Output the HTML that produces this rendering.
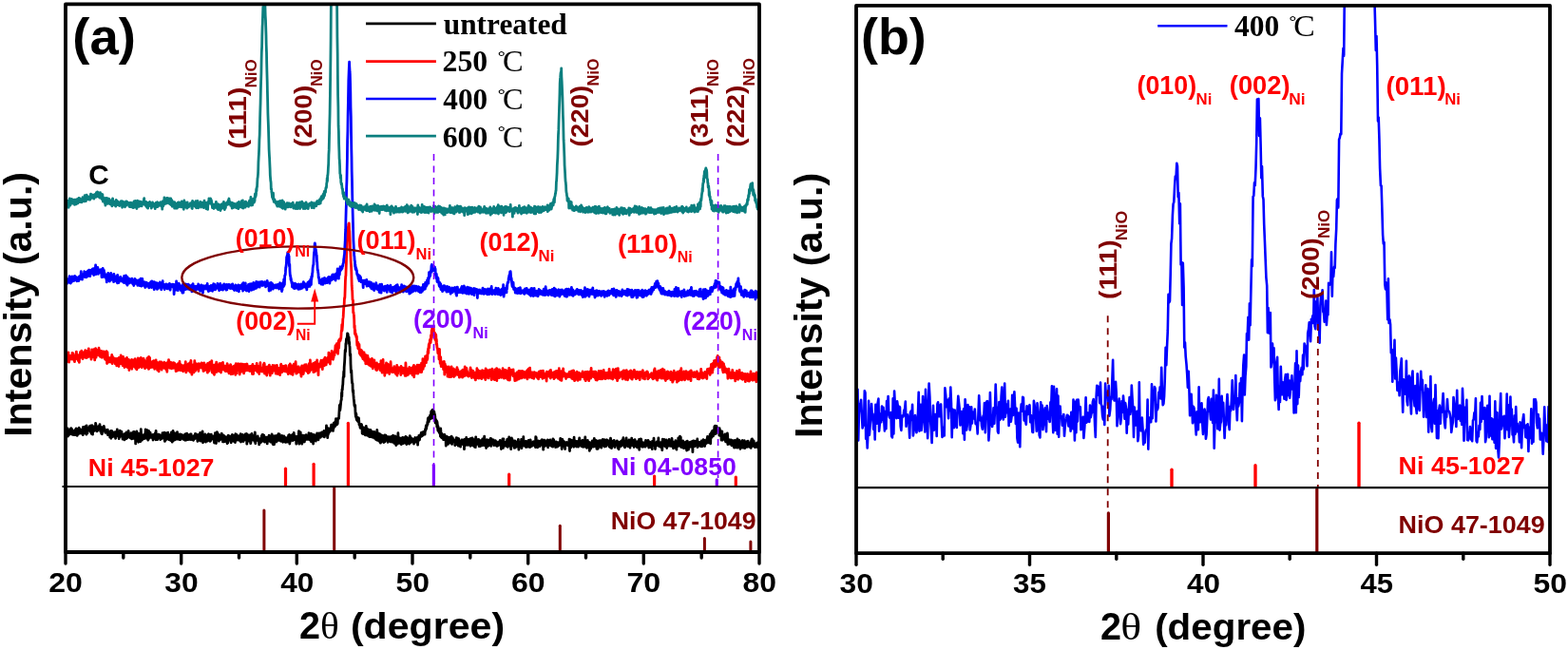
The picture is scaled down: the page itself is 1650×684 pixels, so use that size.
<!DOCTYPE html>
<html><head><meta charset="utf-8"><title>XRD patterns</title>
<style>html,body{margin:0;padding:0;background:#fff;overflow:hidden;}svg{display:block;}</style>
</head><body>
<svg width="1650" height="684" viewBox="0 0 1650 684">
<rect width="1650" height="684" fill="#fff"/>
<defs><clipPath id="clipa"><rect x="69.0" y="4.4" width="730.0" height="576.6"/></clipPath><clipPath id="clipb"><rect x="901.0" y="5.9" width="730.0" height="576.3"/></clipPath></defs>
<polyline fill="none" stroke="#000000" stroke-width="2.80" stroke-linejoin="round" stroke-linecap="round" clip-path="url(#clipa)" points="69.0,455.5 69.2,458.7 69.5,458.4 69.7,454.2 70.0,454.7 70.2,454.1 70.5,456.7 70.7,455.2 70.9,457.1 71.2,450.9 71.4,459.1 71.7,455.1 71.9,456.9 72.2,455.0 72.4,454.4 72.6,456.4 72.9,457.3 73.1,454.8 73.4,454.9 73.6,456.9 73.9,453.1 74.1,451.6 74.4,456.2 74.6,453.6 74.8,450.6 75.1,453.2 75.3,454.0 75.6,452.3 75.8,451.6 76.1,455.2 76.3,457.3 76.5,454.6 76.8,453.3 77.0,456.0 77.3,456.8 77.5,454.4 77.8,456.4 78.0,457.6 78.2,454.6 78.5,453.1 78.7,455.9 79.0,455.6 79.2,457.6 79.5,451.9 79.7,453.4 79.9,453.0 80.2,450.8 80.4,455.3 80.7,456.2 80.9,453.2 81.2,458.3 81.4,456.8 81.7,456.3 81.9,455.7 82.1,457.0 82.4,451.4 82.6,456.0 82.9,455.9 83.1,450.2 83.4,455.2 83.6,453.7 83.8,456.1 84.1,453.1 84.3,454.0 84.6,454.8 84.8,451.8 85.1,455.3 85.3,453.5 85.5,454.9 85.8,452.4 86.0,456.2 86.3,455.0 86.5,453.0 86.8,454.9 87.0,456.3 87.2,457.6 87.5,449.4 87.7,455.2 88.0,454.2 88.2,452.8 88.5,450.5 88.7,455.9 89.0,449.8 89.2,454.1 89.4,455.8 89.7,448.8 89.9,451.8 90.2,449.3 90.4,453.0 90.7,456.0 90.9,457.1 91.1,447.9 91.4,450.7 91.6,453.7 91.9,455.8 92.1,452.9 92.4,450.1 92.6,452.5 92.8,451.8 93.1,451.3 93.3,449.9 93.6,452.6 93.8,452.4 94.1,451.4 94.3,451.0 94.5,448.4 94.8,450.3 95.0,454.3 95.3,450.9 95.5,447.9 95.8,454.5 96.0,452.5 96.3,456.3 96.5,451.3 96.7,450.0 97.0,447.6 97.2,454.2 97.5,457.1 97.7,449.0 98.0,449.3 98.2,452.3 98.4,448.8 98.7,450.1 98.9,449.9 99.2,451.1 99.4,453.3 99.7,450.6 99.9,452.8 100.1,449.5 100.4,451.2 100.6,445.3 100.9,447.0 101.1,452.4 101.4,449.1 101.6,452.0 101.8,451.9 102.1,453.8 102.3,452.7 102.6,453.2 102.8,450.5 103.1,449.2 103.3,449.1 103.6,449.8 103.8,448.3 104.0,449.7 104.3,450.8 104.5,451.7 104.8,450.3 105.0,446.6 105.3,451.1 105.5,451.8 105.7,453.9 106.0,452.7 106.2,449.9 106.5,449.7 106.7,456.3 107.0,453.3 107.2,456.0 107.4,456.7 107.7,449.7 107.9,452.6 108.2,452.8 108.4,453.1 108.7,453.1 108.9,452.4 109.1,452.3 109.4,448.5 109.6,451.9 109.9,450.7 110.1,453.0 110.4,451.8 110.6,454.6 110.9,455.3 111.1,454.3 111.3,454.5 111.6,454.1 111.8,453.0 112.1,453.9 112.3,453.3 112.6,455.6 112.8,454.9 113.0,456.5 113.3,452.1 113.5,457.6 113.8,453.9 114.0,454.1 114.3,455.6 114.5,455.0 114.7,457.2 115.0,455.3 115.2,454.3 115.5,454.9 115.7,460.1 116.0,457.1 116.2,454.2 116.4,457.0 116.7,453.3 116.9,461.3 117.2,453.4 117.4,458.2 117.7,458.4 117.9,453.6 118.2,457.8 118.4,459.5 118.6,458.3 118.9,457.8 119.1,459.4 119.4,457.6 119.6,458.0 119.9,456.9 120.1,458.8 120.3,455.0 120.6,459.2 120.8,456.1 121.1,454.7 121.3,458.2 121.6,461.4 121.8,459.7 122.0,456.1 122.3,459.1 122.5,456.3 122.8,457.1 123.0,457.7 123.3,451.9 123.5,457.9 123.7,455.0 124.0,455.8 124.2,454.0 124.5,453.9 124.7,455.3 125.0,459.5 125.2,461.6 125.5,457.5 125.7,460.2 125.9,457.0 126.2,453.1 126.4,458.0 126.7,458.8 126.9,456.7 127.2,458.4 127.4,459.1 127.6,455.7 127.9,454.2 128.1,457.3 128.4,457.3 128.6,457.0 128.9,460.2 129.1,462.0 129.3,456.9 129.6,459.6 129.8,460.2 130.1,459.6 130.3,460.4 130.6,457.0 130.8,459.7 131.0,462.8 131.3,459.9 131.5,456.5 131.8,459.4 132.0,461.0 132.3,458.8 132.5,456.6 132.8,461.7 133.0,455.0 133.2,459.2 133.5,458.0 133.7,455.1 134.0,460.9 134.2,458.8 134.5,455.2 134.7,459.5 134.9,457.0 135.2,453.5 135.4,456.4 135.7,458.7 135.9,459.6 136.2,458.5 136.4,458.2 136.6,459.2 136.9,457.6 137.1,460.9 137.4,458.5 137.6,458.8 137.9,459.4 138.1,455.6 138.3,456.4 138.6,461.8 138.8,458.9 139.1,457.5 139.3,459.0 139.6,457.0 139.8,458.8 140.1,456.6 140.3,458.8 140.5,454.4 140.8,461.4 141.0,457.0 141.3,454.4 141.5,457.7 141.8,457.3 142.0,458.6 142.2,455.5 142.5,459.2 142.7,466.9 143.0,455.2 143.2,459.1 143.5,457.5 143.7,458.7 143.9,453.9 144.2,455.5 144.4,459.4 144.7,458.2 144.9,462.2 145.2,456.6 145.4,458.7 145.6,465.3 145.9,456.5 146.1,456.2 146.4,458.2 146.6,458.2 146.9,460.4 147.1,458.7 147.4,456.5 147.6,458.9 147.8,464.7 148.1,461.4 148.3,451.7 148.6,458.1 148.8,456.3 149.1,459.9 149.3,458.0 149.5,463.1 149.8,460.7 150.0,460.6 150.3,458.9 150.5,458.4 150.8,459.3 151.0,461.6 151.2,459.8 151.5,457.7 151.7,461.6 152.0,459.0 152.2,458.3 152.5,456.6 152.7,457.2 152.9,457.0 153.2,451.9 153.4,461.0 153.7,459.9 153.9,458.1 154.2,461.1 154.4,459.6 154.7,459.5 154.9,452.7 155.1,458.1 155.4,459.9 155.6,462.5 155.9,463.1 156.1,462.1 156.4,455.9 156.6,453.4 156.8,460.0 157.1,458.8 157.3,461.0 157.6,458.4 157.8,459.2 158.1,455.1 158.3,459.8 158.5,457.7 158.8,459.6 159.0,459.9 159.3,458.5 159.5,459.5 159.8,458.7 160.0,460.6 160.2,460.0 160.5,457.5 160.7,457.4 161.0,463.0 161.2,458.6 161.5,461.2 161.7,459.8 162.0,457.5 162.2,457.1 162.4,459.2 162.7,459.5 162.9,460.4 163.2,455.9 163.4,457.5 163.7,458.7 163.9,462.8 164.1,453.3 164.4,460.0 164.6,457.6 164.9,460.0 165.1,457.8 165.4,459.8 165.6,462.7 165.8,459.8 166.1,460.0 166.3,459.9 166.6,457.2 166.8,460.3 167.1,458.5 167.3,457.1 167.5,458.9 167.8,458.5 168.0,460.9 168.3,459.0 168.5,457.8 168.8,462.6 169.0,461.5 169.3,462.1 169.5,460.6 169.7,458.9 170.0,458.1 170.2,458.5 170.5,461.4 170.7,459.4 171.0,455.6 171.2,459.1 171.4,455.8 171.7,459.6 171.9,456.3 172.2,456.2 172.4,459.5 172.7,459.0 172.9,455.2 173.1,461.0 173.4,464.4 173.6,455.7 173.9,463.6 174.1,457.6 174.4,458.1 174.6,458.8 174.8,455.8 175.1,462.4 175.3,460.5 175.6,457.5 175.8,458.7 176.1,455.7 176.3,458.5 176.6,461.6 176.8,455.2 177.0,458.3 177.3,459.7 177.5,461.9 177.8,462.6 178.0,458.3 178.3,457.6 178.5,460.5 178.7,458.5 179.0,458.7 179.2,462.0 179.5,463.5 179.7,460.1 180.0,459.0 180.2,460.8 180.4,454.9 180.7,459.4 180.9,456.9 181.2,465.2 181.4,461.2 181.7,459.9 181.9,459.1 182.1,453.5 182.4,461.3 182.6,463.5 182.9,457.8 183.1,461.2 183.4,461.3 183.6,455.9 183.9,461.8 184.1,462.8 184.3,460.2 184.6,459.5 184.8,461.5 185.1,455.9 185.3,459.9 185.6,462.2 185.8,456.7 186.0,462.0 186.3,458.7 186.5,454.7 186.8,459.4 187.0,457.4 187.3,460.5 187.5,456.9 187.7,462.2 188.0,458.0 188.2,460.6 188.5,458.3 188.7,459.0 189.0,462.6 189.2,460.3 189.4,458.8 189.7,456.8 189.9,462.6 190.2,461.6 190.4,459.0 190.7,460.4 190.9,457.3 191.2,457.4 191.4,457.8 191.6,460.7 191.9,460.6 192.1,458.1 192.4,461.6 192.6,461.7 192.9,460.3 193.1,462.4 193.3,459.2 193.6,459.6 193.8,461.0 194.1,459.8 194.3,461.8 194.6,456.9 194.8,463.3 195.0,458.0 195.3,459.5 195.5,456.6 195.8,461.4 196.0,463.0 196.3,462.5 196.5,461.9 196.7,456.2 197.0,458.1 197.2,458.9 197.5,457.7 197.7,462.7 198.0,460.4 198.2,459.9 198.5,461.2 198.7,457.7 198.9,457.8 199.2,457.9 199.4,461.2 199.7,460.8 199.9,461.4 200.2,462.6 200.4,456.8 200.6,458.7 200.9,460.4 201.1,456.8 201.4,458.8 201.6,462.5 201.9,462.7 202.1,462.7 202.3,460.2 202.6,459.6 202.8,462.7 203.1,459.2 203.3,460.9 203.6,463.3 203.8,459.2 204.0,458.6 204.3,460.1 204.5,461.6 204.8,461.3 205.0,460.5 205.3,461.5 205.5,456.3 205.8,458.1 206.0,460.5 206.2,457.9 206.5,456.9 206.7,457.3 207.0,458.0 207.2,459.8 207.5,457.7 207.7,460.8 207.9,464.3 208.2,459.9 208.4,463.3 208.7,460.9 208.9,457.5 209.2,459.6 209.4,457.9 209.6,462.1 209.9,457.5 210.1,463.4 210.4,461.6 210.6,455.4 210.9,462.1 211.1,464.0 211.3,458.4 211.6,462.6 211.8,456.0 212.1,460.9 212.3,456.3 212.6,461.5 212.8,456.0 213.1,454.0 213.3,461.3 213.5,465.8 213.8,458.9 214.0,462.3 214.3,460.6 214.5,459.6 214.8,461.8 215.0,464.3 215.2,457.4 215.5,461.7 215.7,461.2 216.0,457.0 216.2,464.3 216.5,465.1 216.7,458.1 216.9,464.6 217.2,460.5 217.4,460.0 217.7,464.0 217.9,461.0 218.2,461.2 218.4,464.1 218.6,463.5 218.9,462.6 219.1,457.1 219.4,456.7 219.6,463.2 219.9,458.2 220.1,460.8 220.4,457.9 220.6,460.0 220.8,457.4 221.1,464.4 221.3,458.0 221.6,460.2 221.8,460.0 222.1,463.4 222.3,457.1 222.5,460.4 222.8,460.0 223.0,461.8 223.3,461.7 223.5,459.4 223.8,461.1 224.0,459.6 224.2,461.7 224.5,460.3 224.7,459.0 225.0,460.5 225.2,461.4 225.5,466.0 225.7,459.4 225.9,461.3 226.2,464.1 226.4,455.6 226.7,456.4 226.9,457.8 227.2,460.3 227.4,466.5 227.7,461.6 227.9,463.5 228.1,460.1 228.4,454.7 228.6,455.1 228.9,463.1 229.1,461.1 229.4,457.5 229.6,463.3 229.8,457.0 230.1,463.4 230.3,464.2 230.6,458.8 230.8,458.0 231.1,462.7 231.3,458.1 231.5,462.8 231.8,457.8 232.0,462.6 232.3,460.9 232.5,459.7 232.8,458.6 233.0,461.3 233.2,456.2 233.5,460.1 233.7,459.8 234.0,462.4 234.2,457.7 234.5,464.9 234.7,460.0 235.0,458.0 235.2,464.1 235.4,464.8 235.7,460.3 235.9,458.6 236.2,460.8 236.4,459.1 236.7,460.1 236.9,464.5 237.1,461.8 237.4,461.2 237.6,461.7 237.9,460.7 238.1,462.8 238.4,462.9 238.6,460.0 238.8,461.1 239.1,466.6 239.3,461.9 239.6,460.4 239.8,465.8 240.1,460.9 240.3,458.2 240.5,462.5 240.8,458.7 241.0,459.7 241.3,461.7 241.5,460.6 241.8,459.1 242.0,459.6 242.3,459.5 242.5,463.7 242.7,459.2 243.0,459.5 243.2,465.8 243.5,459.6 243.7,464.5 244.0,464.1 244.2,460.6 244.4,457.5 244.7,462.0 244.9,462.6 245.2,463.3 245.4,461.1 245.7,463.9 245.9,464.3 246.1,458.5 246.4,464.4 246.6,461.4 246.9,459.6 247.1,460.2 247.4,465.5 247.6,463.4 247.8,456.7 248.1,461.2 248.3,460.7 248.6,460.6 248.8,459.8 249.1,457.5 249.3,463.1 249.6,458.8 249.8,460.2 250.0,459.6 250.3,459.3 250.5,462.8 250.8,462.0 251.0,459.5 251.3,458.8 251.5,460.0 251.7,463.4 252.0,461.4 252.2,461.7 252.5,460.3 252.7,460.5 253.0,461.6 253.2,456.7 253.4,465.0 253.7,459.2 253.9,459.8 254.2,464.4 254.4,461.7 254.7,461.3 254.9,459.8 255.1,457.4 255.4,461.6 255.6,464.1 255.9,459.0 256.1,464.5 256.4,458.5 256.6,459.4 256.9,462.4 257.1,461.2 257.3,462.9 257.6,459.5 257.8,458.8 258.1,456.8 258.3,458.4 258.6,458.7 258.8,457.8 259.0,462.0 259.3,459.7 259.5,456.5 259.8,467.2 260.0,459.3 260.3,458.3 260.5,464.3 260.7,464.1 261.0,458.5 261.2,457.8 261.5,458.9 261.7,464.0 262.0,460.6 262.2,459.4 262.4,461.3 262.7,464.2 262.9,458.0 263.2,460.4 263.4,458.0 263.7,466.6 263.9,465.7 264.2,463.7 264.4,461.1 264.6,463.0 264.9,456.4 265.1,462.1 265.4,458.2 265.6,458.2 265.9,459.7 266.1,460.6 266.3,462.8 266.6,463.1 266.8,462.1 267.1,459.2 267.3,463.1 267.6,461.2 267.8,464.3 268.0,459.3 268.3,454.8 268.5,460.3 268.8,466.7 269.0,462.6 269.3,461.0 269.5,463.6 269.7,462.7 270.0,462.6 270.2,460.3 270.5,461.7 270.7,462.0 271.0,460.0 271.2,458.9 271.5,461.9 271.7,463.9 271.9,463.1 272.2,462.7 272.4,462.8 272.7,467.8 272.9,462.2 273.2,464.1 273.4,466.3 273.6,461.7 273.9,462.2 274.1,464.1 274.4,465.7 274.6,462.4 274.9,462.5 275.1,461.8 275.3,458.7 275.6,464.3 275.8,461.0 276.1,457.5 276.3,461.3 276.6,457.5 276.8,459.2 277.0,461.7 277.3,459.5 277.5,464.2 277.8,458.2 278.0,462.3 278.3,463.0 278.5,465.2 278.8,463.9 279.0,462.3 279.2,461.9 279.5,461.6 279.7,464.5 280.0,460.1 280.2,463.0 280.5,461.5 280.7,462.3 280.9,461.1 281.2,466.9 281.4,460.2 281.7,462.4 281.9,462.4 282.2,463.2 282.4,462.9 282.6,462.8 282.9,464.1 283.1,458.2 283.4,461.8 283.6,458.8 283.9,462.4 284.1,459.0 284.3,459.5 284.6,461.7 284.8,465.2 285.1,463.2 285.3,462.5 285.6,465.2 285.8,459.6 286.1,456.8 286.3,460.8 286.5,461.2 286.8,464.8 287.0,467.0 287.3,458.6 287.5,467.8 287.8,465.6 288.0,463.9 288.2,462.7 288.5,467.7 288.7,462.1 289.0,460.7 289.2,462.2 289.5,458.6 289.7,463.0 289.9,461.6 290.2,462.7 290.4,462.7 290.7,459.3 290.9,465.0 291.2,459.4 291.4,464.0 291.6,458.1 291.9,462.8 292.1,459.9 292.4,462.0 292.6,460.3 292.9,456.7 293.1,459.2 293.4,462.1 293.6,463.4 293.8,458.4 294.1,456.8 294.3,459.8 294.6,461.4 294.8,460.4 295.1,460.0 295.3,464.0 295.5,464.2 295.8,463.7 296.0,459.7 296.3,462.1 296.5,461.5 296.8,458.5 297.0,464.0 297.2,462.1 297.5,460.8 297.7,465.3 298.0,463.8 298.2,464.0 298.5,464.8 298.7,463.6 298.9,458.9 299.2,461.0 299.4,464.3 299.7,460.1 299.9,462.0 300.2,462.9 300.4,465.4 300.7,465.0 300.9,464.1 301.1,461.5 301.4,464.1 301.6,463.2 301.9,461.5 302.1,465.2 302.4,463.1 302.6,460.1 302.8,464.9 303.1,461.3 303.3,463.3 303.6,458.2 303.8,461.8 304.1,459.6 304.3,459.6 304.5,457.3 304.8,467.0 305.0,461.5 305.3,462.4 305.5,464.5 305.8,461.6 306.0,463.1 306.2,458.6 306.5,462.3 306.7,460.9 307.0,463.0 307.2,462.3 307.5,458.5 307.7,457.4 308.0,459.4 308.2,463.6 308.4,462.8 308.7,462.8 308.9,457.0 309.2,455.4 309.4,460.3 309.7,461.0 309.9,460.3 310.1,462.6 310.4,461.4 310.6,458.9 310.9,459.6 311.1,462.1 311.4,461.9 311.6,461.6 311.8,467.2 312.1,461.1 312.3,462.0 312.6,459.3 312.8,460.8 313.1,462.9 313.3,463.0 313.5,461.3 313.8,462.6 314.0,461.8 314.3,457.1 314.5,453.7 314.8,467.1 315.0,463.6 315.3,461.4 315.5,457.4 315.7,458.5 316.0,464.8 316.2,454.8 316.5,460.7 316.7,463.5 317.0,461.8 317.2,463.2 317.4,461.1 317.7,467.1 317.9,458.9 318.2,458.1 318.4,462.0 318.7,464.7 318.9,461.2 319.1,463.8 319.4,460.0 319.6,458.4 319.9,464.6 320.1,465.0 320.4,464.9 320.6,460.1 320.8,458.4 321.1,458.3 321.3,460.5 321.6,462.5 321.8,462.3 322.1,457.6 322.3,461.5 322.6,461.0 322.8,461.2 323.0,460.9 323.3,460.4 323.5,462.3 323.8,461.1 324.0,461.3 324.3,459.1 324.5,461.7 324.7,460.4 325.0,455.6 325.2,461.8 325.5,460.0 325.7,462.8 326.0,460.2 326.2,460.3 326.4,461.0 326.7,460.4 326.9,459.3 327.2,456.1 327.4,464.8 327.7,456.5 327.9,459.4 328.1,461.8 328.4,461.1 328.6,461.5 328.9,462.0 329.1,463.1 329.4,460.7 329.6,467.0 329.9,457.5 330.1,460.4 330.3,459.0 330.6,458.5 330.8,460.4 331.1,463.2 331.3,457.9 331.6,457.9 331.8,461.3 332.0,460.8 332.3,464.1 332.5,461.8 332.8,459.9 333.0,458.5 333.3,459.7 333.5,458.7 333.7,455.8 334.0,459.0 334.2,458.5 334.5,458.3 334.7,457.8 335.0,462.8 335.2,460.4 335.4,460.9 335.7,457.1 335.9,456.0 336.2,457.7 336.4,458.9 336.7,457.4 336.9,457.7 337.2,460.4 337.4,458.7 337.6,455.6 337.9,456.8 338.1,456.2 338.4,458.1 338.6,454.8 338.9,457.1 339.1,459.1 339.3,457.4 339.6,455.0 339.8,455.6 340.1,457.3 340.3,458.1 340.6,458.8 340.8,456.3 341.0,453.4 341.3,459.9 341.5,457.1 341.8,457.2 342.0,456.8 342.3,453.5 342.5,455.1 342.7,456.4 343.0,458.1 343.2,455.6 343.5,447.8 343.7,454.6 344.0,455.9 344.2,458.0 344.5,456.5 344.7,460.6 344.9,457.9 345.2,457.5 345.4,456.4 345.7,450.7 345.9,455.8 346.2,455.1 346.4,452.2 346.6,454.7 346.9,454.1 347.1,451.8 347.4,452.4 347.6,451.9 347.9,452.9 348.1,451.1 348.3,453.2 348.6,447.1 348.8,450.8 349.1,447.2 349.3,449.8 349.6,452.0 349.8,450.5 350.0,449.9 350.3,450.1 350.5,453.4 350.8,446.7 351.0,451.2 351.3,445.1 351.5,447.3 351.8,448.5 352.0,445.7 352.2,447.9 352.5,448.8 352.7,443.8 353.0,446.0 353.2,444.9 353.5,440.7 353.7,444.4 353.9,442.4 354.2,447.0 354.4,441.1 354.7,446.7 354.9,440.7 355.2,446.0 355.4,441.9 355.6,440.9 355.9,440.9 356.1,440.3 356.4,440.5 356.6,440.3 356.9,434.3 357.1,431.0 357.3,426.3 357.6,430.5 357.8,431.9 358.1,429.5 358.3,427.3 358.6,424.5 358.8,422.0 359.1,421.0 359.3,420.6 359.5,413.4 359.8,417.1 360.0,409.6 360.3,410.2 360.5,406.5 360.8,404.5 361.0,400.1 361.2,396.9 361.5,396.2 361.7,391.0 362.0,396.4 362.2,386.3 362.5,382.4 362.7,379.4 362.9,374.9 363.2,368.3 363.4,370.4 363.7,368.7 363.9,361.5 364.2,362.3 364.4,356.9 364.6,357.6 364.9,356.6 365.1,355.4 365.4,354.2 365.6,350.8 365.9,354.4 366.1,351.5 366.4,354.1 366.6,356.1 366.8,355.2 367.1,354.8 367.3,361.6 367.6,359.9 367.8,363.2 368.1,365.7 368.3,373.5 368.5,374.3 368.8,372.6 369.0,383.0 369.3,389.5 369.5,392.2 369.8,389.8 370.0,394.5 370.2,398.6 370.5,402.6 370.7,403.4 371.0,403.5 371.2,410.7 371.5,412.9 371.7,410.7 371.9,415.4 372.2,419.2 372.4,420.6 372.7,423.9 372.9,426.5 373.2,427.7 373.4,427.8 373.7,426.4 373.9,432.6 374.1,435.9 374.4,438.6 374.6,435.0 374.9,436.2 375.1,440.8 375.4,441.8 375.6,440.1 375.8,441.9 376.1,439.2 376.3,443.2 376.6,440.6 376.8,442.9 377.1,443.6 377.3,443.4 377.5,440.0 377.8,443.6 378.0,446.9 378.3,446.5 378.5,446.1 378.8,448.5 379.0,449.6 379.2,450.4 379.5,446.8 379.7,449.1 380.0,448.6 380.2,447.7 380.5,446.5 380.7,450.2 381.0,448.6 381.2,456.2 381.4,451.0 381.7,451.0 381.9,450.8 382.2,456.6 382.4,450.0 382.7,452.2 382.9,450.9 383.1,452.7 383.4,453.1 383.6,456.1 383.9,450.2 384.1,453.8 384.4,457.9 384.6,453.0 384.8,454.0 385.1,452.5 385.3,448.5 385.6,454.7 385.8,457.9 386.1,454.2 386.3,451.0 386.5,456.3 386.8,456.0 387.0,458.3 387.3,458.3 387.5,455.6 387.8,457.3 388.0,452.2 388.3,459.3 388.5,457.2 388.7,459.5 389.0,459.6 389.2,456.5 389.5,456.9 389.7,455.3 390.0,452.5 390.2,457.3 390.4,458.1 390.7,455.2 390.9,459.7 391.2,458.3 391.4,459.2 391.7,456.4 391.9,454.1 392.1,460.3 392.4,460.0 392.6,458.4 392.9,457.7 393.1,458.2 393.4,458.6 393.6,457.8 393.8,454.3 394.1,461.1 394.3,455.7 394.6,458.5 394.8,458.7 395.1,460.1 395.3,455.7 395.6,462.5 395.8,461.3 396.0,461.6 396.3,462.9 396.5,458.0 396.8,452.5 397.0,460.9 397.3,463.3 397.5,463.0 397.7,459.0 398.0,460.1 398.2,461.1 398.5,456.1 398.7,458.9 399.0,459.0 399.2,464.4 399.4,459.1 399.7,464.5 399.9,460.8 400.2,456.8 400.4,466.2 400.7,458.6 400.9,462.5 401.1,465.2 401.4,459.8 401.6,458.2 401.9,463.7 402.1,461.4 402.4,458.3 402.6,458.7 402.9,460.4 403.1,463.7 403.3,460.8 403.6,463.1 403.8,465.5 404.1,464.6 404.3,465.1 404.6,464.6 404.8,457.8 405.0,464.7 405.3,462.6 405.5,461.5 405.8,459.2 406.0,458.1 406.3,459.2 406.5,461.9 406.7,459.2 407.0,460.0 407.2,460.6 407.5,463.7 407.7,461.4 408.0,461.8 408.2,465.3 408.4,461.4 408.7,463.7 408.9,459.7 409.2,463.1 409.4,462.6 409.7,462.7 409.9,461.2 410.2,459.9 410.4,461.7 410.6,461.3 410.9,464.9 411.1,464.6 411.4,459.6 411.6,464.0 411.9,461.4 412.1,463.7 412.3,461.4 412.6,459.1 412.8,465.1 413.1,463.7 413.3,459.7 413.6,458.1 413.8,461.4 414.0,459.9 414.3,461.9 414.5,464.2 414.8,466.3 415.0,461.9 415.3,466.1 415.5,465.6 415.7,461.8 416.0,458.8 416.2,464.9 416.5,464.3 416.7,468.5 417.0,466.3 417.2,464.8 417.5,467.0 417.7,460.4 417.9,463.4 418.2,462.3 418.4,467.2 418.7,464.4 418.9,455.7 419.2,466.3 419.4,460.9 419.6,464.9 419.9,461.9 420.1,463.7 420.4,464.6 420.6,463.6 420.9,460.8 421.1,466.5 421.3,464.1 421.6,463.1 421.8,464.9 422.1,461.9 422.3,467.7 422.6,463.7 422.8,464.1 423.0,464.0 423.3,461.0 423.5,460.4 423.8,463.7 424.0,464.1 424.3,466.5 424.5,464.3 424.8,460.6 425.0,464.5 425.2,465.2 425.5,465.6 425.7,464.0 426.0,460.3 426.2,466.0 426.5,461.5 426.7,464.6 426.9,459.5 427.2,465.1 427.4,461.3 427.7,465.8 427.9,467.5 428.2,466.0 428.4,460.4 428.6,460.9 428.9,461.1 429.1,464.8 429.4,464.0 429.6,463.6 429.9,463.9 430.1,464.6 430.3,464.7 430.6,467.2 430.8,463.0 431.1,463.6 431.3,458.7 431.6,459.9 431.8,461.4 432.1,460.2 432.3,463.6 432.5,465.5 432.8,462.0 433.0,461.8 433.3,461.8 433.5,463.3 433.8,461.6 434.0,463.9 434.2,463.6 434.5,463.7 434.7,464.7 435.0,462.9 435.2,463.1 435.5,467.0 435.7,462.6 435.9,464.6 436.2,462.8 436.4,461.5 436.7,461.5 436.9,460.5 437.2,462.5 437.4,461.0 437.6,461.3 437.9,465.2 438.1,461.9 438.4,464.9 438.6,462.7 438.9,464.1 439.1,460.5 439.4,462.2 439.6,468.1 439.8,463.7 440.1,464.0 440.3,462.0 440.6,463.4 440.8,458.5 441.1,459.1 441.3,462.0 441.5,462.8 441.8,459.7 442.0,460.0 442.3,459.4 442.5,459.7 442.8,457.0 443.0,456.3 443.2,459.3 443.5,455.1 443.7,456.6 444.0,457.1 444.2,455.9 444.5,458.6 444.7,456.7 444.9,457.2 445.2,454.6 445.4,454.9 445.7,457.5 445.9,456.7 446.2,454.2 446.4,455.8 446.7,454.9 446.9,454.3 447.1,457.2 447.4,451.9 447.6,453.3 447.9,452.7 448.1,450.5 448.4,447.6 448.6,451.4 448.8,449.7 449.1,448.5 449.3,447.8 449.6,447.1 449.8,444.1 450.1,446.3 450.3,440.5 450.5,444.0 450.8,439.7 451.0,441.7 451.3,443.6 451.5,440.5 451.8,439.3 452.0,441.0 452.2,438.4 452.5,437.5 452.7,436.9 453.0,440.9 453.2,438.4 453.5,437.5 453.7,433.1 454.0,437.1 454.2,432.3 454.4,436.4 454.7,432.4 454.9,439.8 455.2,431.1 455.4,438.2 455.7,437.3 455.9,431.4 456.1,435.4 456.4,439.9 456.6,439.6 456.9,433.4 457.1,436.7 457.4,435.7 457.6,436.7 457.8,438.3 458.1,445.0 458.3,441.6 458.6,441.5 458.8,442.0 459.1,445.1 459.3,445.9 459.5,442.8 459.8,449.3 460.0,443.9 460.3,446.6 460.5,449.1 460.8,452.8 461.0,448.6 461.3,450.8 461.5,453.9 461.7,452.9 462.0,454.7 462.2,455.1 462.5,453.8 462.7,455.3 463.0,456.5 463.2,454.7 463.4,459.1 463.7,451.0 463.9,454.0 464.2,460.2 464.4,458.1 464.7,456.0 464.9,458.8 465.1,460.9 465.4,457.2 465.6,460.8 465.9,458.9 466.1,459.2 466.4,459.6 466.6,462.7 466.8,457.6 467.1,459.6 467.3,462.3 467.6,458.0 467.8,457.4 468.1,462.7 468.3,461.5 468.6,461.3 468.8,462.2 469.0,459.6 469.3,469.1 469.5,459.9 469.8,461.3 470.0,459.1 470.3,461.6 470.5,466.4 470.7,462.8 471.0,464.3 471.2,461.8 471.5,467.4 471.7,463.5 472.0,460.2 472.2,465.1 472.4,462.5 472.7,464.9 472.9,463.8 473.2,464.2 473.4,463.9 473.7,461.5 473.9,460.1 474.1,466.1 474.4,463.5 474.6,464.5 474.9,462.8 475.1,459.1 475.4,460.9 475.6,467.4 475.9,462.2 476.1,463.2 476.3,460.6 476.6,462.9 476.8,463.3 477.1,463.7 477.3,464.1 477.6,462.8 477.8,463.0 478.0,464.3 478.3,465.2 478.5,464.1 478.8,468.6 479.0,465.0 479.3,464.9 479.5,463.0 479.7,467.0 480.0,462.1 480.2,460.7 480.5,462.3 480.7,466.2 481.0,461.9 481.2,467.8 481.4,464.7 481.7,461.1 481.9,464.2 482.2,469.1 482.4,462.8 482.7,461.7 482.9,466.1 483.2,468.0 483.4,467.3 483.6,464.1 483.9,465.4 484.1,465.7 484.4,467.8 484.6,470.2 484.9,464.8 485.1,468.1 485.3,464.2 485.6,466.5 485.8,462.8 486.1,463.3 486.3,466.1 486.6,463.0 486.8,467.3 487.0,463.8 487.3,465.4 487.5,465.0 487.8,464.4 488.0,465.5 488.3,467.8 488.5,472.7 488.7,462.4 489.0,466.0 489.2,464.9 489.5,463.1 489.7,466.0 490.0,463.2 490.2,465.2 490.5,468.3 490.7,460.5 490.9,466.0 491.2,466.5 491.4,463.1 491.7,466.7 491.9,466.3 492.2,464.6 492.4,468.4 492.6,462.3 492.9,467.0 493.1,464.9 493.4,463.0 493.6,465.1 493.9,464.7 494.1,467.5 494.3,462.0 494.6,465.1 494.8,464.5 495.1,469.3 495.3,462.9 495.6,468.1 495.8,461.4 496.0,466.4 496.3,465.3 496.5,466.5 496.8,463.9 497.0,460.9 497.3,461.9 497.5,468.8 497.8,466.1 498.0,463.6 498.2,467.8 498.5,463.8 498.7,463.9 499.0,462.7 499.2,468.5 499.5,470.4 499.7,463.3 499.9,466.4 500.2,468.0 500.4,470.7 500.7,459.9 500.9,466.0 501.2,467.2 501.4,462.1 501.6,466.7 501.9,466.2 502.1,467.4 502.4,464.3 502.6,466.7 502.9,464.2 503.1,467.2 503.3,466.1 503.6,464.8 503.8,462.3 504.1,469.7 504.3,468.4 504.6,467.8 504.8,464.1 505.1,464.9 505.3,469.7 505.5,467.5 505.8,463.7 506.0,465.9 506.3,466.1 506.5,465.3 506.8,463.5 507.0,468.8 507.2,467.2 507.5,465.3 507.7,462.0 508.0,464.4 508.2,465.8 508.5,467.9 508.7,464.9 508.9,468.5 509.2,466.2 509.4,464.0 509.7,459.1 509.9,463.0 510.2,462.3 510.4,465.5 510.6,466.7 510.9,469.2 511.1,465.8 511.4,463.1 511.6,471.5 511.9,466.6 512.1,465.3 512.4,465.3 512.6,462.7 512.8,467.4 513.1,466.8 513.3,469.7 513.6,468.6 513.8,468.0 514.1,469.0 514.3,465.3 514.5,464.9 514.8,465.8 515.0,463.0 515.3,465.6 515.5,465.2 515.8,467.6 516.0,465.9 516.2,461.4 516.5,466.1 516.7,469.4 517.0,461.6 517.2,464.2 517.5,466.0 517.7,462.8 517.9,464.7 518.2,466.2 518.4,462.9 518.7,466.7 518.9,467.0 519.2,463.0 519.4,466.1 519.7,468.6 519.9,465.6 520.1,467.1 520.4,467.6 520.6,465.5 520.9,468.4 521.1,467.0 521.4,463.7 521.6,467.3 521.8,468.2 522.1,468.0 522.3,464.6 522.6,467.2 522.8,469.4 523.1,466.7 523.3,469.0 523.5,469.2 523.8,466.0 524.0,467.7 524.3,465.4 524.5,468.7 524.8,465.9 525.0,464.8 525.2,466.1 525.5,466.0 525.7,467.1 526.0,467.3 526.2,463.4 526.5,464.6 526.7,467.0 527.0,467.3 527.2,466.4 527.4,472.5 527.7,468.9 527.9,466.0 528.2,468.0 528.4,469.4 528.7,467.1 528.9,462.0 529.1,466.5 529.4,466.4 529.6,471.4 529.9,461.8 530.1,470.0 530.4,465.9 530.6,468.5 530.8,465.6 531.1,466.7 531.3,469.0 531.6,466.5 531.8,468.8 532.1,466.1 532.3,465.3 532.5,465.8 532.8,465.1 533.0,466.0 533.3,469.6 533.5,463.5 533.8,462.3 534.0,466.3 534.3,470.4 534.5,468.8 534.7,469.5 535.0,469.3 535.2,464.6 535.5,466.6 535.7,460.0 536.0,464.9 536.2,467.8 536.4,462.6 536.7,461.4 536.9,463.3 537.2,466.9 537.4,469.2 537.7,472.6 537.9,469.8 538.1,462.8 538.4,460.8 538.6,466.8 538.9,469.0 539.1,462.5 539.4,465.2 539.6,465.4 539.8,466.5 540.1,466.0 540.3,467.7 540.6,469.0 540.8,466.6 541.1,468.3 541.3,471.3 541.6,464.0 541.8,464.0 542.0,467.7 542.3,471.0 542.5,466.9 542.8,469.1 543.0,465.8 543.3,468.7 543.5,465.0 543.7,468.2 544.0,467.5 544.2,467.5 544.5,469.9 544.7,469.1 545.0,465.1 545.2,468.7 545.4,462.5 545.7,469.0 545.9,473.2 546.2,467.9 546.4,467.8 546.7,466.8 546.9,468.6 547.1,465.6 547.4,468.3 547.6,466.0 547.9,465.6 548.1,467.0 548.4,466.5 548.6,462.5 548.9,471.7 549.1,467.0 549.3,462.6 549.6,469.3 549.8,466.6 550.1,467.2 550.3,468.4 550.6,464.6 550.8,459.6 551.0,466.5 551.3,467.3 551.5,469.1 551.8,464.9 552.0,466.1 552.3,467.7 552.5,466.0 552.7,466.1 553.0,467.3 553.2,464.3 553.5,470.5 553.7,464.5 554.0,466.8 554.2,465.9 554.4,465.0 554.7,468.0 554.9,469.2 555.2,470.2 555.4,468.1 555.7,465.7 555.9,468.8 556.2,463.3 556.4,466.9 556.6,468.0 556.9,468.1 557.1,464.0 557.4,463.1 557.6,470.7 557.9,465.5 558.1,462.8 558.3,463.7 558.6,466.7 558.8,469.5 559.1,466.7 559.3,469.6 559.6,467.2 559.8,467.8 560.0,469.1 560.3,465.8 560.5,467.4 560.8,465.8 561.0,465.2 561.3,468.3 561.5,464.7 561.7,466.9 562.0,464.8 562.2,466.5 562.5,465.4 562.7,469.3 563.0,466.9 563.2,466.9 563.5,470.6 563.7,459.7 563.9,464.0 564.2,460.1 564.4,466.6 564.7,467.7 564.9,468.2 565.2,467.3 565.4,464.5 565.6,470.8 565.9,467.3 566.1,466.0 566.4,463.9 566.6,467.6 566.9,465.4 567.1,465.5 567.3,467.1 567.6,467.1 567.8,464.6 568.1,469.6 568.3,464.2 568.6,463.9 568.8,467.3 569.0,466.9 569.3,466.7 569.5,465.6 569.8,466.7 570.0,465.2 570.3,462.6 570.5,468.3 570.8,464.1 571.0,466.0 571.2,468.3 571.5,466.6 571.7,473.1 572.0,463.2 572.2,464.8 572.5,466.8 572.7,469.8 572.9,466.0 573.2,463.1 573.4,469.3 573.7,464.4 573.9,466.1 574.2,468.7 574.4,465.0 574.6,465.5 574.9,467.7 575.1,466.1 575.4,467.3 575.6,464.3 575.9,466.3 576.1,463.9 576.3,462.8 576.6,470.8 576.8,467.7 577.1,468.8 577.3,464.2 577.6,466.5 577.8,466.1 578.1,463.2 578.3,467.9 578.5,464.8 578.8,466.1 579.0,462.9 579.3,468.9 579.5,468.4 579.8,467.5 580.0,464.4 580.2,465.3 580.5,469.5 580.7,465.9 581.0,467.2 581.2,466.9 581.5,463.9 581.7,470.2 581.9,461.8 582.2,467.1 582.4,466.4 582.7,462.7 582.9,467.4 583.2,467.8 583.4,466.7 583.6,464.6 583.9,467.7 584.1,469.3 584.4,467.1 584.6,470.7 584.9,468.6 585.1,468.4 585.4,469.9 585.6,465.0 585.8,465.3 586.1,467.8 586.3,467.8 586.6,470.2 586.8,469.3 587.1,467.0 587.3,467.1 587.5,465.9 587.8,465.7 588.0,465.5 588.3,468.8 588.5,465.5 588.8,465.8 589.0,467.0 589.2,465.4 589.5,466.1 589.7,461.4 590.0,467.5 590.2,465.9 590.5,467.1 590.7,467.6 590.9,462.2 591.2,472.5 591.4,467.1 591.7,467.2 591.9,462.5 592.2,468.3 592.4,467.8 592.7,466.0 592.9,467.4 593.1,469.9 593.4,466.1 593.6,464.7 593.9,470.1 594.1,467.6 594.4,466.5 594.6,472.5 594.8,467.3 595.1,466.6 595.3,467.6 595.6,466.0 595.8,467.5 596.1,467.3 596.3,465.4 596.5,466.3 596.8,467.7 597.0,467.9 597.3,468.4 597.5,468.8 597.8,467.6 598.0,468.2 598.2,466.0 598.5,466.3 598.7,469.4 599.0,462.2 599.2,467.8 599.5,474.5 599.7,462.5 600.0,470.5 600.2,462.7 600.4,467.8 600.7,470.8 600.9,470.4 601.2,464.7 601.4,463.7 601.7,463.4 601.9,468.5 602.1,465.9 602.4,466.8 602.6,467.4 602.9,467.8 603.1,468.1 603.4,467.1 603.6,462.9 603.8,470.3 604.1,460.2 604.3,469.7 604.6,465.3 604.8,466.3 605.1,465.5 605.3,465.9 605.5,466.7 605.8,466.1 606.0,464.1 606.3,468.8 606.5,465.4 606.8,470.0 607.0,466.4 607.3,465.1 607.5,467.8 607.7,468.9 608.0,464.5 608.2,466.1 608.5,470.2 608.7,464.4 609.0,464.7 609.2,467.2 609.4,463.8 609.7,460.8 609.9,462.8 610.2,467.7 610.4,468.3 610.7,468.2 610.9,467.7 611.1,463.8 611.4,468.4 611.6,469.5 611.9,465.1 612.1,469.0 612.4,465.9 612.6,467.2 612.8,467.7 613.1,463.2 613.3,470.3 613.6,464.7 613.8,466.5 614.1,465.6 614.3,467.9 614.6,467.8 614.8,466.8 615.0,470.2 615.3,467.5 615.5,465.8 615.8,459.9 616.0,466.1 616.3,466.1 616.5,464.7 616.7,464.7 617.0,468.2 617.2,469.3 617.5,471.3 617.7,469.5 618.0,465.1 618.2,467.4 618.4,463.5 618.7,468.6 618.9,467.7 619.2,465.3 619.4,466.6 619.7,466.2 619.9,465.3 620.1,470.0 620.4,474.3 620.6,468.8 620.9,469.4 621.1,467.2 621.4,466.0 621.6,472.1 621.9,465.9 622.1,467.8 622.3,466.5 622.6,468.2 622.8,466.7 623.1,468.2 623.3,463.8 623.6,466.6 623.8,470.1 624.0,464.3 624.3,465.2 624.5,470.1 624.8,467.8 625.0,469.4 625.3,461.5 625.5,467.2 625.7,463.8 626.0,463.5 626.2,467.8 626.5,469.7 626.7,463.2 627.0,464.2 627.2,465.4 627.4,466.5 627.7,463.6 627.9,472.3 628.2,468.2 628.4,466.0 628.7,465.6 628.9,472.4 629.2,472.2 629.4,465.6 629.6,467.7 629.9,469.9 630.1,464.0 630.4,465.4 630.6,470.1 630.9,465.1 631.1,465.8 631.3,463.6 631.6,465.0 631.8,468.5 632.1,464.8 632.3,463.7 632.6,465.3 632.8,471.1 633.0,467.2 633.3,465.4 633.5,467.2 633.8,467.9 634.0,467.1 634.3,462.4 634.5,467.5 634.7,466.3 635.0,468.8 635.2,463.5 635.5,469.3 635.7,465.6 636.0,462.7 636.2,470.0 636.5,465.5 636.7,467.7 636.9,466.4 637.2,469.4 637.4,469.4 637.7,469.5 637.9,468.5 638.2,462.9 638.4,462.7 638.6,467.3 638.9,464.5 639.1,467.9 639.4,467.2 639.6,463.4 639.9,464.3 640.1,464.0 640.3,464.6 640.6,466.3 640.8,468.4 641.1,470.0 641.3,464.4 641.6,465.4 641.8,470.5 642.0,468.9 642.3,467.3 642.5,461.1 642.8,464.3 643.0,467.2 643.3,465.3 643.5,471.6 643.8,467.0 644.0,467.5 644.2,464.1 644.5,464.2 644.7,465.2 645.0,465.3 645.2,466.2 645.5,467.7 645.7,467.4 645.9,469.2 646.2,463.5 646.4,467.3 646.7,467.4 646.9,470.6 647.2,466.3 647.4,467.6 647.6,464.8 647.9,467.8 648.1,467.7 648.4,465.3 648.6,465.7 648.9,466.7 649.1,468.2 649.3,464.0 649.6,468.9 649.8,466.0 650.1,471.4 650.3,470.3 650.6,465.8 650.8,465.3 651.1,472.8 651.3,468.3 651.5,468.2 651.8,465.8 652.0,466.5 652.3,468.8 652.5,468.3 652.8,464.8 653.0,469.8 653.2,467.5 653.5,464.5 653.7,469.2 654.0,466.4 654.2,468.7 654.5,465.5 654.7,467.7 654.9,462.9 655.2,467.7 655.4,463.1 655.7,467.2 655.9,460.7 656.2,466.7 656.4,468.6 656.6,468.0 656.9,469.7 657.1,464.2 657.4,470.6 657.6,470.7 657.9,463.9 658.1,464.9 658.4,465.4 658.6,466.8 658.8,467.3 659.1,460.8 659.3,468.3 659.6,466.2 659.8,464.3 660.1,469.1 660.3,466.0 660.5,469.6 660.8,468.1 661.0,466.0 661.3,469.7 661.5,468.8 661.8,465.6 662.0,462.9 662.2,465.5 662.5,468.3 662.7,466.2 663.0,471.1 663.2,467.4 663.5,467.3 663.7,467.8 663.9,464.7 664.2,466.5 664.4,465.2 664.7,461.1 664.9,462.5 665.2,468.6 665.4,465.7 665.7,466.5 665.9,463.2 666.1,465.4 666.4,468.7 666.6,467.1 666.9,465.6 667.1,470.5 667.4,466.7 667.6,466.0 667.8,469.6 668.1,462.6 668.3,468.2 668.6,464.1 668.8,464.9 669.1,465.2 669.3,467.1 669.5,467.1 669.8,467.6 670.0,467.3 670.3,470.2 670.5,470.9 670.8,468.5 671.0,468.7 671.2,465.9 671.5,464.2 671.7,468.3 672.0,466.9 672.2,468.9 672.5,462.4 672.7,473.3 673.0,463.8 673.2,466.9 673.4,469.2 673.7,463.5 673.9,465.5 674.2,462.0 674.4,463.4 674.7,462.2 674.9,467.1 675.1,467.6 675.4,466.1 675.6,469.9 675.9,470.2 676.1,466.8 676.4,466.3 676.6,466.2 676.8,465.8 677.1,470.0 677.3,467.4 677.6,466.0 677.8,466.3 678.1,468.2 678.3,465.9 678.5,467.6 678.8,466.8 679.0,470.1 679.3,469.7 679.5,463.4 679.8,466.5 680.0,468.6 680.3,465.8 680.5,468.8 680.7,467.7 681.0,468.3 681.2,466.7 681.5,467.6 681.7,468.2 682.0,463.3 682.2,464.7 682.4,464.4 682.7,471.0 682.9,467.6 683.2,467.8 683.4,467.3 683.7,465.6 683.9,465.1 684.1,469.0 684.4,466.0 684.6,470.7 684.9,467.4 685.1,467.1 685.4,466.4 685.6,466.7 685.8,467.0 686.1,470.6 686.3,472.6 686.6,464.1 686.8,467.5 687.1,468.6 687.3,464.7 687.6,465.4 687.8,465.8 688.0,461.1 688.3,468.5 688.5,466.8 688.8,466.7 689.0,467.1 689.3,467.5 689.5,472.5 689.7,467.4 690.0,469.0 690.2,465.7 690.5,467.8 690.7,466.2 691.0,466.6 691.2,464.8 691.4,465.0 691.7,468.1 691.9,468.8 692.2,468.1 692.4,465.4 692.7,467.7 692.9,460.9 693.1,469.2 693.4,466.9 693.6,467.6 693.9,469.8 694.1,466.0 694.4,469.3 694.6,465.9 694.9,468.3 695.1,466.0 695.3,467.7 695.6,470.5 695.8,465.4 696.1,465.5 696.3,466.2 696.6,467.7 696.8,473.6 697.0,465.6 697.3,462.1 697.5,465.4 697.8,463.2 698.0,465.7 698.3,467.1 698.5,464.7 698.7,465.4 699.0,462.5 699.2,467.5 699.5,465.2 699.7,469.7 700.0,469.6 700.2,465.0 700.4,466.2 700.7,467.2 700.9,468.9 701.2,463.0 701.4,466.9 701.7,471.5 701.9,466.8 702.2,467.6 702.4,467.1 702.6,464.2 702.9,469.4 703.1,467.7 703.4,467.5 703.6,468.8 703.9,469.0 704.1,462.5 704.3,468.2 704.6,465.7 704.8,467.5 705.1,465.4 705.3,465.0 705.6,469.4 705.8,467.1 706.0,466.4 706.3,466.4 706.5,467.3 706.8,467.1 707.0,461.4 707.3,465.0 707.5,466.5 707.7,468.9 708.0,470.4 708.2,464.9 708.5,471.8 708.7,467.4 709.0,468.3 709.2,465.9 709.5,465.7 709.7,470.6 709.9,466.6 710.2,466.9 710.4,469.9 710.7,471.3 710.9,463.6 711.2,466.7 711.4,467.1 711.6,471.5 711.9,473.1 712.1,467.1 712.4,468.1 712.6,469.3 712.9,470.0 713.1,466.4 713.3,469.3 713.6,465.5 713.8,460.8 714.1,463.9 714.3,467.7 714.6,469.1 714.8,461.8 715.0,462.9 715.3,467.1 715.5,459.1 715.8,468.6 716.0,469.7 716.3,460.1 716.5,469.1 716.8,466.8 717.0,470.6 717.2,467.9 717.5,466.7 717.7,467.5 718.0,469.5 718.2,467.7 718.5,467.3 718.7,463.8 718.9,468.4 719.2,467.3 719.4,471.7 719.7,467.2 719.9,467.0 720.2,465.7 720.4,469.0 720.6,466.8 720.9,465.6 721.1,471.1 721.4,471.5 721.6,466.2 721.9,464.8 722.1,470.0 722.3,465.2 722.6,474.0 722.8,466.9 723.1,469.5 723.3,464.1 723.6,467.1 723.8,469.9 724.1,468.3 724.3,465.9 724.5,473.1 724.8,469.0 725.0,466.6 725.3,465.7 725.5,466.5 725.8,470.4 726.0,465.3 726.2,467.3 726.5,465.2 726.7,470.2 727.0,466.8 727.2,469.2 727.5,468.5 727.7,465.7 727.9,468.8 728.2,469.4 728.4,464.3 728.7,468.8 728.9,475.7 729.2,466.4 729.4,468.6 729.6,463.8 729.9,468.2 730.1,465.6 730.4,468.9 730.6,466.9 730.9,464.2 731.1,469.6 731.4,466.5 731.6,464.5 731.8,467.1 732.1,464.6 732.3,467.9 732.6,466.8 732.8,466.0 733.1,468.5 733.3,463.8 733.5,469.2 733.8,462.0 734.0,470.7 734.3,467.2 734.5,466.1 734.8,464.9 735.0,468.0 735.2,466.3 735.5,466.2 735.7,469.1 736.0,465.5 736.2,466.0 736.5,467.6 736.7,469.1 736.9,466.1 737.2,466.8 737.4,466.5 737.7,468.1 737.9,469.9 738.2,464.0 738.4,465.9 738.7,466.0 738.9,467.5 739.1,469.7 739.4,465.9 739.6,466.4 739.9,468.6 740.1,462.7 740.4,463.8 740.6,464.5 740.8,465.5 741.1,466.0 741.3,464.0 741.6,469.5 741.8,463.4 742.1,464.5 742.3,467.5 742.5,466.6 742.8,464.6 743.0,465.4 743.3,466.3 743.5,464.1 743.8,465.6 744.0,461.6 744.2,463.8 744.5,459.5 744.7,461.1 745.0,460.3 745.2,465.9 745.5,461.5 745.7,463.2 746.0,459.9 746.2,461.5 746.4,461.0 746.7,459.4 746.9,463.3 747.2,456.9 747.4,462.2 747.7,466.8 747.9,458.1 748.1,459.8 748.4,455.7 748.6,459.1 748.9,454.6 749.1,460.0 749.4,457.0 749.6,453.3 749.8,454.3 750.1,453.3 750.3,456.1 750.6,458.6 750.8,455.2 751.1,453.0 751.3,453.5 751.5,455.5 751.8,449.0 752.0,456.1 752.3,455.3 752.5,448.1 752.8,456.7 753.0,449.6 753.3,452.9 753.5,456.1 753.7,449.1 754.0,448.4 754.2,450.1 754.5,450.1 754.7,452.4 755.0,451.4 755.2,451.5 755.4,451.6 755.7,452.4 755.9,450.8 756.2,453.9 756.4,453.2 756.7,450.9 756.9,458.1 757.1,450.7 757.4,455.9 757.6,452.5 757.9,455.5 758.1,456.2 758.4,457.3 758.6,459.0 758.8,453.7 759.1,463.1 759.3,457.5 759.6,454.8 759.8,453.8 760.1,463.2 760.3,461.8 760.6,458.1 760.8,460.3 761.0,462.0 761.3,459.4 761.5,458.4 761.8,459.7 762.0,462.1 762.3,460.4 762.5,457.6 762.7,462.8 763.0,456.9 763.2,459.6 763.5,464.7 763.7,462.5 764.0,462.8 764.2,462.7 764.4,465.2 764.7,462.7 764.9,458.3 765.2,463.9 765.4,456.0 765.7,458.6 765.9,467.7 766.1,466.6 766.4,463.0 766.6,464.1 766.9,464.7 767.1,467.1 767.4,462.9 767.6,462.7 767.9,463.5 768.1,465.5 768.3,465.9 768.6,464.4 768.8,467.3 769.1,463.0 769.3,465.4 769.6,464.0 769.8,463.3 770.0,468.9 770.3,465.2 770.5,463.6 770.8,466.2 771.0,463.7 771.3,467.7 771.5,468.4 771.7,468.8 772.0,463.8 772.2,466.1 772.5,471.0 772.7,466.0 773.0,469.7 773.2,470.3 773.4,463.3 773.7,469.7 773.9,468.6 774.2,468.9 774.4,470.9 774.7,467.9 774.9,467.0 775.2,468.4 775.4,466.1 775.6,468.1 775.9,462.0 776.1,471.2 776.4,465.7 776.6,468.4 776.9,467.8 777.1,467.3 777.3,467.4 777.6,467.3 777.8,463.1 778.1,465.8 778.3,470.1 778.6,464.7 778.8,464.6 779.0,472.4 779.3,470.2 779.5,471.1 779.8,467.2 780.0,467.9 780.3,469.2 780.5,468.7 780.7,467.1 781.0,463.7 781.2,465.5 781.5,463.7 781.7,471.2 782.0,466.4 782.2,466.9 782.5,468.1 782.7,467.4 782.9,468.7 783.2,465.9 783.4,463.7 783.7,471.7 783.9,465.7 784.2,466.3 784.4,465.5 784.6,466.1 784.9,467.5 785.1,469.3 785.4,464.9 785.6,468.2 785.9,465.8 786.1,470.4 786.3,464.5 786.6,467.7 786.8,469.2 787.1,464.2 787.3,467.8 787.6,467.9 787.8,465.6 788.0,467.0 788.3,470.0 788.5,468.1 788.8,466.5 789.0,467.0 789.3,468.6 789.5,470.7 789.8,469.5 790.0,469.4 790.2,471.4 790.5,463.8 790.7,464.1 791.0,462.1 791.2,469.6 791.5,462.0 791.7,467.5 791.9,469.4 792.2,464.2 792.4,466.0 792.7,467.0 792.9,469.4 793.2,464.0 793.4,468.4 793.6,469.3 793.9,468.0 794.1,468.0 794.4,470.7 794.6,468.2 794.9,467.6 795.1,466.9 795.3,469.2 795.6,467.0 795.8,469.3 796.1,467.9 796.3,470.4 796.6,465.8 796.8,467.9 797.1,468.5 797.3,468.7 797.5,470.4 797.8,468.7 798.0,469.9 798.3,472.5 798.5,469.8 798.8,465.2 799.0,464.3"/>
<polyline fill="none" stroke="#ff0000" stroke-width="2.80" stroke-linejoin="round" stroke-linecap="round" clip-path="url(#clipa)" points="69.0,376.4 69.2,379.3 69.5,378.4 69.7,378.4 70.0,380.9 70.2,372.9 70.5,374.5 70.7,372.6 70.9,375.9 71.2,379.0 71.4,376.1 71.7,377.6 71.9,370.8 72.2,376.6 72.4,373.6 72.6,381.1 72.9,378.6 73.1,378.7 73.4,375.9 73.6,377.7 73.9,377.8 74.1,375.0 74.4,374.6 74.6,375.6 74.8,374.2 75.1,374.2 75.3,375.1 75.6,373.8 75.8,378.0 76.1,371.3 76.3,378.1 76.5,374.0 76.8,374.2 77.0,372.0 77.3,375.3 77.5,375.0 77.8,376.2 78.0,374.2 78.2,375.9 78.5,380.7 78.7,376.7 79.0,374.0 79.2,378.2 79.5,375.2 79.7,377.2 79.9,377.2 80.2,374.4 80.4,370.1 80.7,374.5 80.9,377.0 81.2,374.3 81.4,376.6 81.7,378.0 81.9,373.7 82.1,378.6 82.4,379.7 82.6,378.1 82.9,378.3 83.1,378.1 83.4,381.3 83.6,375.4 83.8,374.8 84.1,376.5 84.3,372.2 84.6,370.3 84.8,372.2 85.1,375.6 85.3,375.9 85.5,370.2 85.8,369.2 86.0,373.5 86.3,373.8 86.5,374.2 86.8,376.1 87.0,377.6 87.2,374.8 87.5,375.8 87.7,371.0 88.0,370.7 88.2,374.6 88.5,375.8 88.7,375.9 89.0,375.4 89.2,375.9 89.4,376.0 89.7,368.7 89.9,371.5 90.2,374.8 90.4,375.2 90.7,369.2 90.9,376.7 91.1,372.1 91.4,372.6 91.6,374.0 91.9,375.3 92.1,369.1 92.4,375.9 92.6,373.3 92.8,370.8 93.1,372.2 93.3,366.8 93.6,371.0 93.8,373.3 94.1,370.7 94.3,371.8 94.5,372.2 94.8,372.7 95.0,375.4 95.3,372.4 95.5,371.7 95.8,373.9 96.0,378.1 96.3,371.3 96.5,373.7 96.7,367.8 97.0,375.9 97.2,373.9 97.5,375.8 97.7,371.8 98.0,369.0 98.2,374.4 98.4,373.9 98.7,369.4 98.9,367.6 99.2,372.9 99.4,371.2 99.7,378.9 99.9,369.8 100.1,370.0 100.4,371.1 100.6,366.7 100.9,368.9 101.1,376.1 101.4,371.2 101.6,369.9 101.8,368.1 102.1,373.3 102.3,373.6 102.6,372.5 102.8,370.7 103.1,372.7 103.3,373.0 103.6,370.1 103.8,373.8 104.0,366.2 104.3,368.5 104.5,371.3 104.8,371.9 105.0,369.0 105.3,373.2 105.5,375.3 105.7,373.7 106.0,373.1 106.2,374.8 106.5,373.7 106.7,369.4 107.0,372.1 107.2,376.3 107.4,369.6 107.7,373.0 107.9,371.8 108.2,370.6 108.4,370.4 108.7,373.8 108.9,374.6 109.1,374.7 109.4,370.0 109.6,373.5 109.9,375.4 110.1,377.3 110.4,376.8 110.6,377.4 110.9,378.3 111.1,377.8 111.3,373.4 111.6,376.0 111.8,374.1 112.1,369.6 112.3,371.8 112.6,382.5 112.8,373.7 113.0,370.7 113.3,375.4 113.5,381.3 113.8,377.0 114.0,378.3 114.3,376.5 114.5,377.1 114.7,380.9 115.0,379.7 115.2,377.3 115.5,380.1 115.7,380.7 116.0,377.1 116.2,378.6 116.4,378.6 116.7,376.1 116.9,381.2 117.2,377.6 117.4,376.4 117.7,373.5 117.9,374.7 118.2,382.6 118.4,375.2 118.6,379.7 118.9,377.5 119.1,380.0 119.4,380.3 119.6,376.6 119.9,378.0 120.1,379.1 120.3,379.2 120.6,378.9 120.8,378.2 121.1,380.9 121.3,382.9 121.6,380.8 121.8,377.3 122.0,380.5 122.3,379.6 122.5,380.8 122.8,384.8 123.0,379.1 123.3,379.7 123.5,377.3 123.7,379.0 124.0,378.3 124.2,384.4 124.5,380.8 124.7,378.4 125.0,385.5 125.2,376.4 125.5,382.5 125.7,383.0 125.9,381.8 126.2,379.5 126.4,379.9 126.7,379.4 126.9,382.6 127.2,373.9 127.4,379.0 127.6,380.9 127.9,378.9 128.1,375.5 128.4,379.9 128.6,378.5 128.9,382.9 129.1,384.6 129.3,381.0 129.6,375.4 129.8,380.3 130.1,378.3 130.3,382.8 130.6,385.7 130.8,381.9 131.0,386.7 131.3,385.3 131.5,383.1 131.8,378.8 132.0,381.8 132.3,377.5 132.5,384.5 132.8,382.0 133.0,385.6 133.2,382.6 133.5,376.4 133.7,383.7 134.0,384.5 134.2,386.6 134.5,379.3 134.7,379.5 134.9,382.3 135.2,379.2 135.4,378.3 135.7,379.1 135.9,389.5 136.2,380.5 136.4,379.4 136.6,381.0 136.9,382.3 137.1,386.0 137.4,385.0 137.6,384.6 137.9,382.6 138.1,382.9 138.3,380.7 138.6,378.3 138.8,388.3 139.1,381.4 139.3,385.5 139.6,381.8 139.8,382.5 140.1,382.4 140.3,379.0 140.5,382.6 140.8,384.0 141.0,385.3 141.3,384.4 141.5,385.9 141.8,383.9 142.0,383.1 142.2,377.6 142.5,381.6 142.7,387.5 143.0,383.5 143.2,385.4 143.5,382.6 143.7,381.3 143.9,388.9 144.2,384.2 144.4,387.4 144.7,384.7 144.9,382.4 145.2,377.0 145.4,383.5 145.6,378.9 145.9,377.1 146.1,386.8 146.4,385.3 146.6,385.1 146.9,383.5 147.1,383.3 147.4,384.6 147.6,383.8 147.8,383.6 148.1,385.5 148.3,376.5 148.6,385.9 148.8,381.7 149.1,385.9 149.3,386.8 149.5,381.1 149.8,385.7 150.0,385.7 150.3,381.5 150.5,382.0 150.8,383.8 151.0,377.2 151.2,382.2 151.5,384.0 151.7,382.2 152.0,379.0 152.2,382.4 152.5,387.7 152.7,387.2 152.9,383.2 153.2,381.3 153.4,383.5 153.7,383.6 153.9,381.7 154.2,382.6 154.4,385.3 154.7,386.2 154.9,376.8 155.1,386.4 155.4,384.0 155.6,386.9 155.9,383.6 156.1,384.9 156.4,388.3 156.6,375.4 156.8,388.2 157.1,384.3 157.3,378.7 157.6,376.3 157.8,384.7 158.1,380.9 158.3,386.6 158.5,384.4 158.8,383.5 159.0,386.6 159.3,384.4 159.5,386.0 159.8,386.2 160.0,384.8 160.2,386.1 160.5,386.2 160.7,380.1 161.0,383.2 161.2,383.7 161.5,382.9 161.7,379.6 162.0,382.4 162.2,385.0 162.4,384.6 162.7,388.3 162.9,382.4 163.2,382.9 163.4,382.5 163.7,383.2 163.9,382.5 164.1,378.9 164.4,385.1 164.6,387.0 164.9,387.3 165.1,381.2 165.4,383.7 165.6,389.4 165.8,384.0 166.1,385.3 166.3,383.9 166.6,387.1 166.8,387.0 167.1,390.9 167.3,385.7 167.5,385.6 167.8,381.0 168.0,383.2 168.3,382.4 168.5,383.5 168.8,380.8 169.0,387.9 169.3,381.5 169.5,385.2 169.7,381.0 170.0,385.5 170.2,389.2 170.5,382.2 170.7,385.6 171.0,384.4 171.2,385.4 171.4,385.8 171.7,382.8 171.9,384.1 172.2,383.0 172.4,382.3 172.7,381.2 172.9,387.4 173.1,382.6 173.4,386.6 173.6,386.3 173.9,381.9 174.1,387.7 174.4,382.4 174.6,386.5 174.8,388.9 175.1,382.8 175.3,382.2 175.6,382.2 175.8,391.3 176.1,383.8 176.3,381.3 176.6,387.2 176.8,384.4 177.0,384.8 177.3,382.1 177.5,378.7 177.8,382.9 178.0,382.0 178.3,380.4 178.5,381.9 178.7,382.3 179.0,387.3 179.2,387.0 179.5,386.5 179.7,383.6 180.0,381.5 180.2,385.9 180.4,386.4 180.7,387.9 180.9,385.0 181.2,384.8 181.4,386.0 181.7,382.6 181.9,382.9 182.1,387.0 182.4,381.7 182.6,385.0 182.9,387.4 183.1,385.9 183.4,386.5 183.6,382.2 183.9,385.0 184.1,384.6 184.3,387.0 184.6,386.5 184.8,385.5 185.1,390.7 185.3,387.0 185.6,384.6 185.8,383.8 186.0,385.4 186.3,383.9 186.5,390.1 186.8,387.1 187.0,384.7 187.3,383.7 187.5,382.6 187.7,384.8 188.0,389.3 188.2,388.0 188.5,385.5 188.7,386.1 189.0,380.5 189.2,387.8 189.4,385.1 189.7,389.6 189.9,385.3 190.2,384.4 190.4,386.4 190.7,384.0 190.9,389.6 191.2,386.6 191.4,386.9 191.6,386.8 191.9,384.9 192.1,387.2 192.4,386.4 192.6,390.8 192.9,386.1 193.1,387.0 193.3,384.7 193.6,384.9 193.8,385.1 194.1,389.6 194.3,386.3 194.6,388.8 194.8,385.3 195.0,385.1 195.3,380.7 195.5,388.4 195.8,391.9 196.0,385.5 196.3,390.2 196.5,388.5 196.7,384.3 197.0,388.3 197.2,383.7 197.5,385.4 197.7,389.6 198.0,386.7 198.2,383.0 198.5,390.2 198.7,383.2 198.9,385.8 199.2,385.3 199.4,385.8 199.7,383.9 199.9,381.7 200.2,391.5 200.4,383.6 200.6,383.8 200.9,379.5 201.1,386.6 201.4,389.9 201.6,390.2 201.9,394.1 202.1,390.5 202.3,387.5 202.6,386.4 202.8,390.4 203.1,386.3 203.3,387.0 203.6,383.7 203.8,386.7 204.0,391.9 204.3,386.2 204.5,387.5 204.8,379.7 205.0,390.2 205.3,387.5 205.5,390.4 205.8,387.1 206.0,384.1 206.2,382.6 206.5,387.8 206.7,386.4 207.0,383.7 207.2,386.2 207.5,384.6 207.7,388.4 207.9,385.2 208.2,382.9 208.4,386.1 208.7,384.8 208.9,390.5 209.2,385.0 209.4,382.6 209.6,386.1 209.9,385.6 210.1,387.0 210.4,386.9 210.6,383.4 210.9,386.1 211.1,386.0 211.3,382.9 211.6,384.6 211.8,386.8 212.1,381.8 212.3,383.2 212.6,384.9 212.8,385.9 213.1,387.6 213.3,382.4 213.5,387.0 213.8,387.9 214.0,390.5 214.3,385.0 214.5,383.6 214.8,381.9 215.0,387.7 215.2,389.8 215.5,384.3 215.7,387.5 216.0,388.7 216.2,389.0 216.5,385.2 216.7,388.2 216.9,386.3 217.2,383.8 217.4,387.2 217.7,387.5 217.9,383.8 218.2,387.8 218.4,392.1 218.6,382.4 218.9,388.6 219.1,389.2 219.4,386.8 219.6,387.5 219.9,385.9 220.1,390.4 220.4,384.0 220.6,386.2 220.8,381.2 221.1,387.5 221.3,387.6 221.6,381.9 221.8,384.1 222.1,387.9 222.3,385.2 222.5,383.2 222.8,379.6 223.0,387.5 223.3,392.0 223.5,385.3 223.8,387.8 224.0,387.7 224.2,386.3 224.5,386.8 224.7,386.9 225.0,384.1 225.2,393.6 225.5,394.2 225.7,387.5 225.9,391.6 226.2,384.3 226.4,386.0 226.7,389.8 226.9,383.4 227.2,383.0 227.4,387.6 227.7,381.1 227.9,391.5 228.1,388.8 228.4,387.4 228.6,388.6 228.9,384.2 229.1,384.1 229.4,389.1 229.6,389.4 229.8,387.2 230.1,386.7 230.3,385.3 230.6,390.7 230.8,382.7 231.1,384.5 231.3,385.4 231.5,382.6 231.8,383.2 232.0,384.0 232.3,389.7 232.5,392.0 232.8,387.9 233.0,382.4 233.2,385.2 233.5,386.6 233.7,386.2 234.0,385.9 234.2,388.4 234.5,381.5 234.7,385.4 235.0,387.6 235.2,389.0 235.4,387.8 235.7,387.1 235.9,386.6 236.2,385.2 236.4,387.3 236.7,386.5 236.9,385.1 237.1,390.5 237.4,390.4 237.6,386.1 237.9,388.9 238.1,390.5 238.4,387.9 238.6,387.5 238.8,388.6 239.1,382.6 239.3,383.2 239.6,388.7 239.8,388.0 240.1,391.1 240.3,385.9 240.5,390.3 240.8,390.2 241.0,392.8 241.3,385.0 241.5,386.3 241.8,388.1 242.0,388.0 242.3,384.5 242.5,385.7 242.7,383.7 243.0,393.8 243.2,387.1 243.5,387.3 243.7,385.6 244.0,387.4 244.2,389.6 244.4,386.4 244.7,387.3 244.9,393.5 245.2,390.0 245.4,388.0 245.7,386.2 245.9,387.3 246.1,385.3 246.4,388.2 246.6,385.5 246.9,385.4 247.1,386.3 247.4,384.4 247.6,387.9 247.8,394.4 248.1,385.6 248.3,382.7 248.6,390.0 248.8,387.1 249.1,392.9 249.3,388.4 249.6,389.9 249.8,385.2 250.0,382.9 250.3,386.8 250.5,389.2 250.8,384.9 251.0,382.8 251.3,385.6 251.5,386.0 251.7,386.4 252.0,387.2 252.2,394.0 252.5,387.4 252.7,385.9 253.0,384.3 253.2,389.5 253.4,382.9 253.7,391.3 253.9,387.3 254.2,383.1 254.4,387.8 254.7,387.0 254.9,390.8 255.1,383.1 255.4,387.9 255.6,387.3 255.9,389.9 256.1,384.2 256.4,385.2 256.6,392.9 256.9,388.9 257.1,383.3 257.3,388.3 257.6,385.2 257.8,385.5 258.1,384.0 258.3,390.2 258.6,385.9 258.8,388.0 259.0,387.7 259.3,383.2 259.5,385.4 259.8,389.6 260.0,383.1 260.3,388.2 260.5,387.2 260.7,389.3 261.0,389.4 261.2,389.8 261.5,387.7 261.7,388.3 262.0,385.6 262.2,386.1 262.4,390.1 262.7,385.9 262.9,390.5 263.2,390.4 263.4,385.4 263.7,389.2 263.9,385.4 264.2,388.6 264.4,385.5 264.6,388.6 264.9,388.2 265.1,384.8 265.4,393.5 265.6,390.4 265.9,383.3 266.1,388.7 266.3,386.6 266.6,393.5 266.8,387.6 267.1,388.9 267.3,387.3 267.6,389.6 267.8,386.4 268.0,385.3 268.3,386.5 268.5,386.7 268.8,389.6 269.0,388.1 269.3,386.7 269.5,386.8 269.7,385.4 270.0,388.3 270.2,382.3 270.5,387.3 270.7,391.3 271.0,387.0 271.2,386.2 271.5,388.1 271.7,385.4 271.9,385.9 272.2,389.9 272.4,386.3 272.7,393.5 272.9,389.5 273.2,387.8 273.4,386.3 273.6,387.3 273.9,381.7 274.1,388.8 274.4,390.6 274.6,389.7 274.9,386.9 275.1,389.8 275.3,389.9 275.6,387.8 275.8,389.1 276.1,391.0 276.3,389.4 276.6,387.1 276.8,388.2 277.0,388.6 277.3,383.7 277.5,388.6 277.8,387.8 278.0,382.1 278.3,383.4 278.5,393.2 278.8,388.5 279.0,392.0 279.2,387.2 279.5,392.5 279.7,389.8 280.0,386.4 280.2,389.1 280.5,392.7 280.7,395.0 280.9,389.7 281.2,387.1 281.4,385.9 281.7,390.3 281.9,391.4 282.2,388.8 282.4,388.1 282.6,390.7 282.9,389.8 283.1,389.5 283.4,384.1 283.6,387.5 283.9,393.7 284.1,388.4 284.3,395.2 284.6,389.5 284.8,387.7 285.1,389.3 285.3,390.2 285.6,386.5 285.8,389.2 286.1,387.3 286.3,392.6 286.5,387.2 286.8,388.8 287.0,384.3 287.3,384.7 287.5,388.3 287.8,386.0 288.0,387.7 288.2,389.2 288.5,390.1 288.7,384.6 289.0,388.0 289.2,390.4 289.5,386.7 289.7,384.9 289.9,386.6 290.2,393.1 290.4,388.6 290.7,392.9 290.9,387.7 291.2,391.9 291.4,384.5 291.6,387.9 291.9,388.8 292.1,393.5 292.4,389.9 292.6,391.7 292.9,387.4 293.1,387.4 293.4,392.2 293.6,392.6 293.8,392.1 294.1,392.0 294.3,387.2 294.6,394.7 294.8,389.1 295.1,392.2 295.3,390.7 295.5,383.7 295.8,383.2 296.0,384.2 296.3,388.5 296.5,391.8 296.8,388.0 297.0,391.0 297.2,385.2 297.5,386.9 297.7,386.1 298.0,388.7 298.2,385.4 298.5,388.4 298.7,390.3 298.9,387.4 299.2,386.2 299.4,387.4 299.7,385.2 299.9,385.8 300.2,390.9 300.4,389.6 300.7,384.6 300.9,387.9 301.1,389.9 301.4,390.9 301.6,390.5 301.9,391.4 302.1,388.5 302.4,388.6 302.6,388.0 302.8,391.7 303.1,391.1 303.3,393.7 303.6,391.8 303.8,386.4 304.1,384.5 304.3,384.7 304.5,386.1 304.8,390.4 305.0,384.7 305.3,382.9 305.5,388.1 305.8,390.9 306.0,390.8 306.2,393.3 306.5,388.5 306.7,387.0 307.0,387.7 307.2,384.8 307.5,386.7 307.7,392.1 308.0,394.4 308.2,392.1 308.4,389.3 308.7,387.8 308.9,389.2 309.2,383.2 309.4,390.1 309.7,390.7 309.9,388.1 310.1,388.5 310.4,383.7 310.6,390.6 310.9,390.6 311.1,380.6 311.4,386.8 311.6,389.3 311.8,393.1 312.1,385.9 312.3,388.2 312.6,392.5 312.8,389.6 313.1,387.7 313.3,387.0 313.5,388.4 313.8,386.0 314.0,391.1 314.3,385.8 314.5,389.8 314.8,390.8 315.0,391.6 315.3,388.6 315.5,388.3 315.7,389.2 316.0,388.5 316.2,391.4 316.5,388.0 316.7,393.7 317.0,396.1 317.2,386.4 317.4,389.3 317.7,384.9 317.9,390.3 318.2,389.3 318.4,387.5 318.7,385.1 318.9,388.1 319.1,393.6 319.4,392.5 319.6,389.0 319.9,386.2 320.1,387.8 320.4,385.6 320.6,384.0 320.8,385.1 321.1,389.4 321.3,388.5 321.6,388.1 321.8,384.5 322.1,383.6 322.3,390.3 322.6,386.4 322.8,390.8 323.0,385.3 323.3,390.1 323.5,388.0 323.8,386.0 324.0,386.0 324.3,392.6 324.5,389.7 324.7,386.4 325.0,387.5 325.2,382.6 325.5,391.8 325.7,390.8 326.0,385.7 326.2,388.1 326.4,379.0 326.7,389.5 326.9,388.0 327.2,387.3 327.4,388.9 327.7,387.3 327.9,383.7 328.1,384.4 328.4,385.8 328.6,388.8 328.9,386.2 329.1,384.2 329.4,387.0 329.6,382.5 329.9,391.7 330.1,386.7 330.3,383.0 330.6,386.2 330.8,388.7 331.1,387.1 331.3,391.2 331.6,381.4 331.8,389.8 332.0,385.2 332.3,387.7 332.5,389.9 332.8,381.7 333.0,381.0 333.3,383.8 333.5,380.1 333.7,379.0 334.0,384.9 334.2,387.8 334.5,383.1 334.7,385.8 335.0,394.6 335.2,385.1 335.4,383.2 335.7,383.5 335.9,385.1 336.2,383.0 336.4,385.6 336.7,384.2 336.9,386.1 337.2,383.8 337.4,383.1 337.6,380.5 337.9,379.2 338.1,382.1 338.4,381.7 338.6,383.5 338.9,382.4 339.1,381.4 339.3,388.7 339.6,383.1 339.8,385.5 340.1,379.0 340.3,384.6 340.6,385.0 340.8,382.8 341.0,378.9 341.3,384.8 341.5,379.0 341.8,376.5 342.0,376.2 342.3,380.8 342.5,379.1 342.7,382.6 343.0,382.0 343.2,383.8 343.5,380.7 343.7,379.9 344.0,379.5 344.2,377.0 344.5,376.7 344.7,376.8 344.9,379.3 345.2,376.1 345.4,378.0 345.7,381.1 345.9,371.1 346.2,375.2 346.4,374.6 346.6,377.2 346.9,372.8 347.1,374.9 347.4,383.0 347.6,372.4 347.9,375.8 348.1,376.4 348.3,374.7 348.6,371.9 348.8,377.8 349.1,369.3 349.3,371.7 349.6,373.5 349.8,372.1 350.0,376.9 350.3,372.4 350.5,378.3 350.8,372.6 351.0,376.7 351.3,373.2 351.5,371.0 351.8,370.5 352.0,373.8 352.2,369.1 352.5,370.1 352.7,367.6 353.0,363.7 353.2,370.6 353.5,370.5 353.7,364.9 353.9,369.2 354.2,366.7 354.4,361.6 354.7,363.8 354.9,367.9 355.2,368.4 355.4,366.1 355.6,372.3 355.9,364.9 356.1,361.2 356.4,358.5 356.6,366.2 356.9,359.9 357.1,359.5 357.3,357.4 357.6,356.6 357.8,356.9 358.1,358.3 358.3,357.5 358.6,355.8 358.8,356.2 359.1,350.8 359.3,347.9 359.5,349.0 359.8,341.6 360.0,347.9 360.3,344.9 360.5,342.7 360.8,335.7 361.0,334.8 361.2,333.4 361.5,327.4 361.7,323.8 362.0,322.7 362.2,319.9 362.5,313.5 362.7,314.0 362.9,312.7 363.2,303.3 363.4,296.1 363.7,290.5 363.9,290.5 364.2,281.4 364.4,276.6 364.6,270.0 364.9,262.3 365.1,262.9 365.4,253.0 365.6,249.6 365.9,239.3 366.1,248.2 366.4,241.9 366.6,238.0 366.8,235.6 367.1,236.6 367.3,235.0 367.6,243.6 367.8,243.1 368.1,250.7 368.3,255.3 368.5,264.4 368.8,265.0 369.0,270.7 369.3,276.9 369.5,279.4 369.8,286.0 370.0,293.1 370.2,300.7 370.5,304.7 370.7,306.7 371.0,315.5 371.2,315.4 371.5,316.3 371.7,328.9 371.9,328.2 372.2,330.2 372.4,331.3 372.7,336.3 372.9,345.0 373.2,342.6 373.4,351.3 373.7,347.2 373.9,352.3 374.1,351.0 374.4,351.2 374.6,352.8 374.9,354.7 375.1,353.3 375.4,354.4 375.6,360.0 375.8,363.5 376.1,361.4 376.3,362.0 376.6,360.1 376.8,366.6 377.1,367.1 377.3,361.6 377.5,365.7 377.8,365.2 378.0,362.5 378.3,371.8 378.5,371.1 378.8,369.2 379.0,372.8 379.2,367.9 379.5,370.5 379.7,374.0 380.0,369.8 380.2,371.9 380.5,368.7 380.7,373.7 381.0,375.5 381.2,369.8 381.4,370.7 381.7,373.1 381.9,377.6 382.2,372.5 382.4,371.9 382.7,374.3 382.9,378.1 383.1,370.9 383.4,375.0 383.6,379.4 383.9,375.9 384.1,375.5 384.4,379.0 384.6,373.4 384.8,382.8 385.1,378.7 385.3,376.5 385.6,378.0 385.8,377.8 386.1,377.4 386.3,375.0 386.5,378.0 386.8,374.1 387.0,383.0 387.3,376.1 387.5,377.4 387.8,377.5 388.0,381.9 388.3,379.5 388.5,384.3 388.7,379.2 389.0,381.1 389.2,380.6 389.5,380.0 389.7,384.3 390.0,384.8 390.2,385.2 390.4,377.8 390.7,382.8 390.9,378.8 391.2,378.9 391.4,377.3 391.7,379.8 391.9,384.3 392.1,386.7 392.4,387.8 392.6,380.5 392.9,381.4 393.1,384.0 393.4,383.9 393.6,384.2 393.8,378.8 394.1,383.3 394.3,385.6 394.6,384.8 394.8,383.9 395.1,382.3 395.3,384.2 395.6,389.0 395.8,386.1 396.0,387.7 396.3,389.5 396.5,382.0 396.8,387.0 397.0,386.5 397.3,389.0 397.5,384.7 397.7,384.9 398.0,383.7 398.2,386.2 398.5,385.0 398.7,385.4 399.0,386.9 399.2,384.9 399.4,383.5 399.7,385.0 399.9,384.7 400.2,387.5 400.4,389.9 400.7,385.5 400.9,379.7 401.1,388.3 401.4,386.5 401.6,384.1 401.9,386.2 402.1,392.1 402.4,382.8 402.6,383.8 402.9,387.0 403.1,378.5 403.3,386.0 403.6,390.0 403.8,388.9 404.1,388.5 404.3,386.6 404.6,387.1 404.8,395.3 405.0,388.3 405.3,391.5 405.5,384.3 405.8,388.5 406.0,388.9 406.3,388.4 406.5,381.9 406.7,386.9 407.0,392.2 407.2,389.7 407.5,386.0 407.7,390.7 408.0,383.1 408.2,390.0 408.4,389.4 408.7,386.7 408.9,385.6 409.2,383.9 409.4,388.0 409.7,393.5 409.9,391.1 410.2,389.9 410.4,391.3 410.6,387.1 410.9,390.3 411.1,380.7 411.4,387.5 411.6,387.6 411.9,388.8 412.1,388.5 412.3,390.7 412.6,387.3 412.8,391.7 413.1,388.4 413.3,391.6 413.6,389.5 413.8,391.6 414.0,390.5 414.3,387.6 414.5,389.8 414.8,385.6 415.0,389.5 415.3,390.4 415.5,388.6 415.7,388.9 416.0,392.2 416.2,392.8 416.5,393.4 416.7,387.9 417.0,388.3 417.2,391.8 417.5,392.1 417.7,384.5 417.9,395.2 418.2,392.9 418.4,386.2 418.7,392.9 418.9,388.6 419.2,389.4 419.4,387.0 419.6,387.5 419.9,388.8 420.1,390.1 420.4,386.8 420.6,389.7 420.9,387.9 421.1,388.5 421.3,387.5 421.6,388.2 421.8,394.5 422.1,385.5 422.3,386.3 422.6,389.8 422.8,388.6 423.0,387.1 423.3,391.2 423.5,386.8 423.8,390.1 424.0,392.7 424.3,391.7 424.5,389.3 424.8,390.1 425.0,390.6 425.2,391.8 425.5,387.5 425.7,393.7 426.0,392.3 426.2,395.4 426.5,392.5 426.7,393.0 426.9,381.9 427.2,388.9 427.4,395.4 427.7,391.3 427.9,388.9 428.2,392.1 428.4,390.4 428.6,391.3 428.9,388.2 429.1,391.7 429.4,394.4 429.6,390.9 429.9,391.4 430.1,388.2 430.3,391.5 430.6,389.0 430.8,386.4 431.1,389.0 431.3,389.5 431.6,391.7 431.8,392.8 432.1,389.6 432.3,389.1 432.5,391.9 432.8,387.5 433.0,389.1 433.3,389.4 433.5,389.6 433.8,388.3 434.0,394.6 434.2,392.7 434.5,389.5 434.7,385.9 435.0,388.5 435.2,391.5 435.5,384.4 435.7,396.8 435.9,389.6 436.2,389.6 436.4,391.5 436.7,385.7 436.9,389.8 437.2,389.6 437.4,391.6 437.6,386.7 437.9,391.2 438.1,392.8 438.4,390.2 438.6,387.8 438.9,386.9 439.1,384.2 439.4,387.5 439.6,390.4 439.8,393.2 440.1,391.8 440.3,392.2 440.6,387.4 440.8,387.4 441.1,384.2 441.3,386.5 441.5,385.1 441.8,387.4 442.0,389.8 442.3,387.5 442.5,386.7 442.8,389.4 443.0,391.5 443.2,390.1 443.5,382.1 443.7,391.5 444.0,385.1 444.2,382.0 444.5,384.8 444.7,388.3 444.9,377.7 445.2,388.4 445.4,385.0 445.7,385.5 445.9,379.7 446.2,381.5 446.4,379.4 446.7,385.3 446.9,379.3 447.1,381.9 447.4,378.4 447.6,374.9 447.9,381.3 448.1,381.4 448.4,381.6 448.6,374.9 448.8,375.8 449.1,376.7 449.3,374.8 449.6,373.5 449.8,378.4 450.1,369.6 450.3,372.2 450.5,367.2 450.8,371.5 451.0,365.7 451.3,362.5 451.5,366.1 451.8,363.0 452.0,360.6 452.2,359.8 452.5,357.5 452.7,359.5 453.0,357.8 453.2,360.5 453.5,352.8 453.7,357.7 454.0,354.3 454.2,347.9 454.4,355.3 454.7,345.4 454.9,351.3 455.2,344.2 455.4,349.8 455.7,347.8 455.9,348.1 456.1,343.5 456.4,347.0 456.6,352.8 456.9,351.7 457.1,350.4 457.4,350.9 457.6,350.3 457.8,357.1 458.1,353.9 458.3,358.1 458.6,352.0 458.8,352.9 459.1,362.3 459.3,357.2 459.5,360.4 459.8,363.5 460.0,366.0 460.3,366.4 460.5,367.4 460.8,371.6 461.0,368.9 461.3,371.9 461.5,370.6 461.7,372.0 462.0,377.9 462.2,372.9 462.5,367.4 462.7,375.7 463.0,377.0 463.2,382.5 463.4,377.1 463.7,375.7 463.9,380.0 464.2,385.6 464.4,380.1 464.7,385.3 464.9,383.8 465.1,384.7 465.4,381.1 465.6,384.2 465.9,382.1 466.1,384.9 466.4,383.3 466.6,388.8 466.8,384.6 467.1,385.7 467.3,380.4 467.6,384.2 467.8,394.2 468.1,386.4 468.3,383.2 468.6,388.0 468.8,387.6 469.0,387.0 469.3,387.8 469.5,387.5 469.8,391.6 470.0,385.8 470.3,389.9 470.5,391.8 470.7,387.1 471.0,396.1 471.2,390.0 471.5,389.7 471.7,388.5 472.0,392.4 472.2,385.8 472.4,392.0 472.7,396.7 472.9,391.5 473.2,393.0 473.4,388.2 473.7,393.1 473.9,388.8 474.1,389.8 474.4,391.1 474.6,396.6 474.9,389.6 475.1,385.8 475.4,391.8 475.6,393.7 475.9,393.4 476.1,392.2 476.3,395.5 476.6,394.2 476.8,394.2 477.1,390.6 477.3,387.8 477.6,396.5 477.8,389.5 478.0,395.7 478.3,395.4 478.5,388.8 478.8,390.4 479.0,393.4 479.3,395.0 479.5,389.6 479.7,391.5 480.0,389.5 480.2,389.0 480.5,392.7 480.7,391.1 481.0,386.7 481.2,393.6 481.4,391.4 481.7,391.4 481.9,388.8 482.2,394.6 482.4,393.5 482.7,393.5 482.9,392.5 483.2,393.7 483.4,397.2 483.6,393.3 483.9,393.4 484.1,391.5 484.4,394.7 484.6,392.2 484.9,390.8 485.1,396.1 485.3,392.4 485.6,390.5 485.8,390.9 486.1,391.5 486.3,389.9 486.6,397.1 486.8,394.7 487.0,389.2 487.3,396.4 487.5,392.0 487.8,393.8 488.0,392.0 488.3,394.3 488.5,394.2 488.7,395.3 489.0,395.5 489.2,385.9 489.5,391.7 489.7,393.1 490.0,392.5 490.2,389.0 490.5,392.1 490.7,392.6 490.9,387.3 491.2,390.6 491.4,395.1 491.7,391.0 491.9,392.6 492.2,393.1 492.4,394.5 492.6,395.2 492.9,396.1 493.1,393.5 493.4,393.8 493.6,392.8 493.9,393.8 494.1,393.0 494.3,395.4 494.6,395.3 494.8,389.5 495.1,387.0 495.3,394.6 495.6,391.9 495.8,389.0 496.0,396.1 496.3,397.6 496.5,390.2 496.8,390.7 497.0,391.5 497.3,391.1 497.5,393.1 497.8,390.2 498.0,393.3 498.2,392.3 498.5,396.3 498.7,393.1 499.0,395.9 499.2,397.6 499.5,394.9 499.7,395.3 499.9,392.1 500.2,393.5 500.4,399.9 500.7,397.3 500.9,393.6 501.2,392.3 501.4,393.0 501.6,396.5 501.9,387.7 502.1,394.2 502.4,389.8 502.6,397.5 502.9,389.5 503.1,396.1 503.3,392.7 503.6,393.6 503.8,398.2 504.1,393.5 504.3,395.5 504.6,394.6 504.8,390.3 505.1,393.4 505.3,396.3 505.5,394.6 505.8,394.1 506.0,391.6 506.3,398.0 506.5,392.0 506.8,398.7 507.0,394.2 507.2,395.6 507.5,389.6 507.7,394.0 508.0,391.0 508.2,393.9 508.5,397.1 508.7,394.7 508.9,394.4 509.2,396.5 509.4,390.3 509.7,394.0 509.9,392.0 510.2,396.9 510.4,391.8 510.6,398.4 510.9,399.6 511.1,387.8 511.4,393.4 511.6,389.3 511.9,397.3 512.1,391.4 512.4,395.6 512.6,394.8 512.8,391.2 513.1,389.6 513.3,397.0 513.6,392.2 513.8,394.7 514.1,397.9 514.3,393.8 514.5,393.1 514.8,391.0 515.0,395.2 515.3,391.6 515.5,389.1 515.8,392.3 516.0,392.1 516.2,389.3 516.5,393.2 516.7,396.2 517.0,395.5 517.2,399.7 517.5,397.1 517.7,394.7 517.9,388.2 518.2,394.6 518.4,397.4 518.7,393.2 518.9,398.0 519.2,391.4 519.4,394.7 519.7,396.4 519.9,398.8 520.1,393.9 520.4,399.6 520.6,393.0 520.9,388.9 521.1,393.7 521.4,398.0 521.6,393.1 521.8,398.7 522.1,393.4 522.3,399.5 522.6,387.7 522.8,400.6 523.1,388.2 523.3,393.8 523.5,390.6 523.8,394.9 524.0,393.4 524.3,393.2 524.5,395.9 524.8,396.8 525.0,393.1 525.2,397.6 525.5,389.0 525.7,391.0 526.0,390.1 526.2,395.4 526.5,396.7 526.7,392.8 527.0,392.2 527.2,390.6 527.4,396.0 527.7,397.3 527.9,392.4 528.2,393.5 528.4,392.9 528.7,394.0 528.9,395.4 529.1,387.6 529.4,392.5 529.6,396.4 529.9,391.4 530.1,397.7 530.4,398.1 530.6,391.3 530.8,391.8 531.1,397.9 531.3,389.3 531.6,391.0 531.8,389.4 532.1,394.2 532.3,395.1 532.5,395.5 532.8,394.9 533.0,390.0 533.3,397.5 533.5,393.9 533.8,392.9 534.0,399.1 534.3,394.4 534.5,395.1 534.7,396.5 535.0,399.9 535.2,394.0 535.5,396.1 535.7,387.3 536.0,391.2 536.2,400.1 536.4,399.9 536.7,393.6 536.9,391.5 537.2,390.1 537.4,390.6 537.7,392.4 537.9,389.1 538.1,393.8 538.4,393.6 538.6,390.5 538.9,390.3 539.1,390.7 539.4,392.7 539.6,393.4 539.8,395.7 540.1,389.0 540.3,393.1 540.6,394.2 540.8,395.0 541.1,396.6 541.3,392.9 541.6,397.7 541.8,400.7 542.0,395.4 542.3,398.6 542.5,397.0 542.8,395.4 543.0,393.5 543.3,394.9 543.5,400.1 543.7,394.4 544.0,392.0 544.2,392.8 544.5,396.5 544.7,392.4 545.0,396.9 545.2,396.3 545.4,394.9 545.7,399.0 545.9,390.5 546.2,392.7 546.4,393.7 546.7,395.4 546.9,390.3 547.1,392.6 547.4,398.0 547.6,393.1 547.9,396.9 548.1,393.5 548.4,392.0 548.6,395.7 548.9,397.9 549.1,394.0 549.3,390.4 549.6,391.9 549.8,392.8 550.1,393.4 550.3,391.4 550.6,396.1 550.8,391.1 551.0,396.9 551.3,391.1 551.5,391.3 551.8,397.4 552.0,396.2 552.3,393.1 552.5,392.4 552.7,393.5 553.0,394.2 553.2,394.8 553.5,397.1 553.7,391.7 554.0,394.1 554.2,394.3 554.4,390.2 554.7,397.5 554.9,398.9 555.2,394.1 555.4,389.1 555.7,391.8 555.9,396.8 556.2,388.2 556.4,388.3 556.6,392.6 556.9,395.4 557.1,396.4 557.4,397.0 557.6,387.2 557.9,392.4 558.1,391.2 558.3,391.2 558.6,396.3 558.8,395.2 559.1,391.9 559.3,394.7 559.6,394.7 559.8,397.7 560.0,392.5 560.3,395.9 560.5,392.0 560.8,395.3 561.0,394.0 561.3,394.9 561.5,394.1 561.7,398.4 562.0,392.2 562.2,391.6 562.5,392.6 562.7,395.5 563.0,396.3 563.2,394.1 563.5,392.4 563.7,393.2 563.9,392.4 564.2,395.7 564.4,394.3 564.7,395.0 564.9,394.5 565.2,394.6 565.4,397.5 565.6,393.0 565.9,395.5 566.1,395.6 566.4,392.3 566.6,398.9 566.9,395.0 567.1,391.2 567.3,397.0 567.6,395.9 567.8,396.2 568.1,393.7 568.3,393.3 568.6,394.7 568.8,390.5 569.0,394.7 569.3,394.5 569.5,396.7 569.8,393.7 570.0,395.9 570.3,390.4 570.5,392.2 570.8,396.4 571.0,398.3 571.2,396.7 571.5,390.1 571.7,391.4 572.0,392.6 572.2,397.6 572.5,392.6 572.7,394.9 572.9,395.5 573.2,395.5 573.4,393.8 573.7,395.1 573.9,396.6 574.2,394.7 574.4,394.1 574.6,396.4 574.9,398.4 575.1,401.0 575.4,391.2 575.6,395.0 575.9,394.6 576.1,391.3 576.3,393.5 576.6,392.4 576.8,391.6 577.1,392.6 577.3,396.0 577.6,391.4 577.8,392.8 578.1,393.9 578.3,391.5 578.5,390.9 578.8,389.9 579.0,392.2 579.3,398.0 579.5,389.5 579.8,396.5 580.0,391.7 580.2,391.6 580.5,396.3 580.7,395.7 581.0,395.9 581.2,394.2 581.5,396.5 581.7,392.4 581.9,395.1 582.2,396.8 582.4,394.0 582.7,391.8 582.9,398.7 583.2,393.6 583.4,391.5 583.6,395.9 583.9,397.7 584.1,395.8 584.4,390.9 584.6,394.4 584.9,395.1 585.1,395.9 585.4,390.3 585.6,390.7 585.8,394.7 586.1,394.3 586.3,395.5 586.6,397.4 586.8,390.5 587.1,391.1 587.3,392.6 587.5,398.4 587.8,393.6 588.0,396.9 588.3,387.7 588.5,394.8 588.8,396.7 589.0,398.1 589.2,392.3 589.5,399.8 589.7,392.0 590.0,398.3 590.2,399.0 590.5,394.1 590.7,390.6 590.9,400.4 591.2,395.4 591.4,391.0 591.7,395.7 591.9,391.4 592.2,394.8 592.4,391.3 592.7,388.0 592.9,396.2 593.1,392.4 593.4,393.9 593.6,394.6 593.9,393.8 594.1,392.3 594.4,395.3 594.6,395.9 594.8,394.9 595.1,393.3 595.3,394.4 595.6,398.5 595.8,397.7 596.1,393.7 596.3,396.1 596.5,396.0 596.8,396.1 597.0,394.6 597.3,395.9 597.5,393.6 597.8,396.5 598.0,396.0 598.2,396.4 598.5,396.4 598.7,396.1 599.0,392.4 599.2,391.3 599.5,394.9 599.7,393.5 600.0,396.6 600.2,392.8 600.4,393.3 600.7,390.8 600.9,394.2 601.2,393.4 601.4,397.7 601.7,394.7 601.9,398.4 602.1,392.4 602.4,390.1 602.6,397.5 602.9,395.9 603.1,398.9 603.4,392.7 603.6,389.8 603.8,398.9 604.1,395.4 604.3,393.0 604.6,400.6 604.8,394.9 605.1,392.5 605.3,395.8 605.5,393.3 605.8,392.5 606.0,395.9 606.3,394.9 606.5,394.3 606.8,394.5 607.0,391.1 607.3,396.7 607.5,400.0 607.7,395.6 608.0,398.3 608.2,400.3 608.5,394.2 608.7,392.9 609.0,392.1 609.2,393.5 609.4,396.9 609.7,394.4 609.9,398.0 610.2,393.0 610.4,399.3 610.7,393.9 610.9,394.5 611.1,395.0 611.4,394.1 611.6,394.4 611.9,396.4 612.1,394.4 612.4,396.0 612.6,392.6 612.8,392.6 613.1,390.9 613.3,396.7 613.6,392.4 613.8,395.9 614.1,395.0 614.3,395.0 614.6,394.1 614.8,396.3 615.0,396.0 615.3,399.2 615.5,394.1 615.8,393.7 616.0,391.4 616.3,400.7 616.5,392.8 616.7,397.0 617.0,396.8 617.2,391.4 617.5,393.0 617.7,396.7 618.0,394.7 618.2,391.2 618.4,395.0 618.7,398.8 618.9,395.6 619.2,396.2 619.4,398.2 619.7,400.6 619.9,394.8 620.1,393.0 620.4,394.5 620.6,393.3 620.9,390.9 621.1,394.2 621.4,392.0 621.6,398.1 621.9,394.3 622.1,387.4 622.3,391.7 622.6,395.6 622.8,392.9 623.1,392.2 623.3,392.9 623.6,392.1 623.8,396.1 624.0,393.1 624.3,391.8 624.5,396.7 624.8,391.1 625.0,394.9 625.3,391.6 625.5,393.1 625.7,392.9 626.0,391.2 626.2,392.7 626.5,398.4 626.7,391.2 627.0,399.8 627.2,396.6 627.4,398.6 627.7,392.9 627.9,397.3 628.2,394.9 628.4,400.0 628.7,393.1 628.9,397.8 629.2,392.7 629.4,398.2 629.6,393.3 629.9,391.2 630.1,390.5 630.4,392.7 630.6,398.6 630.9,390.6 631.1,392.2 631.3,394.0 631.6,394.4 631.8,395.0 632.1,398.8 632.3,393.7 632.6,390.3 632.8,396.4 633.0,393.2 633.3,393.7 633.5,394.7 633.8,398.8 634.0,397.8 634.3,394.5 634.5,393.4 634.7,395.7 635.0,392.3 635.2,389.5 635.5,392.5 635.7,397.1 636.0,392.5 636.2,393.0 636.5,398.5 636.7,398.5 636.9,398.6 637.2,392.3 637.4,395.9 637.7,398.3 637.9,397.4 638.2,393.4 638.4,393.9 638.6,392.4 638.9,393.0 639.1,395.5 639.4,395.5 639.6,392.1 639.9,396.3 640.1,395.1 640.3,398.1 640.6,393.0 640.8,395.1 641.1,388.3 641.3,396.7 641.6,396.2 641.8,396.9 642.0,394.7 642.3,394.6 642.5,394.4 642.8,398.1 643.0,391.9 643.3,394.3 643.5,396.3 643.8,393.6 644.0,392.1 644.2,393.8 644.5,395.5 644.7,399.0 645.0,393.2 645.2,388.6 645.5,397.5 645.7,394.6 645.9,396.3 646.2,394.3 646.4,394.5 646.7,389.3 646.9,396.2 647.2,391.5 647.4,396.4 647.6,389.3 647.9,397.8 648.1,394.1 648.4,388.1 648.6,394.8 648.9,394.8 649.1,394.8 649.3,391.4 649.6,400.7 649.8,393.1 650.1,397.3 650.3,387.6 650.6,396.2 650.8,395.9 651.1,394.4 651.3,397.9 651.5,392.8 651.8,395.8 652.0,394.3 652.3,395.3 652.5,391.8 652.8,396.3 653.0,396.0 653.2,395.4 653.5,395.4 653.7,393.5 654.0,392.9 654.2,393.9 654.5,395.6 654.7,391.2 654.9,394.3 655.2,398.9 655.4,396.6 655.7,392.0 655.9,398.0 656.2,390.0 656.4,394.1 656.6,397.7 656.9,396.5 657.1,395.6 657.4,391.8 657.6,390.1 657.9,396.1 658.1,395.4 658.4,399.3 658.6,393.0 658.8,391.6 659.1,393.1 659.3,389.6 659.6,393.6 659.8,394.4 660.1,394.1 660.3,399.5 660.5,399.7 660.8,393.6 661.0,393.0 661.3,398.1 661.5,397.5 661.8,391.2 662.0,392.6 662.2,392.4 662.5,391.0 662.7,393.0 663.0,391.1 663.2,396.7 663.5,395.9 663.7,389.9 663.9,392.8 664.2,393.0 664.4,398.5 664.7,392.9 664.9,397.1 665.2,399.1 665.4,392.2 665.7,396.2 665.9,395.0 666.1,397.2 666.4,390.9 666.6,393.7 666.9,390.1 667.1,396.7 667.4,389.3 667.6,394.9 667.8,390.4 668.1,392.7 668.3,392.4 668.6,394.9 668.8,396.3 669.1,398.0 669.3,398.6 669.5,394.9 669.8,391.7 670.0,398.2 670.3,391.3 670.5,394.8 670.8,392.9 671.0,393.1 671.2,395.4 671.5,391.6 671.7,394.6 672.0,394.6 672.2,397.8 672.5,398.0 672.7,397.0 673.0,395.0 673.2,399.7 673.4,397.6 673.7,391.3 673.9,395.7 674.2,396.2 674.4,392.6 674.7,395.6 674.9,394.0 675.1,392.4 675.4,395.1 675.6,393.2 675.9,391.5 676.1,395.0 676.4,389.7 676.6,398.1 676.8,393.9 677.1,395.2 677.3,397.6 677.6,397.5 677.8,394.1 678.1,395.8 678.3,397.6 678.5,398.9 678.8,392.7 679.0,395.8 679.3,391.9 679.5,392.4 679.8,394.7 680.0,394.3 680.3,391.8 680.5,392.3 680.7,394.6 681.0,390.8 681.2,395.3 681.5,391.5 681.7,398.8 682.0,395.3 682.2,396.9 682.4,393.8 682.7,397.9 682.9,396.2 683.2,396.9 683.4,395.1 683.7,396.6 683.9,394.5 684.1,396.5 684.4,394.0 684.6,393.9 684.9,395.3 685.1,395.1 685.4,394.7 685.6,392.7 685.8,394.1 686.1,397.5 686.3,395.2 686.6,395.8 686.8,393.4 687.1,398.8 687.3,394.3 687.6,396.4 687.8,394.8 688.0,398.2 688.3,390.4 688.5,389.1 688.8,393.9 689.0,387.8 689.3,392.6 689.5,392.8 689.7,394.0 690.0,396.6 690.2,391.0 690.5,396.3 690.7,398.3 691.0,399.3 691.2,391.7 691.4,393.8 691.7,400.2 691.9,392.1 692.2,398.1 692.4,395.9 692.7,396.5 692.9,390.2 693.1,390.9 693.4,392.4 693.6,396.7 693.9,397.2 694.1,392.7 694.4,395.8 694.6,395.3 694.9,392.2 695.1,391.8 695.3,389.4 695.6,391.6 695.8,392.5 696.1,398.2 696.3,397.1 696.6,394.2 696.8,395.6 697.0,392.3 697.3,388.1 697.5,395.4 697.8,396.3 698.0,392.5 698.3,398.1 698.5,397.6 698.7,397.0 699.0,389.3 699.2,394.8 699.5,396.5 699.7,392.2 700.0,393.2 700.2,397.1 700.4,400.5 700.7,397.0 700.9,395.4 701.2,393.3 701.4,391.7 701.7,392.4 701.9,395.8 702.2,393.4 702.4,398.6 702.6,391.0 702.9,391.6 703.1,394.7 703.4,395.5 703.6,395.2 703.9,391.8 704.1,392.8 704.3,397.6 704.6,393.9 704.8,393.6 705.1,396.8 705.3,396.1 705.6,395.0 705.8,399.7 706.0,391.2 706.3,396.1 706.5,393.3 706.8,397.8 707.0,392.3 707.3,396.9 707.5,393.9 707.7,402.1 708.0,395.7 708.2,401.2 708.5,393.1 708.7,393.3 709.0,396.0 709.2,390.2 709.5,392.4 709.7,399.2 709.9,398.1 710.2,394.4 710.4,398.2 710.7,396.3 710.9,396.4 711.2,392.3 711.4,397.7 711.6,393.4 711.9,399.2 712.1,392.1 712.4,402.1 712.6,393.2 712.9,391.2 713.1,391.9 713.3,396.1 713.6,395.8 713.8,393.1 714.1,397.2 714.3,400.5 714.6,395.4 714.8,397.2 715.0,397.5 715.3,397.4 715.5,390.2 715.8,399.3 716.0,395.0 716.3,395.5 716.5,398.5 716.8,387.7 717.0,397.4 717.2,396.0 717.5,399.8 717.7,396.2 718.0,399.0 718.2,398.2 718.5,391.8 718.7,395.0 718.9,393.1 719.2,395.0 719.4,392.7 719.7,390.9 719.9,394.8 720.2,394.2 720.4,396.4 720.6,399.8 720.9,394.1 721.1,394.5 721.4,398.5 721.6,397.8 721.9,390.6 722.1,395.0 722.3,390.8 722.6,392.5 722.8,393.5 723.1,394.5 723.3,394.0 723.6,395.4 723.8,395.7 724.1,399.2 724.3,397.1 724.5,391.8 724.8,398.6 725.0,395.7 725.3,391.5 725.5,392.0 725.8,394.9 726.0,395.0 726.2,395.7 726.5,390.5 726.7,393.8 727.0,400.6 727.2,389.9 727.5,390.9 727.7,394.8 727.9,395.5 728.2,393.1 728.4,395.1 728.7,394.3 728.9,392.3 729.2,394.5 729.4,393.7 729.6,395.6 729.9,396.5 730.1,392.1 730.4,394.3 730.6,391.6 730.9,393.5 731.1,394.9 731.4,396.5 731.6,392.3 731.8,396.3 732.1,394.2 732.3,393.7 732.6,393.8 732.8,392.8 733.1,395.4 733.3,390.9 733.5,395.7 733.8,392.9 734.0,398.5 734.3,393.0 734.5,395.2 734.8,396.3 735.0,396.5 735.2,398.6 735.5,398.9 735.7,393.9 736.0,393.0 736.2,398.3 736.5,395.5 736.7,394.0 736.9,394.4 737.2,396.7 737.4,396.5 737.7,388.4 737.9,392.1 738.2,392.7 738.4,391.3 738.7,397.3 738.9,397.5 739.1,393.7 739.4,398.0 739.6,393.2 739.9,397.9 740.1,396.2 740.4,394.6 740.6,395.5 740.8,392.6 741.1,397.1 741.3,392.9 741.6,395.4 741.8,391.5 742.1,391.6 742.3,394.0 742.5,394.0 742.8,397.0 743.0,392.8 743.3,394.2 743.5,394.2 743.8,398.5 744.0,393.3 744.2,389.5 744.5,388.4 744.7,391.2 745.0,392.2 745.2,388.5 745.5,388.3 745.7,388.6 746.0,390.9 746.2,392.4 746.4,388.5 746.7,387.9 746.9,393.4 747.2,394.5 747.4,390.9 747.7,387.5 747.9,387.2 748.1,390.4 748.4,383.4 748.6,383.4 748.9,390.1 749.1,383.2 749.4,384.7 749.6,392.2 749.8,384.8 750.1,389.5 750.3,384.6 750.6,382.1 750.8,386.0 751.1,384.1 751.3,386.4 751.5,379.6 751.8,384.8 752.0,383.7 752.3,385.0 752.5,383.3 752.8,379.5 753.0,385.7 753.3,384.3 753.5,384.1 753.7,383.0 754.0,382.2 754.2,379.4 754.5,376.0 754.7,376.5 755.0,380.3 755.2,374.5 755.4,379.0 755.7,383.1 755.9,378.3 756.2,386.2 756.4,376.5 756.7,383.2 756.9,376.1 757.1,382.7 757.4,386.6 757.6,381.4 757.9,379.1 758.1,379.7 758.4,385.0 758.6,385.9 758.8,385.0 759.1,382.8 759.3,381.6 759.6,382.6 759.8,382.4 760.1,381.2 760.3,389.0 760.6,389.9 760.8,390.4 761.0,391.8 761.3,385.6 761.5,382.6 761.8,388.6 762.0,387.6 762.3,385.5 762.5,390.2 762.7,388.0 763.0,391.4 763.2,390.9 763.5,387.7 763.7,390.3 764.0,389.1 764.2,391.7 764.4,390.8 764.7,388.5 764.9,392.6 765.2,391.0 765.4,391.3 765.7,392.3 765.9,398.3 766.1,393.4 766.4,391.9 766.6,390.8 766.9,388.2 767.1,392.9 767.4,393.1 767.6,391.6 767.9,395.3 768.1,394.5 768.3,395.4 768.6,392.9 768.8,397.9 769.1,395.5 769.3,392.2 769.6,394.1 769.8,396.9 770.0,392.5 770.3,397.8 770.5,393.2 770.8,389.4 771.0,396.5 771.3,393.1 771.5,394.7 771.7,394.2 772.0,397.6 772.2,394.7 772.5,397.1 772.7,392.4 773.0,395.0 773.2,393.2 773.4,394.9 773.7,400.9 773.9,392.8 774.2,396.0 774.4,394.0 774.7,396.2 774.9,392.7 775.2,393.5 775.4,390.3 775.6,398.5 775.9,395.3 776.1,395.9 776.4,391.6 776.6,399.3 776.9,398.3 777.1,394.2 777.3,396.0 777.6,394.5 777.8,397.9 778.1,389.3 778.3,395.9 778.6,396.1 778.8,397.7 779.0,392.6 779.3,393.4 779.5,392.5 779.8,398.1 780.0,396.7 780.3,398.5 780.5,397.9 780.7,397.5 781.0,392.5 781.2,395.2 781.5,399.4 781.7,396.8 782.0,393.2 782.2,393.6 782.5,394.7 782.7,395.3 782.9,396.3 783.2,396.0 783.4,397.3 783.7,398.9 783.9,397.8 784.2,393.3 784.4,401.7 784.6,395.5 784.9,394.3 785.1,399.2 785.4,400.0 785.6,397.6 785.9,399.8 786.1,395.8 786.3,395.9 786.6,393.3 786.8,399.2 787.1,396.9 787.3,400.9 787.6,395.6 787.8,399.6 788.0,396.8 788.3,401.2 788.5,396.6 788.8,400.5 789.0,393.9 789.3,395.5 789.5,395.2 789.8,399.5 790.0,391.0 790.2,393.5 790.5,397.3 790.7,396.6 791.0,396.6 791.2,397.9 791.5,396.1 791.7,398.5 791.9,400.2 792.2,394.2 792.4,400.1 792.7,394.6 792.9,393.1 793.2,396.4 793.4,396.3 793.6,397.4 793.9,393.5 794.1,396.3 794.4,395.0 794.6,399.5 794.9,396.7 795.1,394.9 795.3,393.7 795.6,396.5 795.8,401.8 796.1,391.9 796.3,394.7 796.6,399.9 796.8,399.3 797.1,396.0 797.3,396.2 797.5,395.4 797.8,394.2 798.0,395.8 798.3,398.1 798.5,397.7 798.8,392.6 799.0,396.1"/>
<polyline fill="none" stroke="#0000ff" stroke-width="2.80" stroke-linejoin="round" stroke-linecap="round" clip-path="url(#clipa)" points="69.0,298.6 69.2,288.8 69.5,296.8 69.7,295.0 70.0,297.4 70.2,295.5 70.5,298.4 70.7,294.8 70.9,293.6 71.2,295.8 71.4,295.4 71.7,293.8 71.9,294.0 72.2,295.9 72.4,295.8 72.6,293.4 72.9,293.6 73.1,290.7 73.4,297.6 73.6,293.8 73.9,296.8 74.1,295.0 74.4,298.0 74.6,297.1 74.8,294.6 75.1,296.9 75.3,292.0 75.6,296.4 75.8,290.9 76.1,294.5 76.3,295.9 76.5,294.2 76.8,293.0 77.0,292.0 77.3,292.9 77.5,295.7 77.8,295.3 78.0,293.0 78.2,291.0 78.5,294.8 78.7,290.5 79.0,292.3 79.2,291.8 79.5,294.7 79.7,293.7 79.9,294.1 80.2,293.7 80.4,291.7 80.7,294.1 80.9,295.8 81.2,292.9 81.4,294.1 81.7,292.5 81.9,294.7 82.1,293.9 82.4,294.2 82.6,293.0 82.9,295.5 83.1,291.4 83.4,291.3 83.6,290.7 83.8,293.0 84.1,290.4 84.3,290.2 84.6,292.9 84.8,293.6 85.1,292.3 85.3,285.7 85.5,289.1 85.8,288.7 86.0,288.3 86.3,289.8 86.5,294.2 86.8,289.8 87.0,288.8 87.2,291.6 87.5,290.2 87.7,290.2 88.0,288.5 88.2,289.7 88.5,290.5 88.7,285.7 89.0,286.2 89.2,291.5 89.4,290.9 89.7,288.1 89.9,286.9 90.2,288.5 90.4,286.4 90.7,288.0 90.9,291.8 91.1,288.7 91.4,290.6 91.6,287.7 91.9,288.8 92.1,290.7 92.4,285.2 92.6,287.0 92.8,287.3 93.1,288.0 93.3,290.4 93.6,288.6 93.8,284.1 94.1,286.4 94.3,285.0 94.5,284.8 94.8,290.6 95.0,284.3 95.3,286.8 95.5,284.7 95.8,287.8 96.0,286.6 96.3,286.0 96.5,285.5 96.7,287.8 97.0,283.5 97.2,283.8 97.5,282.9 97.7,287.7 98.0,284.3 98.2,282.7 98.4,283.8 98.7,289.5 98.9,284.1 99.2,285.9 99.4,285.0 99.7,284.0 99.9,282.5 100.1,283.1 100.4,282.9 100.6,279.0 100.9,288.7 101.1,285.5 101.4,283.9 101.6,283.4 101.8,282.3 102.1,285.8 102.3,283.6 102.6,285.1 102.8,281.4 103.1,285.0 103.3,288.3 103.6,283.8 103.8,286.1 104.0,284.7 104.3,286.9 104.5,286.9 104.8,284.9 105.0,283.8 105.3,285.6 105.5,285.1 105.7,283.9 106.0,286.1 106.2,286.2 106.5,283.6 106.7,285.2 107.0,291.6 107.2,287.7 107.4,286.6 107.7,291.7 107.9,286.0 108.2,282.3 108.4,283.7 108.7,284.8 108.9,288.7 109.1,290.4 109.4,284.4 109.6,291.3 109.9,286.9 110.1,290.2 110.4,290.9 110.6,291.1 110.9,290.6 111.1,291.2 111.3,288.9 111.6,292.0 111.8,293.5 112.1,293.4 112.3,296.8 112.6,293.8 112.8,293.2 113.0,295.1 113.3,292.3 113.5,289.3 113.8,287.4 114.0,294.5 114.3,293.1 114.5,293.8 114.7,291.4 115.0,292.8 115.2,296.0 115.5,292.9 115.7,290.1 116.0,291.5 116.2,295.2 116.4,290.3 116.7,287.3 116.9,288.0 117.2,289.9 117.4,294.3 117.7,292.9 117.9,291.2 118.2,290.2 118.4,292.6 118.6,292.6 118.9,291.8 119.1,292.5 119.4,291.5 119.6,296.7 119.9,288.4 120.1,293.5 120.3,291.2 120.6,294.7 120.8,292.9 121.1,294.1 121.3,294.5 121.6,293.9 121.8,295.5 122.0,290.8 122.3,295.6 122.5,293.3 122.8,294.5 123.0,296.9 123.3,296.1 123.5,297.9 123.7,289.5 124.0,292.1 124.2,296.0 124.5,291.8 124.7,293.8 125.0,297.6 125.2,296.0 125.5,292.3 125.7,295.2 125.9,295.7 126.2,294.5 126.4,294.2 126.7,294.8 126.9,291.5 127.2,294.8 127.4,292.7 127.6,295.5 127.9,295.6 128.1,293.0 128.4,296.0 128.6,295.6 128.9,294.8 129.1,296.4 129.3,294.4 129.6,294.5 129.8,295.2 130.1,295.0 130.3,297.5 130.6,290.5 130.8,294.6 131.0,291.3 131.3,294.3 131.5,295.9 131.8,295.4 132.0,297.4 132.3,296.1 132.5,290.0 132.8,293.3 133.0,298.7 133.2,298.7 133.5,295.9 133.7,292.6 134.0,300.1 134.2,291.6 134.5,296.4 134.7,295.8 134.9,296.4 135.2,293.6 135.4,295.2 135.7,298.2 135.9,295.1 136.2,293.3 136.4,296.1 136.6,296.3 136.9,295.9 137.1,294.7 137.4,297.4 137.6,296.1 137.9,294.0 138.1,296.9 138.3,296.4 138.6,296.8 138.8,293.2 139.1,295.1 139.3,297.6 139.6,298.6 139.8,297.5 140.1,297.1 140.3,298.3 140.5,298.9 140.8,300.5 141.0,298.0 141.3,296.0 141.5,298.1 141.8,293.3 142.0,297.4 142.2,296.4 142.5,297.3 142.7,298.4 143.0,297.6 143.2,294.6 143.5,296.8 143.7,296.0 143.9,297.6 144.2,298.4 144.4,295.8 144.7,299.3 144.9,300.4 145.2,297.3 145.4,299.4 145.6,295.0 145.9,296.9 146.1,300.0 146.4,294.6 146.6,297.2 146.9,296.4 147.1,300.6 147.4,300.6 147.6,297.1 147.8,298.6 148.1,293.2 148.3,300.2 148.6,299.2 148.8,301.2 149.1,293.7 149.3,299.2 149.5,297.9 149.8,293.4 150.0,297.2 150.3,298.5 150.5,300.3 150.8,299.1 151.0,297.7 151.2,299.6 151.5,298.5 151.7,297.5 152.0,296.8 152.2,299.1 152.5,299.2 152.7,302.5 152.9,298.0 153.2,302.1 153.4,299.6 153.7,301.3 153.9,297.2 154.2,297.3 154.4,298.4 154.7,300.8 154.9,299.4 155.1,300.6 155.4,299.8 155.6,301.2 155.9,299.6 156.1,298.1 156.4,300.2 156.6,299.4 156.8,302.8 157.1,299.0 157.3,299.5 157.6,298.7 157.8,301.7 158.1,301.1 158.3,300.7 158.5,296.9 158.8,296.4 159.0,300.0 159.3,300.9 159.5,302.5 159.8,295.9 160.0,299.2 160.2,296.2 160.5,297.7 160.7,299.2 161.0,301.6 161.2,298.6 161.5,298.3 161.7,299.1 162.0,302.3 162.2,304.6 162.4,296.7 162.7,299.3 162.9,299.0 163.2,302.2 163.4,300.7 163.7,303.0 163.9,297.9 164.1,300.0 164.4,299.1 164.6,297.8 164.9,299.7 165.1,297.7 165.4,304.4 165.6,300.9 165.8,298.1 166.1,298.9 166.3,303.6 166.6,299.2 166.8,301.6 167.1,301.4 167.3,302.4 167.5,301.5 167.8,299.9 168.0,299.1 168.3,296.8 168.5,300.3 168.8,300.7 169.0,299.7 169.3,300.1 169.5,298.0 169.7,304.8 170.0,299.5 170.2,298.4 170.5,299.3 170.7,300.2 171.0,302.1 171.2,295.7 171.4,301.7 171.7,299.4 171.9,300.3 172.2,302.7 172.4,302.2 172.7,299.4 172.9,300.6 173.1,304.5 173.4,303.5 173.6,302.6 173.9,300.9 174.1,302.8 174.4,301.7 174.6,299.8 174.8,298.9 175.1,302.0 175.3,301.8 175.6,303.4 175.8,300.1 176.1,303.9 176.3,300.4 176.6,303.6 176.8,302.2 177.0,300.0 177.3,299.3 177.5,301.0 177.8,300.7 178.0,303.1 178.3,299.9 178.5,298.3 178.7,301.3 179.0,305.2 179.2,304.6 179.5,300.1 179.7,300.9 180.0,302.1 180.2,300.1 180.4,301.0 180.7,300.9 180.9,299.4 181.2,300.3 181.4,300.6 181.7,302.1 181.9,299.2 182.1,301.8 182.4,299.7 182.6,300.1 182.9,299.4 183.1,309.7 183.4,304.3 183.6,304.5 183.9,303.4 184.1,301.3 184.3,302.0 184.6,302.4 184.8,302.8 185.1,303.1 185.3,305.0 185.6,296.0 185.8,300.9 186.0,303.3 186.3,301.3 186.5,301.7 186.8,305.0 187.0,302.5 187.3,305.7 187.5,302.0 187.7,302.6 188.0,300.0 188.2,298.2 188.5,301.4 188.7,302.4 189.0,301.6 189.2,299.6 189.4,303.6 189.7,302.5 189.9,302.4 190.2,300.8 190.4,305.7 190.7,305.4 190.9,303.0 191.2,302.2 191.4,302.9 191.6,305.8 191.9,308.0 192.1,302.4 192.4,301.6 192.6,298.8 192.9,308.0 193.1,300.2 193.3,304.2 193.6,303.4 193.8,305.1 194.1,300.7 194.3,299.2 194.6,302.7 194.8,303.2 195.0,304.7 195.3,299.0 195.5,301.5 195.8,301.9 196.0,299.7 196.3,302.1 196.5,304.0 196.7,302.3 197.0,299.5 197.2,303.1 197.5,304.1 197.7,303.5 198.0,304.0 198.2,299.1 198.5,303.3 198.7,303.6 198.9,301.7 199.2,302.3 199.4,300.9 199.7,304.9 199.9,301.8 200.2,300.5 200.4,302.8 200.6,302.6 200.9,303.7 201.1,300.7 201.4,301.1 201.6,303.2 201.9,306.9 202.1,303.3 202.3,299.7 202.6,302.7 202.8,300.8 203.1,298.7 203.3,301.0 203.6,301.3 203.8,303.2 204.0,305.0 204.3,304.7 204.5,304.0 204.8,301.5 205.0,302.7 205.3,302.3 205.5,305.2 205.8,301.1 206.0,301.3 206.2,305.4 206.5,303.6 206.7,301.5 207.0,302.7 207.2,302.7 207.5,302.8 207.7,304.0 207.9,303.1 208.2,302.0 208.4,301.4 208.7,298.9 208.9,301.5 209.2,304.7 209.4,302.9 209.6,301.1 209.9,301.9 210.1,300.7 210.4,303.0 210.6,306.4 210.9,306.0 211.1,304.8 211.3,304.0 211.6,301.9 211.8,299.9 212.1,302.4 212.3,301.5 212.6,304.1 212.8,302.7 213.1,301.3 213.3,303.3 213.5,308.3 213.8,300.6 214.0,304.7 214.3,303.6 214.5,302.2 214.8,300.9 215.0,302.5 215.2,302.9 215.5,304.0 215.7,303.8 216.0,303.1 216.2,301.0 216.5,303.0 216.7,301.5 216.9,300.3 217.2,304.2 217.4,301.1 217.7,300.0 217.9,302.6 218.2,298.5 218.4,302.3 218.6,303.3 218.9,301.6 219.1,302.9 219.4,306.7 219.6,305.2 219.9,304.3 220.1,303.6 220.4,301.4 220.6,302.1 220.8,301.8 221.1,302.4 221.3,302.6 221.6,300.8 221.8,305.6 222.1,300.3 222.3,303.1 222.5,304.4 222.8,302.3 223.0,301.0 223.3,302.4 223.5,306.3 223.8,303.6 224.0,301.8 224.2,303.5 224.5,302.0 224.7,298.6 225.0,302.9 225.2,304.5 225.5,304.7 225.7,302.2 225.9,299.5 226.2,304.8 226.4,302.1 226.7,303.8 226.9,304.6 227.2,303.0 227.4,302.2 227.7,301.1 227.9,301.5 228.1,302.4 228.4,301.4 228.6,303.1 228.9,298.4 229.1,300.3 229.4,302.3 229.6,300.9 229.8,301.3 230.1,300.1 230.3,303.7 230.6,305.6 230.8,300.3 231.1,304.6 231.3,299.4 231.5,302.6 231.8,298.3 232.0,303.3 232.3,302.4 232.5,302.6 232.8,304.7 233.0,303.5 233.2,302.3 233.5,300.7 233.7,302.4 234.0,300.9 234.2,301.4 234.5,305.2 234.7,304.0 235.0,302.9 235.2,303.5 235.4,299.4 235.7,302.5 235.9,298.9 236.2,300.9 236.4,303.0 236.7,303.0 236.9,303.7 237.1,302.6 237.4,302.4 237.6,302.2 237.9,305.1 238.1,304.8 238.4,299.3 238.6,302.5 238.8,304.8 239.1,301.7 239.3,302.7 239.6,301.0 239.8,299.8 240.1,302.5 240.3,301.4 240.5,301.9 240.8,299.3 241.0,299.8 241.3,301.9 241.5,301.3 241.8,303.2 242.0,300.0 242.3,303.5 242.5,303.2 242.7,302.3 243.0,303.4 243.2,301.9 243.5,301.7 243.7,302.0 244.0,299.5 244.2,302.0 244.4,303.7 244.7,298.8 244.9,303.4 245.2,300.8 245.4,301.3 245.7,302.2 245.9,302.5 246.1,304.8 246.4,301.8 246.6,305.5 246.9,302.1 247.1,303.0 247.4,303.4 247.6,300.7 247.8,299.8 248.1,302.3 248.3,303.5 248.6,303.8 248.8,301.4 249.1,305.6 249.3,301.9 249.6,300.8 249.8,304.5 250.0,304.7 250.3,300.3 250.5,303.9 250.8,299.8 251.0,302.4 251.3,306.9 251.5,304.9 251.7,303.8 252.0,303.7 252.2,300.8 252.5,303.1 252.7,303.3 253.0,300.4 253.2,302.9 253.4,303.6 253.7,302.9 253.9,303.3 254.2,302.0 254.4,300.3 254.7,302.6 254.9,298.7 255.1,301.1 255.4,304.7 255.6,306.1 255.9,303.3 256.1,297.7 256.4,305.2 256.6,303.6 256.9,302.2 257.1,304.0 257.3,303.6 257.6,300.2 257.8,300.0 258.1,304.6 258.3,298.0 258.6,303.8 258.8,303.2 259.0,304.5 259.3,306.0 259.5,305.2 259.8,305.7 260.0,304.2 260.3,303.6 260.5,304.7 260.7,302.6 261.0,300.8 261.2,302.4 261.5,299.4 261.7,301.5 262.0,306.7 262.2,303.6 262.4,302.2 262.7,301.3 262.9,299.0 263.2,301.4 263.4,300.9 263.7,302.5 263.9,302.6 264.2,302.3 264.4,298.6 264.6,305.3 264.9,303.2 265.1,302.3 265.4,301.6 265.6,303.1 265.9,304.7 266.1,303.4 266.3,299.8 266.6,299.6 266.8,297.3 267.1,302.2 267.3,303.3 267.6,304.2 267.8,302.0 268.0,303.3 268.3,299.7 268.5,302.5 268.8,301.2 269.0,300.0 269.3,297.9 269.5,303.4 269.7,296.5 270.0,302.2 270.2,299.2 270.5,301.9 270.7,299.5 271.0,302.0 271.2,299.9 271.5,298.2 271.7,299.1 271.9,296.8 272.2,300.5 272.4,301.9 272.7,300.5 272.9,299.8 273.2,302.1 273.4,297.0 273.6,300.4 273.9,299.2 274.1,298.1 274.4,300.1 274.6,296.6 274.9,298.6 275.1,299.4 275.3,296.4 275.6,298.2 275.8,299.7 276.1,300.5 276.3,296.6 276.6,300.3 276.8,297.9 277.0,298.7 277.3,297.4 277.5,300.1 277.8,297.1 278.0,299.1 278.3,299.3 278.5,300.1 278.8,296.6 279.0,300.3 279.2,298.9 279.5,301.8 279.7,298.3 280.0,297.9 280.2,299.0 280.5,298.6 280.7,299.0 280.9,296.9 281.2,295.4 281.4,296.7 281.7,298.6 281.9,300.7 282.2,299.4 282.4,298.2 282.6,299.9 282.9,300.4 283.1,306.0 283.4,303.1 283.6,301.0 283.9,297.8 284.1,300.5 284.3,300.3 284.6,302.1 284.8,305.4 285.1,301.1 285.3,297.4 285.6,301.1 285.8,298.1 286.1,303.2 286.3,303.8 286.5,302.3 286.8,298.7 287.0,301.4 287.3,304.2 287.5,299.8 287.8,300.7 288.0,302.4 288.2,302.9 288.5,302.1 288.7,302.7 289.0,302.4 289.2,300.9 289.5,301.9 289.7,302.6 289.9,299.9 290.2,302.5 290.4,302.3 290.7,303.0 290.9,302.8 291.2,300.0 291.4,299.6 291.6,302.6 291.9,301.8 292.1,302.2 292.4,300.9 292.6,299.5 292.9,302.5 293.1,301.7 293.4,303.2 293.6,304.1 293.8,304.1 294.1,303.8 294.3,299.9 294.6,297.6 294.8,300.5 295.1,299.3 295.3,299.0 295.5,302.9 295.8,298.3 296.0,303.2 296.3,303.5 296.5,306.5 296.8,303.2 297.0,305.1 297.2,299.5 297.5,299.1 297.7,302.1 298.0,297.2 298.2,301.6 298.5,298.1 298.7,294.0 298.9,300.7 299.2,293.6 299.4,299.5 299.7,290.0 299.9,289.5 300.2,289.5 300.4,286.9 300.7,281.2 300.9,282.0 301.1,279.4 301.4,277.3 301.6,270.6 301.9,270.2 302.1,269.1 302.4,269.3 302.6,267.0 302.8,265.6 303.1,265.8 303.3,270.6 303.6,267.6 303.8,271.9 304.1,269.4 304.3,279.7 304.5,279.9 304.8,278.2 305.0,285.5 305.3,289.5 305.5,290.6 305.8,291.2 306.0,294.5 306.2,292.9 306.5,295.2 306.7,296.1 307.0,297.9 307.2,296.4 307.5,301.8 307.7,299.3 308.0,297.8 308.2,299.8 308.4,301.2 308.7,300.8 308.9,303.0 309.2,300.2 309.4,299.5 309.7,302.1 309.9,303.7 310.1,299.3 310.4,298.1 310.6,300.0 310.9,301.2 311.1,299.3 311.4,301.7 311.6,299.7 311.8,303.2 312.1,299.1 312.3,299.7 312.6,301.6 312.8,302.8 313.1,303.3 313.3,300.1 313.5,301.5 313.8,302.6 314.0,304.3 314.3,299.7 314.5,299.0 314.8,302.4 315.0,300.9 315.3,304.1 315.5,301.5 315.7,302.0 316.0,299.8 316.2,301.9 316.5,303.8 316.7,300.8 317.0,298.9 317.2,303.0 317.4,300.6 317.7,301.3 317.9,299.8 318.2,303.1 318.4,299.7 318.7,300.2 318.9,301.1 319.1,300.7 319.4,296.6 319.6,301.9 319.9,298.6 320.1,301.5 320.4,300.1 320.6,300.6 320.8,299.4 321.1,298.7 321.3,301.0 321.6,301.1 321.8,302.7 322.1,301.7 322.3,299.1 322.6,302.8 322.8,304.8 323.0,301.8 323.3,299.9 323.5,298.3 323.8,300.3 324.0,297.2 324.3,301.6 324.5,299.1 324.7,298.6 325.0,300.2 325.2,297.0 325.5,295.9 325.7,298.3 326.0,301.4 326.2,297.0 326.4,300.1 326.7,294.2 326.9,297.3 327.2,297.7 327.4,299.5 327.7,291.4 327.9,293.6 328.1,290.5 328.4,291.2 328.6,287.6 328.9,286.6 329.1,282.4 329.4,280.1 329.6,279.1 329.9,278.2 330.1,272.5 330.3,269.2 330.6,265.2 330.8,266.6 331.1,257.5 331.3,255.8 331.6,257.4 331.8,259.8 332.0,261.5 332.3,262.2 332.5,264.6 332.8,266.0 333.0,267.5 333.3,269.3 333.5,275.3 333.7,275.5 334.0,281.1 334.2,284.4 334.5,284.0 334.7,286.5 335.0,288.2 335.2,292.2 335.4,292.5 335.7,291.9 335.9,294.7 336.2,297.8 336.4,295.9 336.7,296.0 336.9,295.3 337.2,294.5 337.4,296.6 337.6,296.8 337.9,296.2 338.1,299.2 338.4,296.4 338.6,296.6 338.9,297.3 339.1,298.0 339.3,293.4 339.6,297.4 339.8,299.4 340.1,294.6 340.3,297.6 340.6,295.7 340.8,294.7 341.0,297.2 341.3,296.4 341.5,292.4 341.8,295.3 342.0,298.0 342.3,295.1 342.5,294.8 342.7,295.4 343.0,295.2 343.2,297.5 343.5,294.2 343.7,293.5 344.0,296.5 344.2,297.6 344.5,296.9 344.7,297.0 344.9,294.0 345.2,292.2 345.4,293.7 345.7,294.9 345.9,291.4 346.2,294.1 346.4,295.7 346.6,293.1 346.9,298.2 347.1,295.7 347.4,291.6 347.6,291.7 347.9,292.4 348.1,295.0 348.3,294.4 348.6,292.2 348.8,293.5 349.1,294.6 349.3,293.9 349.6,289.5 349.8,290.4 350.0,290.5 350.3,288.8 350.5,293.7 350.8,290.6 351.0,290.4 351.3,289.8 351.5,291.9 351.8,292.2 352.0,292.3 352.2,293.2 352.5,288.7 352.7,293.6 353.0,295.1 353.2,288.9 353.5,289.0 353.7,290.7 353.9,291.8 354.2,288.6 354.4,287.3 354.7,292.8 354.9,287.4 355.2,282.8 355.4,289.0 355.6,289.7 355.9,290.9 356.1,290.7 356.4,293.1 356.6,285.6 356.9,284.4 357.1,283.2 357.3,289.2 357.6,284.6 357.8,281.8 358.1,280.8 358.3,284.8 358.6,283.3 358.8,284.4 359.1,281.6 359.3,281.4 359.5,283.4 359.8,281.5 360.0,282.5 360.3,280.4 360.5,279.3 360.8,279.8 361.0,277.4 361.2,277.2 361.5,276.3 361.7,272.7 362.0,271.4 362.2,269.3 362.5,267.5 362.7,263.0 362.9,258.8 363.2,254.2 363.4,246.7 363.7,241.2 363.9,231.2 364.2,220.2 364.4,214.7 364.6,199.0 364.9,190.7 365.1,181.2 365.4,166.1 365.6,148.7 365.9,138.1 366.1,123.1 366.4,107.6 366.6,96.7 366.8,85.1 367.1,76.8 367.3,72.1 367.6,65.2 367.8,70.1 368.1,75.7 368.3,77.7 368.5,84.9 368.8,97.0 369.0,112.7 369.3,122.9 369.5,139.0 369.8,156.9 370.0,165.1 370.2,180.4 370.5,192.1 370.7,204.6 371.0,216.7 371.2,225.1 371.5,236.5 371.7,244.0 371.9,252.9 372.2,258.0 372.4,262.6 372.7,269.2 372.9,269.6 373.2,274.3 373.4,274.4 373.7,280.8 373.9,278.3 374.1,283.2 374.4,281.2 374.6,284.2 374.9,282.6 375.1,284.1 375.4,284.5 375.6,287.9 375.8,288.7 376.1,289.7 376.3,289.5 376.6,288.8 376.8,291.0 377.1,293.2 377.3,289.8 377.5,289.4 377.8,292.4 378.0,295.7 378.3,291.8 378.5,291.7 378.8,290.6 379.0,291.5 379.2,291.4 379.5,291.6 379.7,295.9 380.0,296.6 380.2,294.5 380.5,294.8 380.7,296.4 381.0,295.1 381.2,295.5 381.4,296.7 381.7,295.6 381.9,298.5 382.2,302.6 382.4,296.3 382.7,297.1 382.9,295.1 383.1,296.0 383.4,297.2 383.6,298.1 383.9,297.0 384.1,295.2 384.4,298.5 384.6,296.8 384.8,298.9 385.1,297.8 385.3,298.1 385.6,298.3 385.8,294.4 386.1,301.2 386.3,297.1 386.5,299.7 386.8,300.2 387.0,298.1 387.3,296.7 387.5,300.6 387.8,297.7 388.0,299.6 388.3,300.7 388.5,299.0 388.7,296.6 389.0,298.8 389.2,301.2 389.5,298.7 389.7,302.1 390.0,297.4 390.2,298.7 390.4,297.2 390.7,298.8 390.9,303.8 391.2,302.0 391.4,300.4 391.7,299.8 391.9,303.4 392.1,300.9 392.4,299.3 392.6,304.4 392.9,298.7 393.1,301.8 393.4,302.8 393.6,303.5 393.8,305.5 394.1,303.3 394.3,300.3 394.6,304.1 394.8,302.4 395.1,299.5 395.3,299.8 395.6,300.4 395.8,297.7 396.0,303.0 396.3,303.3 396.5,303.2 396.8,300.6 397.0,302.2 397.3,304.7 397.5,303.1 397.7,302.1 398.0,301.0 398.2,302.4 398.5,305.1 398.7,302.6 399.0,307.2 399.2,307.5 399.4,304.1 399.7,299.5 399.9,302.2 400.2,305.3 400.4,301.7 400.7,301.5 400.9,302.9 401.1,308.2 401.4,302.0 401.6,299.1 401.9,303.6 402.1,303.8 402.4,304.5 402.6,303.2 402.9,303.8 403.1,302.2 403.3,305.1 403.6,303.1 403.8,304.2 404.1,301.7 404.3,306.0 404.6,303.8 404.8,302.4 405.0,303.4 405.3,301.1 405.5,302.1 405.8,305.0 406.0,304.6 406.3,305.1 406.5,304.9 406.7,302.9 407.0,303.7 407.2,307.3 407.5,303.3 407.7,300.5 408.0,303.5 408.2,302.7 408.4,303.4 408.7,303.6 408.9,301.5 409.2,304.4 409.4,303.3 409.7,304.8 409.9,302.2 410.2,301.7 410.4,302.8 410.6,307.0 410.9,300.1 411.1,305.9 411.4,303.6 411.6,306.0 411.9,302.9 412.1,304.5 412.3,304.5 412.6,308.0 412.8,303.5 413.1,304.2 413.3,302.3 413.6,304.4 413.8,302.3 414.0,303.6 414.3,304.6 414.5,305.0 414.8,302.0 415.0,302.1 415.3,306.2 415.5,302.8 415.7,304.3 416.0,303.4 416.2,300.8 416.5,303.7 416.7,303.7 417.0,307.5 417.2,300.2 417.5,302.9 417.7,305.2 417.9,302.9 418.2,299.7 418.4,305.3 418.7,304.4 418.9,302.4 419.2,302.1 419.4,302.7 419.6,304.5 419.9,303.7 420.1,302.8 420.4,304.8 420.6,306.2 420.9,302.9 421.1,307.2 421.3,304.2 421.6,305.3 421.8,305.0 422.1,305.1 422.3,304.6 422.6,299.7 422.8,302.3 423.0,305.9 423.3,302.1 423.5,304.4 423.8,301.1 424.0,303.0 424.3,307.2 424.5,304.7 424.8,302.5 425.0,302.9 425.2,300.8 425.5,305.1 425.7,303.7 426.0,305.7 426.2,305.8 426.5,303.6 426.7,302.3 426.9,301.8 427.2,303.4 427.4,304.2 427.7,306.9 427.9,302.3 428.2,305.1 428.4,302.1 428.6,303.1 428.9,305.7 429.1,305.2 429.4,303.1 429.6,302.9 429.9,306.4 430.1,303.9 430.3,303.6 430.6,302.1 430.8,309.2 431.1,307.9 431.3,305.3 431.6,308.7 431.8,305.3 432.1,303.6 432.3,305.4 432.5,307.1 432.8,302.1 433.0,306.8 433.3,306.7 433.5,307.4 433.8,305.3 434.0,306.6 434.2,301.0 434.5,304.3 434.7,306.5 435.0,305.5 435.2,304.9 435.5,301.9 435.7,304.1 435.9,301.0 436.2,303.9 436.4,305.0 436.7,303.3 436.9,305.3 437.2,304.4 437.4,306.1 437.6,303.6 437.9,301.1 438.1,301.8 438.4,302.8 438.6,304.3 438.9,304.5 439.1,302.8 439.4,304.5 439.6,302.9 439.8,305.5 440.1,301.6 440.3,306.5 440.6,304.7 440.8,303.4 441.1,302.0 441.3,305.2 441.5,302.9 441.8,305.4 442.0,307.7 442.3,304.4 442.5,304.5 442.8,305.0 443.0,302.9 443.2,307.7 443.5,303.4 443.7,305.2 444.0,304.4 444.2,302.5 444.5,306.3 444.7,304.2 444.9,302.1 445.2,302.0 445.4,299.3 445.7,300.9 445.9,304.6 446.2,304.4 446.4,300.7 446.7,303.6 446.9,304.0 447.1,303.4 447.4,304.0 447.6,297.5 447.9,301.3 448.1,298.6 448.4,301.5 448.6,298.2 448.8,299.5 449.1,300.5 449.3,295.1 449.6,296.4 449.8,295.7 450.1,296.3 450.3,292.6 450.5,296.6 450.8,298.1 451.0,293.0 451.3,293.8 451.5,286.6 451.8,288.7 452.0,291.6 452.2,290.0 452.5,289.9 452.7,290.4 453.0,287.1 453.2,285.6 453.5,284.4 453.7,284.8 454.0,279.7 454.2,286.2 454.4,278.4 454.7,279.2 454.9,282.1 455.2,283.6 455.4,282.7 455.7,284.6 455.9,280.9 456.1,280.7 456.4,283.4 456.6,280.5 456.9,283.7 457.1,284.9 457.4,285.1 457.6,281.2 457.8,285.6 458.1,282.8 458.3,289.4 458.6,287.6 458.8,291.3 459.1,292.8 459.3,288.4 459.5,293.7 459.8,293.5 460.0,296.5 460.3,291.7 460.5,292.4 460.8,294.1 461.0,292.7 461.3,297.2 461.5,296.1 461.7,298.5 462.0,299.4 462.2,300.9 462.5,297.0 462.7,301.6 463.0,302.0 463.2,298.9 463.4,300.0 463.7,298.6 463.9,304.3 464.2,304.8 464.4,300.7 464.7,302.4 464.9,303.6 465.1,304.4 465.4,303.0 465.6,306.6 465.9,301.6 466.1,305.3 466.4,303.9 466.6,304.4 466.8,302.4 467.1,300.6 467.3,303.1 467.6,305.1 467.8,302.6 468.1,300.9 468.3,304.0 468.6,304.4 468.8,302.5 469.0,304.3 469.3,305.4 469.5,305.1 469.8,306.5 470.0,307.1 470.3,304.7 470.5,303.2 470.7,301.4 471.0,306.9 471.2,305.6 471.5,306.9 471.7,303.3 472.0,305.2 472.2,303.4 472.4,303.3 472.7,302.2 472.9,304.6 473.2,306.1 473.4,306.7 473.7,305.6 473.9,304.6 474.1,309.2 474.4,308.3 474.6,307.3 474.9,305.6 475.1,307.8 475.4,303.8 475.6,302.8 475.9,306.6 476.1,305.7 476.3,307.5 476.6,303.8 476.8,306.0 477.1,303.4 477.3,304.8 477.6,306.4 477.8,305.3 478.0,303.6 478.3,302.6 478.5,304.8 478.8,303.7 479.0,302.7 479.3,305.7 479.5,303.8 479.7,308.1 480.0,309.7 480.2,307.8 480.5,311.2 480.7,303.2 481.0,302.2 481.2,305.4 481.4,302.2 481.7,306.0 481.9,307.5 482.2,307.3 482.4,307.7 482.7,305.3 482.9,305.6 483.2,306.2 483.4,305.7 483.6,307.6 483.9,305.0 484.1,305.7 484.4,304.4 484.6,307.7 484.9,306.1 485.1,306.1 485.3,304.9 485.6,302.3 485.8,305.0 486.1,301.5 486.3,305.7 486.6,303.4 486.8,308.4 487.0,304.6 487.3,305.8 487.5,304.9 487.8,303.6 488.0,302.8 488.3,300.9 488.5,304.6 488.7,301.9 489.0,308.2 489.2,303.4 489.5,304.7 489.7,305.9 490.0,305.7 490.2,308.3 490.5,305.8 490.7,305.0 490.9,305.8 491.2,309.1 491.4,307.6 491.7,302.1 491.9,305.6 492.2,304.2 492.4,306.1 492.6,307.3 492.9,306.1 493.1,307.3 493.4,309.4 493.6,302.6 493.9,306.0 494.1,306.2 494.3,307.0 494.6,306.3 494.8,308.0 495.1,306.1 495.3,307.0 495.6,303.1 495.8,306.5 496.0,303.8 496.3,307.3 496.5,309.7 496.8,306.1 497.0,307.1 497.3,307.7 497.5,309.0 497.8,307.8 498.0,308.7 498.2,305.2 498.5,306.1 498.7,303.4 499.0,310.7 499.2,303.9 499.5,308.1 499.7,306.6 499.9,306.5 500.2,304.0 500.4,306.2 500.7,306.5 500.9,307.1 501.2,305.7 501.4,306.8 501.6,304.4 501.9,308.7 502.1,305.1 502.4,313.5 502.6,305.7 502.9,305.1 503.1,306.8 503.3,306.1 503.6,308.6 503.8,308.8 504.1,305.2 504.3,305.1 504.6,305.0 504.8,307.4 505.1,308.4 505.3,307.8 505.5,306.2 505.8,306.6 506.0,307.8 506.3,309.0 506.5,306.4 506.8,308.9 507.0,305.9 507.2,306.9 507.5,308.8 507.7,304.8 508.0,303.1 508.2,304.3 508.5,306.3 508.7,304.5 508.9,306.3 509.2,309.3 509.4,305.8 509.7,309.2 509.9,308.3 510.2,304.4 510.4,308.5 510.6,308.3 510.9,308.5 511.1,307.0 511.4,307.1 511.6,305.5 511.9,304.8 512.1,306.5 512.4,308.0 512.6,305.4 512.8,309.9 513.1,305.7 513.3,307.3 513.6,304.0 513.8,309.7 514.1,308.1 514.3,309.3 514.5,304.3 514.8,309.6 515.0,307.7 515.3,305.5 515.5,305.9 515.8,303.8 516.0,306.4 516.2,308.5 516.5,305.1 516.7,307.5 517.0,304.4 517.2,301.5 517.5,306.4 517.7,309.7 517.9,309.1 518.2,305.4 518.4,309.3 518.7,308.8 518.9,307.5 519.2,306.0 519.4,308.7 519.7,306.5 519.9,305.9 520.1,308.8 520.4,305.3 520.6,308.0 520.9,309.6 521.1,305.3 521.4,307.0 521.6,307.7 521.8,303.2 522.1,305.7 522.3,305.5 522.6,305.6 522.8,304.9 523.1,309.2 523.3,304.8 523.5,306.4 523.8,307.8 524.0,309.7 524.3,303.4 524.5,304.0 524.8,304.5 525.0,305.9 525.2,308.4 525.5,306.3 525.7,306.8 526.0,309.6 526.2,305.9 526.5,306.9 526.7,310.5 527.0,308.1 527.2,305.3 527.4,305.2 527.7,308.7 527.9,304.2 528.2,304.7 528.4,308.1 528.7,309.1 528.9,309.8 529.1,304.4 529.4,307.4 529.6,299.7 529.9,304.6 530.1,312.1 530.4,309.3 530.6,307.6 530.8,304.2 531.1,303.5 531.3,308.1 531.6,305.4 531.8,303.9 532.1,306.7 532.3,306.3 532.5,303.1 532.8,303.2 533.0,307.9 533.3,300.9 533.5,304.1 533.8,299.8 534.0,298.5 534.3,297.1 534.5,297.8 534.7,296.7 535.0,297.0 535.2,292.7 535.5,293.8 535.7,290.7 536.0,289.3 536.2,291.2 536.4,290.3 536.7,286.0 536.9,289.4 537.2,285.7 537.4,287.8 537.7,294.0 537.9,294.4 538.1,292.6 538.4,295.4 538.6,298.0 538.9,300.2 539.1,301.4 539.4,297.6 539.6,300.1 539.8,301.4 540.1,297.2 540.3,301.3 540.6,304.3 540.8,303.6 541.1,303.3 541.3,302.6 541.6,304.1 541.8,305.5 542.0,305.1 542.3,308.2 542.5,307.7 542.8,303.6 543.0,308.1 543.3,306.4 543.5,307.9 543.7,305.1 544.0,308.3 544.2,305.1 544.5,308.6 544.7,306.5 545.0,306.1 545.2,304.0 545.4,303.4 545.7,308.4 545.9,304.5 546.2,304.4 546.4,307.5 546.7,306.8 546.9,307.9 547.1,304.2 547.4,302.6 547.6,305.0 547.9,308.8 548.1,306.8 548.4,307.7 548.6,307.9 548.9,307.2 549.1,307.2 549.3,306.5 549.6,307.3 549.8,307.6 550.1,305.6 550.3,308.1 550.6,306.9 550.8,306.8 551.0,306.6 551.3,308.7 551.5,306.7 551.8,309.4 552.0,305.0 552.3,308.1 552.5,303.9 552.7,307.1 553.0,306.0 553.2,306.1 553.5,305.0 553.7,307.0 554.0,308.1 554.2,303.4 554.4,306.8 554.7,307.4 554.9,308.3 555.2,307.8 555.4,304.9 555.7,309.0 555.9,305.3 556.2,308.1 556.4,307.5 556.6,305.9 556.9,305.3 557.1,306.7 557.4,310.0 557.6,308.4 557.9,306.0 558.1,308.6 558.3,310.4 558.6,311.4 558.8,303.7 559.1,308.6 559.3,308.8 559.6,305.5 559.8,303.4 560.0,309.7 560.3,306.2 560.5,303.9 560.8,305.0 561.0,308.6 561.3,311.5 561.5,309.0 561.7,305.5 562.0,309.7 562.2,303.5 562.5,309.2 562.7,309.1 563.0,310.8 563.2,309.2 563.5,309.5 563.7,307.5 563.9,306.6 564.2,307.3 564.4,311.1 564.7,306.1 564.9,307.2 565.2,306.4 565.4,308.6 565.6,308.3 565.9,311.4 566.1,311.7 566.4,309.6 566.6,309.1 566.9,307.1 567.1,304.4 567.3,307.7 567.6,307.4 567.8,305.1 568.1,307.8 568.3,309.3 568.6,305.6 568.8,309.1 569.0,308.2 569.3,306.3 569.5,307.6 569.8,308.9 570.0,307.0 570.3,307.3 570.5,310.0 570.8,308.5 571.0,308.5 571.2,306.4 571.5,308.8 571.7,310.4 572.0,305.5 572.2,304.1 572.5,305.8 572.7,307.2 572.9,305.4 573.2,304.0 573.4,310.7 573.7,306.6 573.9,305.8 574.2,301.7 574.4,309.3 574.6,304.3 574.9,310.1 575.1,308.6 575.4,307.9 575.6,307.0 575.9,309.4 576.1,306.3 576.3,308.2 576.6,306.5 576.8,306.8 577.1,310.6 577.3,309.7 577.6,305.6 577.8,305.7 578.1,307.6 578.3,307.2 578.5,308.5 578.8,306.7 579.0,305.4 579.3,309.2 579.5,307.0 579.8,308.9 580.0,305.7 580.2,310.5 580.5,308.1 580.7,308.0 581.0,308.3 581.2,304.3 581.5,308.9 581.7,306.5 581.9,305.3 582.2,308.3 582.4,311.0 582.7,306.1 582.9,310.7 583.2,303.1 583.4,308.2 583.6,306.3 583.9,308.1 584.1,311.9 584.4,308.9 584.6,304.5 584.9,310.5 585.1,305.4 585.4,306.4 585.6,305.7 585.8,307.8 586.1,307.3 586.3,310.9 586.6,308.3 586.8,309.0 587.1,307.3 587.3,309.9 587.5,305.5 587.8,304.7 588.0,309.4 588.3,309.1 588.5,307.7 588.8,312.2 589.0,305.8 589.2,310.5 589.5,310.8 589.7,305.1 590.0,308.8 590.2,309.3 590.5,307.4 590.7,307.4 590.9,307.6 591.2,305.9 591.4,304.9 591.7,309.3 591.9,308.2 592.2,307.8 592.4,308.8 592.7,306.1 592.9,306.4 593.1,309.4 593.4,307.7 593.6,308.7 593.9,309.9 594.1,311.3 594.4,305.9 594.6,306.6 594.8,304.8 595.1,306.3 595.3,308.8 595.6,306.7 595.8,312.2 596.1,306.9 596.3,304.1 596.5,305.9 596.8,312.0 597.0,305.9 597.3,307.6 597.5,306.1 597.8,305.5 598.0,310.1 598.2,305.4 598.5,304.1 598.7,306.3 599.0,306.4 599.2,308.7 599.5,308.0 599.7,310.3 600.0,307.4 600.2,308.7 600.4,308.8 600.7,309.9 600.9,305.3 601.2,307.1 601.4,302.3 601.7,306.2 601.9,305.3 602.1,306.0 602.4,310.9 602.6,309.9 602.9,304.8 603.1,311.4 603.4,310.4 603.6,308.2 603.8,307.6 604.1,307.5 604.3,307.7 604.6,309.1 604.8,307.3 605.1,309.8 605.3,307.2 605.5,306.4 605.8,307.5 606.0,308.5 606.3,308.7 606.5,307.8 606.8,304.8 607.0,305.1 607.3,304.4 607.5,307.3 607.7,309.2 608.0,307.9 608.2,307.7 608.5,306.9 608.7,307.1 609.0,306.5 609.2,310.0 609.4,305.4 609.7,306.1 609.9,308.8 610.2,307.1 610.4,309.2 610.7,306.9 610.9,308.7 611.1,308.3 611.4,305.3 611.6,309.0 611.9,310.4 612.1,306.6 612.4,307.6 612.6,309.2 612.8,311.0 613.1,308.6 613.3,312.6 613.6,307.1 613.8,311.8 614.1,306.5 614.3,307.9 614.6,306.1 614.8,309.9 615.0,309.2 615.3,304.5 615.5,302.7 615.8,312.3 616.0,307.4 616.3,304.6 616.5,306.2 616.7,307.0 617.0,311.1 617.2,308.9 617.5,308.1 617.7,306.1 618.0,309.3 618.2,304.5 618.4,310.2 618.7,309.9 618.9,307.0 619.2,305.0 619.4,306.7 619.7,307.7 619.9,312.0 620.1,311.4 620.4,306.7 620.6,306.5 620.9,305.3 621.1,308.8 621.4,306.9 621.6,309.4 621.9,308.1 622.1,306.9 622.3,306.0 622.6,304.8 622.8,309.2 623.1,305.4 623.3,309.4 623.6,304.7 623.8,302.9 624.0,308.0 624.3,306.8 624.5,309.9 624.8,308.0 625.0,307.9 625.3,309.8 625.5,306.7 625.7,309.3 626.0,313.0 626.2,308.5 626.5,306.2 626.7,308.0 627.0,306.5 627.2,307.4 627.4,311.4 627.7,306.1 627.9,305.6 628.2,309.1 628.4,307.3 628.7,307.8 628.9,306.8 629.2,308.6 629.4,311.0 629.6,309.4 629.9,307.3 630.1,307.4 630.4,306.3 630.6,306.4 630.9,310.0 631.1,309.2 631.3,309.1 631.6,309.1 631.8,306.9 632.1,308.1 632.3,309.2 632.6,311.4 632.8,308.7 633.0,308.3 633.3,306.6 633.5,310.2 633.8,307.7 634.0,308.7 634.3,309.0 634.5,306.6 634.7,308.8 635.0,310.4 635.2,306.4 635.5,307.2 635.7,306.6 636.0,308.4 636.2,312.4 636.5,308.9 636.7,310.7 636.9,308.7 637.2,307.4 637.4,308.3 637.7,308.7 637.9,307.8 638.2,308.1 638.4,308.4 638.6,307.0 638.9,311.3 639.1,309.1 639.4,308.0 639.6,307.1 639.9,309.0 640.1,306.7 640.3,305.8 640.6,307.5 640.8,310.7 641.1,307.8 641.3,308.6 641.6,306.3 641.8,309.3 642.0,307.2 642.3,307.1 642.5,306.7 642.8,308.0 643.0,306.2 643.3,307.4 643.5,307.9 643.8,306.3 644.0,304.4 644.2,309.1 644.5,305.8 644.7,304.4 645.0,308.3 645.2,308.1 645.5,310.4 645.7,310.8 645.9,303.9 646.2,307.1 646.4,308.8 646.7,305.6 646.9,310.5 647.2,308.9 647.4,306.9 647.6,307.2 647.9,308.9 648.1,312.4 648.4,312.1 648.6,305.4 648.9,309.5 649.1,305.4 649.3,308.0 649.6,306.3 649.8,307.7 650.1,307.4 650.3,309.0 650.6,306.8 650.8,309.7 651.1,308.0 651.3,306.5 651.5,311.2 651.8,308.9 652.0,307.9 652.3,308.5 652.5,309.7 652.8,308.0 653.0,307.1 653.2,308.0 653.5,307.2 653.7,307.2 654.0,311.5 654.2,309.8 654.5,310.9 654.7,307.3 654.9,304.8 655.2,307.5 655.4,309.3 655.7,307.3 655.9,308.7 656.2,306.4 656.4,309.3 656.6,307.4 656.9,308.3 657.1,309.6 657.4,306.9 657.6,306.2 657.9,306.7 658.1,309.5 658.4,307.6 658.6,310.4 658.8,309.4 659.1,310.5 659.3,308.7 659.6,310.7 659.8,309.8 660.1,304.5 660.3,311.1 660.5,310.0 660.8,307.5 661.0,305.9 661.3,304.7 661.5,308.6 661.8,306.6 662.0,306.0 662.2,306.4 662.5,305.1 662.7,310.2 663.0,306.6 663.2,308.3 663.5,308.7 663.7,309.1 663.9,308.0 664.2,310.0 664.4,307.2 664.7,312.6 664.9,305.2 665.2,309.7 665.4,312.7 665.7,306.4 665.9,311.2 666.1,312.4 666.4,307.5 666.6,311.4 666.9,307.2 667.1,309.0 667.4,307.9 667.6,306.4 667.8,306.2 668.1,307.2 668.3,305.4 668.6,308.7 668.8,308.6 669.1,310.6 669.3,309.2 669.5,308.0 669.8,307.7 670.0,313.3 670.3,305.3 670.5,305.7 670.8,312.8 671.0,310.5 671.2,308.7 671.5,309.4 671.7,310.4 672.0,305.4 672.2,307.8 672.5,309.8 672.7,309.7 673.0,310.6 673.2,308.9 673.4,307.7 673.7,307.2 673.9,309.6 674.2,308.4 674.4,309.3 674.7,311.2 674.9,310.9 675.1,305.9 675.4,310.7 675.6,306.5 675.9,305.1 676.1,312.6 676.4,309.0 676.6,307.2 676.8,307.6 677.1,310.2 677.3,312.4 677.6,311.0 677.8,307.9 678.1,306.1 678.3,308.1 678.5,310.4 678.8,309.4 679.0,305.7 679.3,308.6 679.5,309.5 679.8,306.4 680.0,310.0 680.3,311.2 680.5,310.1 680.7,306.5 681.0,307.6 681.2,308.0 681.5,307.4 681.7,309.8 682.0,308.2 682.2,308.0 682.4,308.6 682.7,307.0 682.9,305.1 683.2,307.9 683.4,306.9 683.7,308.8 683.9,307.8 684.1,306.6 684.4,309.1 684.6,306.8 684.9,304.1 685.1,309.5 685.4,308.4 685.6,305.8 685.8,302.4 686.1,303.2 686.3,306.8 686.6,304.4 686.8,303.4 687.1,304.6 687.3,302.2 687.6,301.9 687.8,304.9 688.0,303.0 688.3,303.1 688.5,302.3 688.8,302.8 689.0,302.0 689.3,298.4 689.5,299.2 689.7,302.6 690.0,299.5 690.2,302.4 690.5,298.2 690.7,296.1 691.0,299.0 691.2,298.0 691.4,297.8 691.7,297.9 691.9,295.6 692.2,301.1 692.4,300.1 692.7,298.9 692.9,298.0 693.1,302.9 693.4,302.1 693.6,303.8 693.9,303.7 694.1,304.9 694.4,303.7 694.6,301.3 694.9,304.9 695.1,306.7 695.3,302.5 695.6,304.7 695.8,308.7 696.1,303.7 696.3,309.1 696.6,304.8 696.8,303.6 697.0,306.0 697.3,305.9 697.5,309.1 697.8,303.3 698.0,305.6 698.3,305.8 698.5,305.6 698.7,307.9 699.0,306.7 699.2,307.8 699.5,307.4 699.7,310.0 700.0,306.7 700.2,308.0 700.4,309.7 700.7,309.1 700.9,308.1 701.2,309.8 701.4,309.0 701.7,309.1 701.9,308.4 702.2,310.2 702.4,310.4 702.6,307.2 702.9,309.5 703.1,309.3 703.4,309.8 703.6,307.1 703.9,306.2 704.1,308.1 704.3,310.7 704.6,306.6 704.8,310.5 705.1,308.7 705.3,309.0 705.6,309.0 705.8,308.0 706.0,308.2 706.3,309.9 706.5,311.7 706.8,309.0 707.0,309.5 707.3,307.1 707.5,308.5 707.7,310.8 708.0,310.9 708.2,308.2 708.5,308.6 708.7,307.9 709.0,307.1 709.2,309.7 709.5,307.9 709.7,311.7 709.9,304.4 710.2,305.2 710.4,306.2 710.7,308.7 710.9,308.3 711.2,307.1 711.4,302.3 711.6,309.0 711.9,305.4 712.1,311.4 712.4,308.9 712.6,307.2 712.9,308.1 713.1,311.8 713.3,307.9 713.6,306.4 713.8,303.5 714.1,308.3 714.3,307.1 714.6,310.9 714.8,308.9 715.0,310.7 715.3,307.8 715.5,306.9 715.8,310.5 716.0,308.3 716.3,307.2 716.5,308.4 716.8,310.6 717.0,307.4 717.2,312.5 717.5,309.7 717.7,306.3 718.0,306.5 718.2,308.6 718.5,308.0 718.7,307.9 718.9,308.4 719.2,309.2 719.4,308.2 719.7,307.6 719.9,304.9 720.2,311.9 720.4,308.9 720.6,309.8 720.9,309.1 721.1,311.2 721.4,308.8 721.6,311.2 721.9,307.6 722.1,308.2 722.3,309.8 722.6,309.9 722.8,311.1 723.1,307.6 723.3,309.6 723.6,307.7 723.8,305.9 724.1,310.7 724.3,308.6 724.5,306.8 724.8,307.2 725.0,309.7 725.3,308.7 725.5,308.5 725.8,310.0 726.0,308.6 726.2,305.2 726.5,310.3 726.7,307.7 727.0,308.0 727.2,303.9 727.5,302.3 727.7,308.8 727.9,307.8 728.2,308.7 728.4,309.2 728.7,310.5 728.9,311.3 729.2,311.1 729.4,306.7 729.6,307.1 729.9,308.9 730.1,311.5 730.4,310.9 730.6,307.7 730.9,306.4 731.1,309.3 731.4,308.3 731.6,310.1 731.8,310.3 732.1,309.4 732.3,307.0 732.6,306.3 732.8,308.2 733.1,309.7 733.3,308.6 733.5,310.1 733.8,307.9 734.0,310.9 734.3,309.4 734.5,308.1 734.8,307.3 735.0,308.5 735.2,308.9 735.5,311.8 735.7,308.9 736.0,310.0 736.2,304.7 736.5,310.7 736.7,308.6 736.9,306.9 737.2,304.2 737.4,307.0 737.7,311.9 737.9,310.3 738.2,310.2 738.4,307.7 738.7,309.9 738.9,309.9 739.1,309.3 739.4,306.8 739.6,307.4 739.9,308.0 740.1,314.6 740.4,304.7 740.6,311.8 740.8,311.3 741.1,309.0 741.3,310.1 741.6,309.2 741.8,309.6 742.1,307.3 742.3,304.5 742.5,313.7 742.8,311.8 743.0,305.6 743.3,310.5 743.5,307.4 743.8,309.1 744.0,306.1 744.2,306.0 744.5,311.7 744.7,307.0 745.0,307.7 745.2,309.2 745.5,310.6 745.7,306.6 746.0,308.7 746.2,308.8 746.4,306.0 746.7,305.9 746.9,308.1 747.2,306.5 747.4,309.7 747.7,302.8 747.9,307.2 748.1,305.6 748.4,302.9 748.6,305.2 748.9,302.3 749.1,304.2 749.4,306.8 749.6,302.9 749.8,305.2 750.1,304.3 750.3,302.4 750.6,302.5 750.8,303.1 751.1,303.0 751.3,301.1 751.5,301.4 751.8,302.9 752.0,299.1 752.3,298.5 752.5,301.1 752.8,301.2 753.0,295.4 753.3,300.0 753.5,302.4 753.7,301.1 754.0,298.6 754.2,300.0 754.5,296.0 754.7,300.5 755.0,299.9 755.2,301.1 755.4,299.2 755.7,301.0 755.9,299.0 756.2,302.2 756.4,301.2 756.7,297.0 756.9,297.6 757.1,302.2 757.4,303.4 757.6,304.4 757.9,301.2 758.1,302.9 758.4,302.2 758.6,301.9 758.8,303.0 759.1,306.3 759.3,303.3 759.6,308.0 759.8,302.2 760.1,304.4 760.3,306.4 760.6,306.7 760.8,306.1 761.0,302.8 761.3,305.8 761.5,309.4 761.8,308.1 762.0,308.0 762.3,308.0 762.5,307.1 762.7,307.4 763.0,306.5 763.2,310.4 763.5,308.7 763.7,308.7 764.0,308.4 764.2,307.7 764.4,305.4 764.7,308.3 764.9,307.0 765.2,307.3 765.4,308.9 765.7,311.1 765.9,306.5 766.1,308.6 766.4,311.8 766.6,306.2 766.9,309.8 767.1,307.9 767.4,310.2 767.6,311.9 767.9,308.7 768.1,310.8 768.3,309.5 768.6,312.6 768.8,302.1 769.1,307.0 769.3,308.6 769.6,309.0 769.8,312.1 770.0,311.0 770.3,308.0 770.5,305.8 770.8,310.9 771.0,309.1 771.3,307.9 771.5,310.0 771.7,311.7 772.0,308.6 772.2,310.5 772.5,303.8 772.7,308.7 773.0,311.3 773.2,308.5 773.4,304.4 773.7,302.7 773.9,305.1 774.2,301.9 774.4,301.9 774.7,298.7 774.9,299.5 775.2,301.8 775.4,298.5 775.6,297.8 775.9,296.4 776.1,298.4 776.4,299.2 776.6,298.7 776.9,293.0 777.1,299.0 777.3,297.6 777.6,299.8 777.8,298.5 778.1,303.7 778.3,306.0 778.6,304.8 778.8,307.2 779.0,304.9 779.3,304.5 779.5,301.6 779.8,304.9 780.0,305.8 780.3,310.3 780.5,305.6 780.7,308.0 781.0,309.4 781.2,308.5 781.5,308.5 781.7,310.8 782.0,307.1 782.2,309.0 782.5,309.5 782.7,312.3 782.9,311.9 783.2,310.4 783.4,311.0 783.7,305.1 783.9,310.0 784.2,308.3 784.4,306.3 784.6,310.7 784.9,308.6 785.1,308.1 785.4,306.0 785.6,309.8 785.9,311.9 786.1,309.8 786.3,311.0 786.6,311.5 786.8,309.5 787.1,308.8 787.3,308.3 787.6,308.9 787.8,308.5 788.0,309.7 788.3,308.6 788.5,311.8 788.8,307.8 789.0,312.8 789.3,308.7 789.5,308.7 789.8,311.0 790.0,308.2 790.2,305.9 790.5,311.3 790.7,312.5 791.0,305.8 791.2,310.7 791.5,308.6 791.7,309.2 791.9,312.8 792.2,307.0 792.4,308.7 792.7,312.2 792.9,310.2 793.2,310.6 793.4,308.4 793.6,308.1 793.9,308.2 794.1,310.2 794.4,308.9 794.6,310.6 794.9,315.0 795.1,306.2 795.3,310.3 795.6,309.6 795.8,307.7 796.1,310.1 796.3,308.0 796.6,307.1 796.8,309.8 797.1,312.9 797.3,309.4 797.5,310.6 797.8,308.5 798.0,308.3 798.3,306.9 798.5,309.8 798.8,310.7 799.0,306.3"/>
<polyline fill="none" stroke="#0b7f7f" stroke-width="2.80" stroke-linejoin="round" stroke-linecap="round" clip-path="url(#clipa)" points="69.0,214.8 69.2,211.6 69.5,210.4 69.7,207.8 70.0,212.7 70.2,215.7 70.5,213.3 70.7,214.2 70.9,215.2 71.2,211.5 71.4,218.2 71.7,211.5 71.9,213.8 72.2,218.3 72.4,212.8 72.6,213.2 72.9,212.0 73.1,213.6 73.4,208.9 73.6,211.7 73.9,216.1 74.1,213.2 74.4,212.3 74.6,213.5 74.8,213.5 75.1,213.0 75.3,213.8 75.6,209.5 75.8,213.7 76.1,211.3 76.3,214.1 76.5,212.5 76.8,210.6 77.0,212.3 77.3,210.5 77.5,214.3 77.8,212.3 78.0,214.0 78.2,210.2 78.5,215.4 78.7,211.7 79.0,214.8 79.2,213.8 79.5,210.1 79.7,212.8 79.9,211.1 80.2,212.9 80.4,214.8 80.7,213.3 80.9,214.0 81.2,209.7 81.4,212.3 81.7,212.5 81.9,213.8 82.1,210.5 82.4,212.6 82.6,212.3 82.9,208.5 83.1,209.4 83.4,212.1 83.6,208.9 83.8,208.8 84.1,212.7 84.3,211.5 84.6,210.4 84.8,211.0 85.1,209.9 85.3,209.6 85.5,209.7 85.8,211.2 86.0,212.9 86.3,209.4 86.5,210.1 86.8,209.8 87.0,207.7 87.2,210.5 87.5,211.6 87.7,208.3 88.0,211.4 88.2,208.6 88.5,211.8 88.7,211.9 89.0,208.7 89.2,205.6 89.4,208.6 89.7,206.6 89.9,206.7 90.2,208.6 90.4,211.6 90.7,208.7 90.9,208.4 91.1,205.2 91.4,207.5 91.6,206.0 91.9,209.5 92.1,207.5 92.4,208.3 92.6,208.2 92.8,207.8 93.1,209.9 93.3,208.9 93.6,207.2 93.8,208.0 94.1,208.7 94.3,210.2 94.5,207.7 94.8,210.1 95.0,206.1 95.3,206.7 95.5,204.2 95.8,208.5 96.0,204.9 96.3,204.8 96.5,208.3 96.7,205.5 97.0,205.0 97.2,208.2 97.5,205.9 97.7,207.9 98.0,205.3 98.2,207.3 98.4,207.9 98.7,205.9 98.9,209.1 99.2,204.8 99.4,205.0 99.7,205.5 99.9,207.2 100.1,204.6 100.4,204.2 100.6,205.4 100.9,207.4 101.1,204.3 101.4,202.7 101.6,204.9 101.8,206.4 102.1,204.3 102.3,205.6 102.6,201.9 102.8,205.5 103.1,205.7 103.3,206.8 103.6,206.3 103.8,207.2 104.0,203.9 104.3,207.1 104.5,202.8 104.8,204.8 105.0,208.1 105.3,207.7 105.5,202.6 105.7,207.3 106.0,205.4 106.2,204.9 106.5,206.8 106.7,206.7 107.0,209.4 107.2,204.4 107.4,206.6 107.7,207.5 107.9,204.6 108.2,210.7 108.4,212.1 108.7,207.9 108.9,210.2 109.1,209.3 109.4,210.6 109.6,209.2 109.9,212.4 110.1,208.9 110.4,214.0 110.6,212.2 110.9,216.1 111.1,208.4 111.3,211.4 111.6,209.2 111.8,211.4 112.1,212.5 112.3,210.0 112.6,209.0 112.8,208.5 113.0,212.3 113.3,214.3 113.5,214.1 113.8,212.0 114.0,210.2 114.3,211.3 114.5,209.2 114.7,209.1 115.0,214.2 115.2,211.6 115.5,212.8 115.7,211.7 116.0,214.8 116.2,215.0 116.4,210.9 116.7,211.7 116.9,211.1 117.2,215.0 117.4,214.9 117.7,212.0 117.9,216.9 118.2,212.7 118.4,210.3 118.6,208.8 118.9,212.4 119.1,213.4 119.4,211.7 119.6,213.5 119.9,215.1 120.1,212.8 120.3,214.5 120.6,216.1 120.8,213.9 121.1,211.9 121.3,213.9 121.6,214.1 121.8,217.2 122.0,212.4 122.3,210.3 122.5,213.8 122.8,213.9 123.0,212.5 123.3,214.4 123.5,214.0 123.7,215.7 124.0,211.9 124.2,212.1 124.5,213.5 124.7,212.6 125.0,216.0 125.2,214.7 125.5,213.5 125.7,216.5 125.9,214.6 126.2,215.5 126.4,215.2 126.7,213.4 126.9,213.4 127.2,213.7 127.4,211.7 127.6,213.1 127.9,215.4 128.1,214.4 128.4,212.0 128.6,218.3 128.9,211.9 129.1,215.1 129.3,215.3 129.6,216.3 129.8,212.3 130.1,214.0 130.3,213.6 130.6,216.2 130.8,214.8 131.0,214.8 131.3,215.1 131.5,217.8 131.8,215.4 132.0,215.8 132.3,212.4 132.5,215.5 132.8,211.9 133.0,216.1 133.2,214.6 133.5,212.6 133.7,212.2 134.0,214.2 134.2,214.6 134.5,213.3 134.7,213.8 134.9,213.9 135.2,213.5 135.4,214.2 135.7,215.1 135.9,217.0 136.2,215.8 136.4,213.5 136.6,217.7 136.9,216.9 137.1,214.2 137.4,216.7 137.6,213.7 137.9,213.3 138.1,213.4 138.3,217.9 138.6,215.1 138.8,215.5 139.1,215.0 139.3,214.2 139.6,215.9 139.8,216.3 140.1,218.7 140.3,213.4 140.5,218.0 140.8,216.3 141.0,211.8 141.3,217.0 141.5,218.2 141.8,217.2 142.0,215.7 142.2,215.5 142.5,211.4 142.7,215.8 143.0,215.6 143.2,213.4 143.5,215.6 143.7,214.0 143.9,219.5 144.2,212.9 144.4,213.5 144.7,211.1 144.9,214.4 145.2,215.4 145.4,215.2 145.6,214.0 145.9,216.8 146.1,215.6 146.4,217.4 146.6,215.0 146.9,211.8 147.1,214.9 147.4,213.3 147.6,216.7 147.8,214.0 148.1,214.7 148.3,215.1 148.6,212.3 148.8,214.4 149.1,216.8 149.3,214.0 149.5,214.8 149.8,215.3 150.0,213.5 150.3,213.9 150.5,214.8 150.8,212.6 151.0,212.7 151.2,211.6 151.5,209.4 151.7,208.7 152.0,215.1 152.2,214.5 152.5,212.4 152.7,215.1 152.9,216.1 153.2,216.3 153.4,214.1 153.7,212.3 153.9,212.7 154.2,214.7 154.4,217.7 154.7,218.2 154.9,214.8 155.1,214.6 155.4,217.5 155.6,219.1 155.9,213.5 156.1,216.1 156.4,215.5 156.6,214.6 156.8,214.7 157.1,214.6 157.3,215.3 157.6,212.4 157.8,215.3 158.1,216.8 158.3,216.7 158.5,216.8 158.8,215.9 159.0,215.7 159.3,219.0 159.5,215.0 159.8,215.6 160.0,217.7 160.2,215.4 160.5,212.9 160.7,214.3 161.0,214.5 161.2,215.1 161.5,214.5 161.7,217.2 162.0,216.7 162.2,216.3 162.4,214.6 162.7,217.3 162.9,217.3 163.2,219.6 163.4,214.3 163.7,215.2 163.9,218.0 164.1,213.4 164.4,215.9 164.6,215.9 164.9,215.6 165.1,213.7 165.4,215.5 165.6,212.7 165.8,217.7 166.1,214.6 166.3,215.8 166.6,215.4 166.8,215.8 167.1,215.7 167.3,216.3 167.5,214.8 167.8,215.5 168.0,213.4 168.3,213.5 168.5,213.8 168.8,213.5 169.0,212.8 169.3,214.2 169.5,216.6 169.7,216.1 170.0,214.5 170.2,215.8 170.5,215.9 170.7,220.2 171.0,212.0 171.2,215.4 171.4,212.3 171.7,217.0 171.9,214.0 172.2,215.1 172.4,214.4 172.7,215.1 172.9,208.0 173.1,211.1 173.4,213.1 173.6,210.1 173.9,213.3 174.1,214.3 174.4,209.2 174.6,210.5 174.8,212.1 175.1,214.1 175.3,212.3 175.6,211.5 175.8,208.3 176.1,209.9 176.3,210.0 176.6,208.5 176.8,210.5 177.0,209.1 177.3,209.0 177.5,214.0 177.8,209.9 178.0,214.0 178.3,210.0 178.5,210.9 178.7,209.0 179.0,210.6 179.2,215.0 179.5,212.4 179.7,208.9 180.0,215.7 180.2,211.6 180.4,212.8 180.7,213.8 180.9,210.6 181.2,217.3 181.4,217.0 181.7,214.1 181.9,215.6 182.1,214.5 182.4,214.1 182.6,214.8 182.9,212.7 183.1,214.7 183.4,214.4 183.6,219.2 183.9,212.8 184.1,218.0 184.3,217.0 184.6,216.0 184.8,214.6 185.1,219.1 185.3,218.5 185.6,215.7 185.8,215.4 186.0,216.1 186.3,219.2 186.5,214.1 186.8,215.9 187.0,217.9 187.3,213.2 187.5,215.6 187.7,217.9 188.0,215.0 188.2,215.6 188.5,212.9 188.7,216.5 189.0,213.6 189.2,215.1 189.4,216.5 189.7,214.8 189.9,217.5 190.2,217.2 190.4,216.8 190.7,217.7 190.9,215.5 191.2,211.8 191.4,217.5 191.6,217.3 191.9,215.0 192.1,214.3 192.4,218.1 192.6,215.0 192.9,215.2 193.1,215.0 193.3,220.3 193.6,214.5 193.8,211.0 194.1,215.6 194.3,213.9 194.6,212.5 194.8,216.0 195.0,214.8 195.3,217.4 195.5,215.1 195.8,218.0 196.0,217.6 196.3,215.8 196.5,217.2 196.7,219.2 197.0,217.0 197.2,213.0 197.5,215.9 197.7,216.1 198.0,218.1 198.2,215.5 198.5,217.9 198.7,215.5 198.9,215.8 199.2,215.3 199.4,215.8 199.7,215.5 199.9,216.4 200.2,214.3 200.4,213.8 200.6,215.6 200.9,216.1 201.1,215.0 201.4,216.5 201.6,216.4 201.9,219.0 202.1,213.0 202.3,219.5 202.6,211.4 202.8,212.4 203.1,216.2 203.3,213.9 203.6,215.1 203.8,214.9 204.0,213.2 204.3,213.1 204.5,215.0 204.8,216.4 205.0,216.8 205.3,216.0 205.5,215.1 205.8,217.9 206.0,211.6 206.2,215.8 206.5,218.1 206.7,218.7 207.0,218.0 207.2,218.3 207.5,217.7 207.7,216.0 207.9,211.5 208.2,214.8 208.4,215.3 208.7,218.8 208.9,215.0 209.2,215.1 209.4,217.1 209.6,214.0 209.9,215.9 210.1,216.9 210.4,215.2 210.6,215.7 210.9,212.5 211.1,213.5 211.3,215.4 211.6,218.0 211.8,214.8 212.1,214.1 212.3,214.4 212.6,217.1 212.8,213.2 213.1,216.2 213.3,215.2 213.5,216.0 213.8,214.5 214.0,216.1 214.3,218.5 214.5,215.4 214.8,215.0 215.0,211.1 215.2,216.8 215.5,214.7 215.7,216.6 216.0,216.1 216.2,214.4 216.5,214.7 216.7,213.4 216.9,219.7 217.2,217.7 217.4,217.5 217.7,218.2 217.9,218.6 218.2,217.5 218.4,217.8 218.6,220.4 218.9,212.3 219.1,215.6 219.4,213.6 219.6,214.3 219.9,208.8 220.1,210.9 220.4,213.7 220.6,209.3 220.8,212.3 221.1,209.6 221.3,211.0 221.6,208.8 221.8,211.1 222.1,210.1 222.3,214.7 222.5,211.0 222.8,215.5 223.0,214.3 223.3,215.4 223.5,218.6 223.8,215.6 224.0,215.0 224.2,216.2 224.5,217.6 224.7,215.2 225.0,219.5 225.2,216.6 225.5,215.6 225.7,215.1 225.9,216.1 226.2,217.4 226.4,218.4 226.7,216.5 226.9,215.3 227.2,216.3 227.4,212.4 227.7,218.5 227.9,218.0 228.1,216.1 228.4,217.8 228.6,214.6 228.9,219.9 229.1,216.3 229.4,215.8 229.6,220.6 229.8,214.9 230.1,217.6 230.3,215.3 230.6,215.9 230.8,216.4 231.1,215.8 231.3,219.7 231.5,219.0 231.8,215.9 232.0,221.5 232.3,216.9 232.5,216.6 232.8,217.7 233.0,215.0 233.2,219.5 233.5,215.2 233.7,214.6 234.0,218.9 234.2,215.2 234.5,216.4 234.7,214.6 235.0,216.0 235.2,217.0 235.4,212.3 235.7,216.7 235.9,215.3 236.2,219.4 236.4,220.6 236.7,217.7 236.9,217.8 237.1,218.7 237.4,218.7 237.6,213.9 237.9,214.0 238.1,215.4 238.4,213.4 238.6,215.0 238.8,215.2 239.1,212.9 239.3,214.4 239.6,215.4 239.8,212.0 240.1,212.0 240.3,210.6 240.5,210.4 240.8,209.7 241.0,209.0 241.3,212.9 241.5,214.7 241.8,213.4 242.0,214.4 242.3,212.3 242.5,215.0 242.7,216.4 243.0,215.9 243.2,216.3 243.5,214.4 243.7,213.9 244.0,215.9 244.2,219.1 244.4,215.6 244.7,213.5 244.9,215.1 245.2,215.9 245.4,218.6 245.7,218.3 245.9,214.8 246.1,214.4 246.4,215.8 246.6,216.2 246.9,214.4 247.1,218.0 247.4,215.4 247.6,216.7 247.8,215.8 248.1,217.2 248.3,216.0 248.6,216.6 248.8,218.5 249.1,216.6 249.3,218.8 249.6,213.7 249.8,215.7 250.0,214.1 250.3,213.4 250.5,216.0 250.8,219.6 251.0,216.5 251.3,217.9 251.5,212.4 251.7,216.4 252.0,213.8 252.2,216.3 252.5,217.8 252.7,215.0 253.0,217.9 253.2,214.3 253.4,216.0 253.7,214.6 253.9,215.9 254.2,215.4 254.4,211.5 254.7,215.0 254.9,214.7 255.1,218.7 255.4,210.9 255.6,215.7 255.9,217.0 256.1,219.0 256.4,217.9 256.6,215.3 256.9,218.1 257.1,215.1 257.3,215.0 257.6,214.6 257.8,214.5 258.1,218.1 258.3,212.1 258.6,212.2 258.8,216.8 259.0,215.9 259.3,216.6 259.5,214.4 259.8,216.1 260.0,214.4 260.3,213.8 260.5,213.9 260.7,214.9 261.0,214.7 261.2,213.8 261.5,217.4 261.7,215.2 262.0,213.7 262.2,211.8 262.4,214.0 262.7,211.0 262.9,212.3 263.2,211.7 263.4,212.1 263.7,214.0 263.9,207.5 264.2,216.2 264.4,214.1 264.6,212.4 264.9,211.9 265.1,214.3 265.4,212.5 265.6,215.9 265.9,212.1 266.1,210.5 266.3,209.3 266.6,211.6 266.8,213.4 267.1,208.8 267.3,213.1 267.6,211.9 267.8,209.3 268.0,211.7 268.3,205.4 268.5,203.8 268.8,207.5 269.0,206.7 269.3,205.5 269.5,203.3 269.7,199.0 270.0,200.9 270.2,197.1 270.5,197.0 270.7,192.9 271.0,187.2 271.2,187.0 271.5,183.3 271.7,178.9 271.9,171.1 272.2,165.1 272.4,162.6 272.7,154.5 272.9,147.4 273.2,142.0 273.4,134.1 273.6,124.6 273.9,114.4 274.1,108.4 274.4,94.1 274.6,86.4 274.9,77.2 275.1,64.1 275.3,55.6 275.6,49.1 275.8,38.1 276.1,27.6 276.3,24.8 276.6,14.8 276.8,8.4 277.0,6.4 277.3,-3.9 277.5,-4.8 277.8,-6.9 278.0,-2.7 278.3,-5.3 278.5,3.4 278.8,3.9 279.0,8.8 279.2,16.3 279.5,21.3 279.7,28.0 280.0,37.2 280.2,47.5 280.5,55.2 280.7,67.0 280.9,75.4 281.2,86.0 281.4,96.0 281.7,108.7 281.9,119.3 282.2,127.3 282.4,132.1 282.6,139.1 282.9,150.0 283.1,157.5 283.4,163.3 283.6,166.3 283.9,173.5 284.1,177.4 284.3,184.3 284.6,188.1 284.8,190.3 285.1,192.3 285.3,199.2 285.6,198.7 285.8,202.0 286.1,203.4 286.3,205.5 286.5,207.6 286.8,205.9 287.0,206.8 287.3,209.7 287.5,203.2 287.8,209.8 288.0,209.6 288.2,212.4 288.5,212.1 288.7,211.4 289.0,209.9 289.2,212.1 289.5,212.1 289.7,213.0 289.9,213.5 290.2,211.9 290.4,214.4 290.7,212.6 290.9,214.5 291.2,214.4 291.4,216.3 291.6,214.1 291.9,217.2 292.1,213.6 292.4,212.7 292.6,215.7 292.9,212.2 293.1,215.3 293.4,215.5 293.6,215.1 293.8,215.6 294.1,215.3 294.3,217.4 294.6,214.8 294.8,211.4 295.1,214.5 295.3,216.8 295.5,217.2 295.8,216.7 296.0,215.5 296.3,213.7 296.5,218.5 296.8,214.5 297.0,213.5 297.2,211.0 297.5,219.3 297.7,215.7 298.0,212.2 298.2,217.4 298.5,217.1 298.7,212.7 298.9,217.3 299.2,215.9 299.4,217.2 299.7,218.5 299.9,215.2 300.2,220.1 300.4,215.8 300.7,214.9 300.9,218.3 301.1,214.8 301.4,215.5 301.6,217.7 301.9,214.5 302.1,213.6 302.4,216.7 302.6,216.1 302.8,215.1 303.1,217.9 303.3,213.9 303.6,217.6 303.8,214.1 304.1,217.1 304.3,213.9 304.5,217.4 304.8,216.1 305.0,215.4 305.3,216.3 305.5,215.9 305.8,217.8 306.0,214.9 306.2,217.0 306.5,215.6 306.7,215.0 307.0,215.2 307.2,214.1 307.5,216.8 307.7,216.4 308.0,216.9 308.2,213.2 308.4,215.4 308.7,219.0 308.9,218.5 309.2,216.0 309.4,216.3 309.7,216.6 309.9,218.3 310.1,219.1 310.4,216.9 310.6,216.8 310.9,216.3 311.1,217.0 311.4,219.7 311.6,215.1 311.8,217.6 312.1,214.2 312.3,214.4 312.6,213.2 312.8,215.3 313.1,219.2 313.3,219.5 313.5,217.9 313.8,216.3 314.0,218.4 314.3,214.4 314.5,213.7 314.8,214.7 315.0,216.0 315.3,212.9 315.5,214.8 315.7,219.5 316.0,215.9 316.2,215.6 316.5,215.1 316.7,217.6 317.0,217.5 317.2,216.4 317.4,215.9 317.7,212.2 317.9,213.4 318.2,215.4 318.4,215.1 318.7,215.6 318.9,215.2 319.1,219.5 319.4,218.2 319.6,214.0 319.9,217.5 320.1,216.8 320.4,216.0 320.6,215.5 320.8,216.7 321.1,219.5 321.3,215.0 321.6,215.6 321.8,215.7 322.1,212.8 322.3,215.9 322.6,214.3 322.8,216.4 323.0,216.6 323.3,219.2 323.5,215.4 323.8,215.3 324.0,217.2 324.3,219.5 324.5,216.1 324.7,216.7 325.0,216.8 325.2,216.6 325.5,214.7 325.7,214.2 326.0,214.3 326.2,214.9 326.4,216.1 326.7,213.9 326.9,214.0 327.2,215.4 327.4,215.1 327.7,215.5 327.9,212.9 328.1,218.7 328.4,214.8 328.6,214.6 328.9,213.5 329.1,215.8 329.4,216.8 329.6,214.8 329.9,214.6 330.1,214.3 330.3,218.8 330.6,215.7 330.8,213.7 331.1,214.7 331.3,216.3 331.6,214.6 331.8,214.8 332.0,214.4 332.3,213.7 332.5,215.0 332.8,216.8 333.0,214.6 333.3,213.1 333.5,212.0 333.7,213.2 334.0,212.2 334.2,211.5 334.5,214.2 334.7,213.4 335.0,214.7 335.2,213.4 335.4,211.6 335.7,213.9 335.9,212.7 336.2,214.4 336.4,209.8 336.7,210.7 336.9,211.3 337.2,213.8 337.4,211.5 337.6,208.3 337.9,208.5 338.1,210.8 338.4,206.7 338.6,208.0 338.9,208.6 339.1,207.8 339.3,208.6 339.6,209.2 339.8,207.7 340.1,204.4 340.3,208.7 340.6,207.7 340.8,203.7 341.0,204.0 341.3,201.5 341.5,205.8 341.8,201.7 342.0,202.5 342.3,201.8 342.5,202.3 342.7,199.2 343.0,197.3 343.2,197.8 343.5,197.2 343.7,192.9 344.0,192.1 344.2,187.6 344.5,190.7 344.7,184.4 344.9,184.5 345.2,180.8 345.4,176.5 345.7,172.0 345.9,163.0 346.2,157.9 346.4,148.1 346.6,139.4 346.9,126.9 347.1,119.2 347.4,99.8 347.6,83.5 347.9,60.2 348.1,41.9 348.3,13.0 348.6,-15.0 348.8,-45.4 349.1,-80.0 349.3,-114.9 349.6,-145.8 349.8,-183.5 350.0,-216.8 350.3,-245.7 350.5,-279.9 350.8,-301.1 351.0,-323.7 351.3,-338.6 351.5,-339.7 351.8,-334.5 352.0,-322.8 352.2,-306.0 352.5,-281.3 352.7,-247.8 353.0,-212.8 353.2,-178.3 353.5,-146.8 353.7,-111.5 353.9,-76.6 354.2,-42.7 354.4,-13.7 354.7,14.2 354.9,38.9 355.2,56.8 355.4,79.7 355.6,100.1 355.9,112.4 356.1,132.4 356.4,138.6 356.6,151.1 356.9,159.8 357.1,167.1 357.3,168.6 357.6,175.3 357.8,182.6 358.1,183.4 358.3,187.7 358.6,184.3 358.8,191.7 359.1,193.2 359.3,194.3 359.5,192.8 359.8,196.0 360.0,198.1 360.3,199.0 360.5,198.7 360.8,203.7 361.0,204.3 361.2,202.7 361.5,206.8 361.7,202.6 362.0,206.0 362.2,209.1 362.5,207.7 362.7,206.9 362.9,208.6 363.2,207.9 363.4,207.6 363.7,207.6 363.9,209.4 364.2,209.5 364.4,210.7 364.6,208.9 364.9,211.3 365.1,212.9 365.4,210.3 365.6,214.6 365.9,210.6 366.1,210.8 366.4,211.3 366.6,210.3 366.8,209.9 367.1,210.9 367.3,212.8 367.6,211.9 367.8,216.3 368.1,213.4 368.3,213.2 368.5,213.0 368.8,215.1 369.0,214.6 369.3,215.2 369.5,216.3 369.8,217.7 370.0,213.4 370.2,216.4 370.5,215.4 370.7,215.9 371.0,214.5 371.2,216.8 371.5,216.9 371.7,216.5 371.9,214.5 372.2,217.3 372.4,214.4 372.7,213.4 372.9,217.8 373.2,216.2 373.4,213.6 373.7,215.3 373.9,216.7 374.1,218.5 374.4,216.4 374.6,215.4 374.9,215.0 375.1,214.5 375.4,216.8 375.6,215.7 375.8,218.3 376.1,215.9 376.3,219.2 376.6,216.9 376.8,217.5 377.1,217.3 377.3,217.2 377.5,220.5 377.8,216.3 378.0,216.7 378.3,217.3 378.5,219.0 378.8,216.0 379.0,220.5 379.2,216.1 379.5,216.9 379.7,218.1 380.0,218.3 380.2,216.4 380.5,219.7 380.7,221.5 381.0,218.1 381.2,219.6 381.4,219.6 381.7,223.0 381.9,218.7 382.2,219.2 382.4,217.9 382.7,219.1 382.9,218.0 383.1,217.9 383.4,218.2 383.6,220.3 383.9,218.1 384.1,220.2 384.4,218.4 384.6,220.9 384.8,216.6 385.1,216.7 385.3,219.9 385.6,221.6 385.8,218.0 386.1,215.0 386.3,220.9 386.5,219.8 386.8,217.6 387.0,221.5 387.3,221.5 387.5,217.9 387.8,218.3 388.0,220.3 388.3,220.3 388.5,221.6 388.7,220.0 389.0,222.7 389.2,218.5 389.5,217.5 389.7,218.0 390.0,217.8 390.2,218.9 390.4,217.7 390.7,220.7 390.9,221.4 391.2,222.2 391.4,218.3 391.7,216.9 391.9,218.5 392.1,219.4 392.4,218.4 392.6,220.1 392.9,220.2 393.1,219.9 393.4,217.7 393.6,220.9 393.8,217.7 394.1,214.9 394.3,219.0 394.6,221.4 394.8,219.2 395.1,216.2 395.3,218.5 395.6,221.2 395.8,219.4 396.0,218.9 396.3,216.9 396.5,219.0 396.8,217.9 397.0,221.9 397.3,219.7 397.5,220.7 397.7,216.3 398.0,219.2 398.2,220.7 398.5,222.3 398.7,221.6 399.0,217.8 399.2,224.5 399.4,219.0 399.7,218.8 399.9,218.8 400.2,217.3 400.4,218.7 400.7,218.1 400.9,218.5 401.1,218.1 401.4,218.9 401.6,220.6 401.9,218.1 402.1,217.2 402.4,220.4 402.6,219.3 402.9,220.7 403.1,217.8 403.3,219.2 403.6,217.9 403.8,217.0 404.1,218.5 404.3,219.2 404.6,220.0 404.8,217.3 405.0,220.8 405.3,221.4 405.5,220.1 405.8,218.7 406.0,218.0 406.3,221.3 406.5,218.0 406.7,221.9 407.0,216.2 407.2,216.0 407.5,220.3 407.7,217.3 408.0,221.4 408.2,218.8 408.4,218.7 408.7,220.2 408.9,221.6 409.2,221.2 409.4,219.3 409.7,219.1 409.9,221.2 410.2,218.3 410.4,218.0 410.6,218.1 410.9,225.7 411.1,222.5 411.4,220.8 411.6,219.3 411.9,220.9 412.1,217.0 412.3,219.5 412.6,221.7 412.8,220.4 413.1,218.0 413.3,220.0 413.6,219.7 413.8,222.6 414.0,221.6 414.3,220.5 414.5,224.2 414.8,219.3 415.0,222.4 415.3,221.2 415.5,220.2 415.7,219.4 416.0,221.3 416.2,223.1 416.5,217.4 416.7,220.6 417.0,222.1 417.2,219.0 417.5,219.1 417.7,223.0 417.9,220.0 418.2,219.8 418.4,221.3 418.7,221.0 418.9,221.5 419.2,221.6 419.4,223.2 419.6,221.2 419.9,222.2 420.1,219.1 420.4,221.0 420.6,219.6 420.9,223.2 421.1,221.2 421.3,222.8 421.6,220.2 421.8,219.0 422.1,222.0 422.3,220.4 422.6,218.0 422.8,220.1 423.0,219.2 423.3,223.2 423.5,220.5 423.8,221.9 424.0,221.6 424.3,222.9 424.5,221.5 424.8,221.6 425.0,221.5 425.2,218.3 425.5,220.7 425.7,218.5 426.0,218.5 426.2,220.8 426.5,217.4 426.7,220.1 426.9,222.3 427.2,220.3 427.4,221.8 427.7,218.5 427.9,220.3 428.2,215.6 428.4,218.3 428.6,219.0 428.9,223.5 429.1,223.9 429.4,216.8 429.6,219.5 429.9,218.9 430.1,223.2 430.3,221.9 430.6,219.7 430.8,221.8 431.1,222.5 431.3,219.2 431.6,222.2 431.8,221.5 432.1,221.8 432.3,217.4 432.5,220.3 432.8,216.1 433.0,221.1 433.3,219.1 433.5,223.0 433.8,223.2 434.0,217.4 434.2,223.4 434.5,219.7 434.7,222.4 435.0,220.9 435.2,220.0 435.5,220.2 435.7,219.7 435.9,223.2 436.2,220.8 436.4,218.8 436.7,221.8 436.9,219.7 437.2,221.6 437.4,219.2 437.6,221.3 437.9,218.9 438.1,219.2 438.4,221.2 438.6,222.3 438.9,221.0 439.1,220.5 439.4,225.5 439.6,220.5 439.8,216.0 440.1,221.8 440.3,219.7 440.6,217.9 440.8,222.6 441.1,222.3 441.3,220.0 441.5,219.8 441.8,220.7 442.0,222.6 442.3,219.0 442.5,223.2 442.8,221.2 443.0,221.5 443.2,223.6 443.5,220.3 443.7,222.0 444.0,220.9 444.2,215.3 444.5,220.5 444.7,220.8 444.9,220.4 445.2,223.0 445.4,219.8 445.7,221.6 445.9,221.3 446.2,221.5 446.4,217.5 446.7,219.8 446.9,219.8 447.1,223.6 447.4,220.0 447.6,221.8 447.9,221.1 448.1,218.1 448.4,218.6 448.6,221.1 448.8,222.0 449.1,223.6 449.3,220.1 449.6,218.3 449.8,220.5 450.1,218.1 450.3,223.1 450.5,220.0 450.8,220.5 451.0,224.0 451.3,221.4 451.5,218.2 451.8,221.4 452.0,219.4 452.2,218.3 452.5,219.0 452.7,217.9 453.0,221.5 453.2,219.0 453.5,219.8 453.7,222.5 454.0,220.2 454.2,219.7 454.4,220.8 454.7,219.5 454.9,220.7 455.2,220.2 455.4,222.2 455.7,220.0 455.9,219.0 456.1,219.9 456.4,216.6 456.6,220.3 456.9,222.1 457.1,224.3 457.4,221.3 457.6,223.0 457.8,217.2 458.1,223.2 458.3,221.5 458.6,222.9 458.8,219.8 459.1,221.5 459.3,221.0 459.5,219.9 459.8,220.5 460.0,223.5 460.3,217.9 460.5,220.1 460.8,221.6 461.0,223.3 461.3,218.7 461.5,218.2 461.7,217.0 462.0,221.2 462.2,220.3 462.5,220.6 462.7,220.5 463.0,217.4 463.2,222.7 463.4,222.4 463.7,218.2 463.9,219.4 464.2,218.9 464.4,219.2 464.7,224.1 464.9,222.5 465.1,218.8 465.4,224.5 465.6,221.6 465.9,221.1 466.1,219.3 466.4,219.4 466.6,220.5 466.8,226.1 467.1,218.9 467.3,219.5 467.6,222.5 467.8,221.2 468.1,219.4 468.3,225.9 468.6,220.4 468.8,219.7 469.0,220.5 469.3,221.9 469.5,222.1 469.8,222.7 470.0,221.5 470.3,220.1 470.5,223.6 470.7,220.6 471.0,219.9 471.2,222.3 471.5,223.2 471.7,220.1 472.0,220.1 472.2,220.6 472.4,219.6 472.7,220.3 472.9,222.4 473.2,222.2 473.4,216.4 473.7,223.7 473.9,223.5 474.1,218.9 474.4,223.7 474.6,218.5 474.9,223.7 475.1,220.0 475.4,222.0 475.6,221.4 475.9,222.2 476.1,218.6 476.3,223.9 476.6,222.5 476.8,221.4 477.1,223.4 477.3,221.0 477.6,224.9 477.8,223.7 478.0,224.9 478.3,219.7 478.5,221.5 478.8,217.7 479.0,221.5 479.3,219.6 479.5,219.5 479.7,222.7 480.0,220.8 480.2,223.0 480.5,218.9 480.7,219.5 481.0,221.5 481.2,216.7 481.4,218.9 481.7,220.8 481.9,217.2 482.2,221.5 482.4,218.8 482.7,222.2 482.9,219.4 483.2,223.5 483.4,217.5 483.6,223.0 483.9,217.9 484.1,223.3 484.4,220.7 484.6,217.2 484.9,221.9 485.1,219.7 485.3,220.5 485.6,220.7 485.8,222.4 486.1,220.1 486.3,222.0 486.6,218.9 486.8,219.8 487.0,221.8 487.3,223.3 487.5,221.0 487.8,220.4 488.0,221.8 488.3,222.0 488.5,219.3 488.7,226.6 489.0,220.2 489.2,218.6 489.5,221.0 489.7,221.8 490.0,220.9 490.2,219.9 490.5,220.9 490.7,222.0 490.9,219.8 491.2,219.4 491.4,221.3 491.7,221.3 491.9,218.9 492.2,225.6 492.4,222.9 492.6,224.2 492.9,223.1 493.1,218.4 493.4,225.0 493.6,218.0 493.9,219.3 494.1,221.6 494.3,219.9 494.6,222.5 494.8,222.8 495.1,221.0 495.3,224.4 495.6,218.3 495.8,222.2 496.0,222.6 496.3,224.8 496.5,222.9 496.8,218.2 497.0,222.3 497.3,220.5 497.5,221.5 497.8,222.2 498.0,223.5 498.2,220.4 498.5,222.2 498.7,223.3 499.0,222.9 499.2,222.9 499.5,218.4 499.7,222.1 499.9,223.3 500.2,220.5 500.4,222.1 500.7,220.5 500.9,222.5 501.2,221.8 501.4,219.6 501.6,222.3 501.9,222.1 502.1,218.8 502.4,220.8 502.6,220.6 502.9,218.8 503.1,223.2 503.3,219.8 503.6,221.3 503.8,217.2 504.1,220.8 504.3,218.6 504.6,221.8 504.8,220.6 505.1,222.9 505.3,224.2 505.5,217.8 505.8,221.3 506.0,220.8 506.3,220.0 506.5,219.5 506.8,220.9 507.0,222.1 507.2,222.3 507.5,223.1 507.7,221.1 508.0,223.1 508.2,222.5 508.5,223.2 508.7,223.1 508.9,222.5 509.2,223.0 509.4,220.0 509.7,217.5 509.9,218.9 510.2,222.1 510.4,221.3 510.6,220.3 510.9,223.7 511.1,222.7 511.4,224.3 511.6,219.2 511.9,220.4 512.1,222.1 512.4,223.0 512.6,224.0 512.8,222.0 513.1,224.2 513.3,223.7 513.6,221.7 513.8,224.0 514.1,222.2 514.3,222.3 514.5,219.4 514.8,219.8 515.0,220.0 515.3,221.9 515.5,219.2 515.8,217.9 516.0,220.9 516.2,226.1 516.5,221.4 516.7,219.3 517.0,220.5 517.2,222.2 517.5,223.2 517.7,222.0 517.9,224.6 518.2,222.8 518.4,219.4 518.7,223.4 518.9,220.1 519.2,223.5 519.4,221.7 519.7,217.4 519.9,217.6 520.1,220.9 520.4,221.6 520.6,223.4 520.9,222.4 521.1,224.1 521.4,222.7 521.6,221.4 521.8,219.3 522.1,224.0 522.3,223.3 522.6,223.2 522.8,219.8 523.1,223.3 523.3,217.7 523.5,222.3 523.8,221.2 524.0,221.2 524.3,215.6 524.5,225.0 524.8,219.0 525.0,219.6 525.2,220.3 525.5,219.9 525.7,217.4 526.0,222.4 526.2,220.6 526.5,221.4 526.7,218.1 527.0,221.7 527.2,221.1 527.4,223.8 527.7,219.8 527.9,217.2 528.2,221.2 528.4,221.8 528.7,223.3 528.9,222.6 529.1,219.5 529.4,221.3 529.6,219.0 529.9,222.2 530.1,226.4 530.4,219.1 530.6,218.3 530.8,218.4 531.1,220.4 531.3,221.9 531.6,220.5 531.8,217.4 532.1,221.3 532.3,222.1 532.5,223.6 532.8,221.8 533.0,217.7 533.3,222.6 533.5,220.1 533.8,218.0 534.0,220.5 534.3,221.0 534.5,221.3 534.7,219.1 535.0,219.8 535.2,220.7 535.5,221.4 535.7,221.6 536.0,218.2 536.2,222.7 536.4,218.1 536.7,221.4 536.9,220.7 537.2,215.3 537.4,219.1 537.7,220.5 537.9,221.3 538.1,220.3 538.4,221.6 538.6,220.5 538.9,220.2 539.1,222.4 539.4,228.1 539.6,220.0 539.8,220.2 540.1,221.8 540.3,219.4 540.6,222.5 540.8,220.8 541.1,224.4 541.3,218.8 541.6,221.1 541.8,219.0 542.0,221.7 542.3,219.5 542.5,218.5 542.8,219.1 543.0,219.6 543.3,221.1 543.5,219.0 543.7,222.1 544.0,220.4 544.2,220.5 544.5,220.2 544.7,220.9 545.0,224.2 545.2,219.1 545.4,220.9 545.7,221.3 545.9,221.8 546.2,219.9 546.4,216.5 546.7,222.2 546.9,222.2 547.1,222.7 547.4,222.0 547.6,218.9 547.9,223.6 548.1,220.4 548.4,221.9 548.6,225.0 548.9,223.4 549.1,219.5 549.3,221.3 549.6,223.9 549.8,222.9 550.1,220.9 550.3,218.5 550.6,219.4 550.8,220.4 551.0,221.4 551.3,223.5 551.5,223.2 551.8,217.7 552.0,220.1 552.3,219.2 552.5,219.6 552.7,222.0 553.0,220.8 553.2,218.8 553.5,223.8 553.7,219.5 554.0,218.8 554.2,219.9 554.4,224.4 554.7,222.3 554.9,219.6 555.2,221.4 555.4,219.1 555.7,222.7 555.9,221.6 556.2,216.4 556.4,221.2 556.6,223.1 556.9,218.1 557.1,220.9 557.4,219.9 557.6,221.7 557.9,218.0 558.1,222.5 558.3,220.3 558.6,223.5 558.8,222.3 559.1,220.2 559.3,218.6 559.6,219.6 559.8,223.4 560.0,222.7 560.3,221.5 560.5,221.7 560.8,220.6 561.0,219.6 561.3,220.2 561.5,220.1 561.7,219.3 562.0,221.2 562.2,224.8 562.5,217.1 562.7,221.8 563.0,220.7 563.2,218.4 563.5,221.3 563.7,224.9 563.9,217.9 564.2,220.9 564.4,218.3 564.7,222.7 564.9,221.6 565.2,220.8 565.4,220.2 565.6,222.3 565.9,222.5 566.1,218.6 566.4,217.5 566.6,220.1 566.9,222.2 567.1,220.1 567.3,223.7 567.6,220.5 567.8,219.6 568.1,221.1 568.3,217.9 568.6,218.6 568.8,219.6 569.0,219.1 569.3,223.5 569.5,222.2 569.8,220.8 570.0,219.5 570.3,222.3 570.5,222.5 570.8,219.6 571.0,217.4 571.2,220.8 571.5,219.6 571.7,219.1 572.0,219.9 572.2,221.7 572.5,219.4 572.7,219.5 572.9,218.7 573.2,218.2 573.4,217.7 573.7,220.8 573.9,219.6 574.2,218.6 574.4,218.8 574.6,220.0 574.9,220.4 575.1,219.3 575.4,219.4 575.6,219.9 575.9,217.4 576.1,216.0 576.3,222.7 576.6,219.8 576.8,221.3 577.1,216.6 577.3,218.7 577.6,221.0 577.8,221.2 578.1,218.8 578.3,220.0 578.5,218.2 578.8,215.8 579.0,215.2 579.3,214.4 579.5,215.8 579.8,218.9 580.0,216.0 580.2,220.1 580.5,218.3 580.7,217.5 581.0,213.9 581.2,215.1 581.5,216.5 581.7,213.0 581.9,215.9 582.2,215.9 582.4,214.2 582.7,209.9 582.9,212.4 583.2,208.7 583.4,212.9 583.6,207.8 583.9,206.6 584.1,206.2 584.4,203.3 584.6,203.9 584.9,200.5 585.1,200.7 585.4,191.2 585.6,190.5 585.8,187.1 586.1,181.6 586.3,174.5 586.6,169.0 586.8,166.1 587.1,157.4 587.3,148.2 587.5,141.8 587.8,136.9 588.0,129.5 588.3,120.2 588.5,113.6 588.8,104.6 589.0,97.5 589.2,87.8 589.5,83.0 589.7,81.2 590.0,77.0 590.2,75.9 590.5,76.7 590.7,71.8 590.9,80.9 591.2,85.8 591.4,90.5 591.7,97.6 591.9,102.2 592.2,113.5 592.4,121.4 592.7,129.0 592.9,138.0 593.1,147.2 593.4,152.2 593.6,158.0 593.9,165.6 594.1,174.0 594.4,178.5 594.6,181.9 594.8,186.5 595.1,191.2 595.3,191.9 595.6,195.5 595.8,200.8 596.1,203.0 596.3,203.5 596.5,205.9 596.8,207.0 597.0,211.3 597.3,209.5 597.5,211.2 597.8,211.3 598.0,210.3 598.2,208.9 598.5,212.2 598.7,219.0 599.0,213.4 599.2,215.9 599.5,215.5 599.7,218.3 600.0,214.7 600.2,213.5 600.4,212.2 600.7,219.2 600.9,218.2 601.2,212.6 601.4,217.6 601.7,215.8 601.9,217.4 602.1,216.3 602.4,218.3 602.6,221.1 602.9,218.7 603.1,219.0 603.4,219.0 603.6,218.1 603.8,218.1 604.1,220.5 604.3,221.7 604.6,220.2 604.8,219.1 605.1,220.4 605.3,220.9 605.5,219.6 605.8,217.9 606.0,220.8 606.3,217.0 606.5,220.6 606.8,217.9 607.0,217.8 607.3,219.3 607.5,218.1 607.7,219.7 608.0,220.3 608.2,219.5 608.5,220.6 608.7,222.3 609.0,220.1 609.2,219.4 609.4,220.8 609.7,220.8 609.9,217.5 610.2,219.9 610.4,218.2 610.7,222.8 610.9,218.3 611.1,219.2 611.4,220.5 611.6,215.9 611.9,216.7 612.1,219.2 612.4,219.8 612.6,217.6 612.8,220.3 613.1,221.2 613.3,221.2 613.6,223.2 613.8,221.6 614.1,220.0 614.3,222.9 614.6,222.6 614.8,220.0 615.0,219.2 615.3,221.6 615.5,221.6 615.8,223.6 616.0,221.4 616.3,222.9 616.5,223.3 616.7,221.6 617.0,222.5 617.2,218.5 617.5,219.4 617.7,221.2 618.0,220.5 618.2,220.8 618.4,221.5 618.7,218.7 618.9,223.4 619.2,222.0 619.4,222.7 619.7,217.6 619.9,219.2 620.1,217.9 620.4,219.0 620.6,221.4 620.9,221.6 621.1,223.0 621.4,219.6 621.6,222.8 621.9,219.5 622.1,222.1 622.3,223.0 622.6,219.1 622.8,220.4 623.1,222.1 623.3,222.3 623.6,218.9 623.8,218.1 624.0,218.7 624.3,222.1 624.5,222.4 624.8,221.6 625.0,222.6 625.3,222.6 625.5,221.7 625.7,223.8 626.0,217.5 626.2,218.6 626.5,218.9 626.7,221.7 627.0,217.3 627.2,224.5 627.4,224.1 627.7,224.2 627.9,217.8 628.2,222.2 628.4,221.4 628.7,223.8 628.9,220.9 629.2,221.7 629.4,218.6 629.6,223.0 629.9,224.3 630.1,221.5 630.4,217.1 630.6,220.0 630.9,219.0 631.1,221.9 631.3,220.7 631.6,222.6 631.8,222.3 632.1,222.2 632.3,223.6 632.6,219.4 632.8,223.7 633.0,220.7 633.3,219.7 633.5,223.2 633.8,222.6 634.0,223.6 634.3,224.1 634.5,221.0 634.7,223.3 635.0,219.2 635.2,221.9 635.5,221.0 635.7,219.9 636.0,218.6 636.2,222.3 636.5,218.3 636.7,220.5 636.9,224.8 637.2,224.7 637.4,222.6 637.7,221.0 637.9,224.8 638.2,221.3 638.4,222.1 638.6,222.9 638.9,219.6 639.1,218.4 639.4,217.8 639.6,218.7 639.9,219.2 640.1,220.7 640.3,222.9 640.6,220.9 640.8,220.1 641.1,222.7 641.3,219.5 641.6,223.7 641.8,222.4 642.0,224.3 642.3,222.5 642.5,222.0 642.8,222.7 643.0,222.6 643.3,223.0 643.5,222.2 643.8,223.5 644.0,220.3 644.2,224.2 644.5,220.9 644.7,225.9 645.0,220.3 645.2,221.8 645.5,226.0 645.7,223.9 645.9,220.2 646.2,223.9 646.4,221.8 646.7,219.9 646.9,225.0 647.2,222.3 647.4,226.0 647.6,221.7 647.9,222.3 648.1,224.2 648.4,220.7 648.6,222.0 648.9,218.3 649.1,223.8 649.3,224.7 649.6,224.1 649.8,222.3 650.1,219.7 650.3,225.0 650.6,220.9 650.8,221.8 651.1,225.1 651.3,223.4 651.5,223.5 651.8,226.3 652.0,221.5 652.3,223.9 652.5,219.8 652.8,221.6 653.0,221.7 653.2,222.2 653.5,222.1 653.7,218.7 654.0,220.2 654.2,223.1 654.5,219.3 654.7,223.9 654.9,224.5 655.2,218.9 655.4,219.1 655.7,225.4 655.9,223.7 656.2,220.5 656.4,220.6 656.6,221.0 656.9,222.4 657.1,219.4 657.4,224.5 657.6,220.1 657.9,220.6 658.1,222.2 658.4,223.6 658.6,221.8 658.8,222.3 659.1,224.9 659.3,222.0 659.6,221.8 659.8,223.8 660.1,223.1 660.3,221.8 660.5,220.9 660.8,223.1 661.0,223.1 661.3,223.5 661.5,220.9 661.8,219.0 662.0,219.6 662.2,226.4 662.5,221.1 662.7,220.7 663.0,221.1 663.2,219.3 663.5,220.0 663.7,223.3 663.9,223.8 664.2,220.1 664.4,221.6 664.7,221.3 664.9,222.5 665.2,221.2 665.4,221.2 665.7,220.9 665.9,220.8 666.1,219.8 666.4,222.4 666.6,223.1 666.9,218.9 667.1,223.0 667.4,220.3 667.6,223.4 667.8,222.6 668.1,217.0 668.3,218.4 668.6,221.9 668.8,222.5 669.1,222.0 669.3,220.2 669.5,222.4 669.8,217.3 670.0,223.5 670.3,222.5 670.5,220.9 670.8,223.2 671.0,219.2 671.2,222.7 671.5,222.9 671.7,221.5 672.0,222.9 672.2,221.0 672.5,225.3 672.7,217.4 673.0,221.6 673.2,222.7 673.4,223.6 673.7,225.0 673.9,221.8 674.2,220.6 674.4,222.2 674.7,221.0 674.9,222.1 675.1,220.8 675.4,218.5 675.6,224.2 675.9,219.8 676.1,223.2 676.4,223.7 676.6,221.4 676.8,224.1 677.1,219.5 677.3,220.5 677.6,222.1 677.8,223.8 678.1,220.4 678.3,219.9 678.5,222.7 678.8,223.1 679.0,219.6 679.3,223.8 679.5,225.2 679.8,223.3 680.0,223.7 680.3,224.5 680.5,220.4 680.7,223.0 681.0,220.6 681.2,222.4 681.5,222.1 681.7,221.2 682.0,219.4 682.2,219.8 682.4,218.5 682.7,219.8 682.9,220.3 683.2,223.7 683.4,222.8 683.7,222.6 683.9,219.9 684.1,220.1 684.4,221.2 684.6,223.5 684.9,218.6 685.1,219.8 685.4,222.4 685.6,221.1 685.8,223.6 686.1,222.5 686.3,220.3 686.6,220.5 686.8,220.5 687.1,221.0 687.3,223.5 687.6,221.1 687.8,220.9 688.0,223.7 688.3,222.2 688.5,225.1 688.8,222.7 689.0,220.7 689.3,223.6 689.5,221.3 689.7,222.6 690.0,222.5 690.2,224.6 690.5,224.5 690.7,222.0 691.0,222.4 691.2,220.4 691.4,220.4 691.7,222.2 691.9,222.3 692.2,219.7 692.4,222.4 692.7,220.9 692.9,223.5 693.1,219.5 693.4,223.3 693.6,221.6 693.9,219.9 694.1,221.8 694.4,220.8 694.6,218.9 694.9,218.9 695.1,223.3 695.3,221.3 695.6,223.2 695.8,224.6 696.1,221.0 696.3,220.8 696.6,218.6 696.8,222.0 697.0,219.7 697.3,218.9 697.5,221.3 697.8,223.1 698.0,222.0 698.3,218.4 698.5,225.6 698.7,223.8 699.0,222.3 699.2,223.9 699.5,221.0 699.7,222.5 700.0,223.4 700.2,221.7 700.4,224.3 700.7,220.5 700.9,222.2 701.2,221.9 701.4,219.2 701.7,219.7 701.9,219.1 702.2,224.3 702.4,221.9 702.6,218.9 702.9,220.6 703.1,219.6 703.4,224.1 703.6,218.8 703.9,224.0 704.1,220.5 704.3,222.3 704.6,220.2 704.8,217.4 705.1,223.4 705.3,222.7 705.6,222.4 705.8,222.5 706.0,223.6 706.3,219.4 706.5,220.3 706.8,222.1 707.0,219.3 707.3,220.1 707.5,219.1 707.7,223.1 708.0,219.6 708.2,223.0 708.5,222.3 708.7,222.1 709.0,220.5 709.2,222.7 709.5,218.5 709.7,222.8 709.9,218.1 710.2,222.8 710.4,221.2 710.7,220.8 710.9,222.4 711.2,221.9 711.4,220.9 711.6,221.4 711.9,217.5 712.1,222.5 712.4,219.8 712.6,222.6 712.9,220.9 713.1,223.0 713.3,219.7 713.6,219.7 713.8,221.9 714.1,220.8 714.3,219.4 714.6,221.8 714.8,219.0 715.0,219.4 715.3,221.3 715.5,220.7 715.8,220.7 716.0,221.3 716.3,219.0 716.5,221.3 716.8,220.8 717.0,221.0 717.2,220.4 717.5,217.5 717.7,222.8 718.0,217.4 718.2,219.9 718.5,221.2 718.7,224.0 718.9,218.4 719.2,221.4 719.4,221.0 719.7,221.4 719.9,219.1 720.2,222.3 720.4,219.4 720.6,219.8 720.9,220.2 721.1,221.5 721.4,219.2 721.6,220.7 721.9,220.5 722.1,220.0 722.3,218.0 722.6,220.6 722.8,221.3 723.1,220.8 723.3,222.6 723.6,220.4 723.8,222.5 724.1,221.1 724.3,221.1 724.5,223.0 724.8,220.6 725.0,219.3 725.3,222.2 725.5,221.3 725.8,218.7 726.0,219.0 726.2,221.2 726.5,222.0 726.7,219.8 727.0,221.9 727.2,219.5 727.5,222.6 727.7,216.2 727.9,221.7 728.2,221.6 728.4,220.6 728.7,217.9 728.9,219.9 729.2,217.5 729.4,221.9 729.6,216.7 729.9,220.2 730.1,218.3 730.4,216.0 730.6,219.9 730.9,223.2 731.1,222.1 731.4,218.5 731.6,219.8 731.8,220.3 732.1,222.1 732.3,219.6 732.6,222.4 732.8,219.2 733.1,219.9 733.3,219.2 733.5,218.8 733.8,219.3 734.0,218.5 734.3,222.6 734.5,214.9 734.8,221.5 735.0,219.7 735.2,218.2 735.5,219.6 735.7,219.1 736.0,214.8 736.2,213.0 736.5,219.9 736.7,215.9 736.9,214.2 737.2,217.4 737.4,210.8 737.7,209.0 737.9,210.9 738.2,207.8 738.4,205.4 738.7,202.8 738.9,202.7 739.1,198.3 739.4,201.2 739.6,194.3 739.9,193.1 740.1,191.7 740.4,187.9 740.6,191.5 740.8,184.8 741.1,185.9 741.3,180.5 741.6,186.6 741.8,181.1 742.1,181.0 742.3,178.5 742.5,179.6 742.8,177.0 743.0,178.8 743.3,181.0 743.5,178.6 743.8,181.4 744.0,187.2 744.2,188.1 744.5,188.3 744.7,192.2 745.0,192.7 745.2,197.2 745.5,195.6 745.7,195.9 746.0,199.4 746.2,205.7 746.4,201.5 746.7,205.3 746.9,207.5 747.2,206.7 747.4,210.6 747.7,210.1 747.9,213.1 748.1,212.5 748.4,215.8 748.6,213.4 748.9,211.5 749.1,220.2 749.4,219.3 749.6,216.7 749.8,217.1 750.1,216.1 750.3,221.6 750.6,216.3 750.8,220.2 751.1,219.9 751.3,217.5 751.5,222.1 751.8,216.7 752.0,220.3 752.3,219.1 752.5,220.0 752.8,215.8 753.0,219.0 753.3,220.7 753.5,216.8 753.7,220.3 754.0,221.9 754.2,221.6 754.5,217.4 754.7,222.0 755.0,217.6 755.2,221.4 755.4,216.2 755.7,218.6 755.9,216.6 756.2,223.3 756.4,221.4 756.7,217.3 756.9,217.8 757.1,221.4 757.4,220.6 757.6,219.3 757.9,220.0 758.1,220.7 758.4,219.1 758.6,216.4 758.8,218.1 759.1,220.9 759.3,221.3 759.6,222.0 759.8,221.8 760.1,220.0 760.3,219.7 760.6,223.1 760.8,218.0 761.0,218.9 761.3,223.0 761.5,221.8 761.8,218.6 762.0,216.7 762.3,217.3 762.5,221.2 762.7,219.0 763.0,221.3 763.2,216.7 763.5,221.8 763.7,218.9 764.0,220.6 764.2,224.2 764.4,221.2 764.7,222.1 764.9,218.1 765.2,218.6 765.4,217.4 765.7,222.3 765.9,218.5 766.1,221.0 766.4,223.6 766.6,218.1 766.9,220.3 767.1,217.3 767.4,221.3 767.6,220.0 767.9,222.1 768.1,221.0 768.3,222.5 768.6,217.3 768.8,218.1 769.1,221.9 769.3,221.0 769.6,219.7 769.8,218.7 770.0,219.2 770.3,218.1 770.5,221.0 770.8,218.3 771.0,220.1 771.3,217.3 771.5,222.7 771.7,220.4 772.0,219.4 772.2,218.9 772.5,217.2 772.7,220.7 773.0,221.5 773.2,223.1 773.4,219.9 773.7,217.5 773.9,218.3 774.2,220.5 774.4,218.4 774.7,216.9 774.9,222.6 775.2,218.6 775.4,219.1 775.6,223.9 775.9,217.9 776.1,221.0 776.4,221.6 776.6,220.0 776.9,219.1 777.1,219.1 777.3,220.2 777.6,218.3 777.8,222.3 778.1,223.3 778.3,215.3 778.6,221.1 778.8,219.6 779.0,220.0 779.3,220.4 779.5,219.4 779.8,220.2 780.0,217.8 780.3,221.2 780.5,221.5 780.7,220.6 781.0,221.8 781.2,218.3 781.5,220.9 781.7,221.6 782.0,218.1 782.2,219.5 782.5,218.2 782.7,217.8 782.9,222.3 783.2,218.7 783.4,217.2 783.7,218.1 783.9,218.4 784.2,223.4 784.4,219.8 784.6,216.1 784.9,217.2 785.1,216.5 785.4,214.9 785.6,214.8 785.9,213.9 786.1,214.5 786.3,215.1 786.6,209.9 786.8,209.8 787.1,209.2 787.3,210.6 787.6,205.9 787.8,205.1 788.0,206.8 788.3,202.3 788.5,199.4 788.8,203.6 789.0,199.7 789.3,200.6 789.5,196.9 789.8,194.6 790.0,193.7 790.2,200.4 790.5,199.9 790.7,198.5 791.0,199.3 791.2,195.3 791.5,196.7 791.7,192.6 791.9,197.1 792.2,199.9 792.4,199.2 792.7,205.1 792.9,199.9 793.2,203.4 793.4,202.8 793.6,204.5 793.9,205.1 794.1,207.5 794.4,205.2 794.6,211.3 794.9,210.3 795.1,209.8 795.3,209.6 795.6,213.4 795.8,213.0 796.1,214.4 796.3,214.1 796.6,217.7 796.8,218.6 797.1,215.2 797.3,220.2 797.5,218.6 797.8,217.7 798.0,219.4 798.3,217.2 798.5,219.3 798.8,218.4 799.0,220.9"/>
<line x1="456.5" y1="162" x2="456.5" y2="488" stroke="#8000ff" stroke-width="1.6" stroke-dasharray="7,5.5"/>
<line x1="755.6" y1="162" x2="755.6" y2="503" stroke="#8000ff" stroke-width="1.6" stroke-dasharray="7,5.5"/>
<ellipse cx="313.3" cy="292" rx="122" ry="32.6" fill="none" stroke="#800000" stroke-width="2.4"/>
<polyline points="312.8,340.8 331.2,340.8 331.2,316" fill="none" stroke="#ff0000" stroke-width="1.9"/>
<polygon points="327.2,317.5 335.2,317.5 331.2,303.5" fill="#ff0000"/>
<line x1="300.5" y1="493.2" x2="300.5" y2="510.4" stroke="#ff0000" stroke-width="3.2" stroke-linecap="round"/>
<line x1="330.1" y1="488.3" x2="330.1" y2="510.4" stroke="#ff0000" stroke-width="3.2" stroke-linecap="round"/>
<line x1="366.4" y1="445.3" x2="366.4" y2="510.4" stroke="#ff0000" stroke-width="3.2" stroke-linecap="round"/>
<line x1="535.7" y1="499.2" x2="535.7" y2="510.4" stroke="#ff0000" stroke-width="3.2" stroke-linecap="round"/>
<line x1="688.6" y1="501.1" x2="688.6" y2="510.4" stroke="#ff0000" stroke-width="3.2" stroke-linecap="round"/>
<line x1="774.3" y1="502.0" x2="774.3" y2="510.4" stroke="#ff0000" stroke-width="3.2" stroke-linecap="round"/>
<line x1="456.4" y1="489.3" x2="456.4" y2="510.4" stroke="#8000ff" stroke-width="3.2" stroke-linecap="round"/>
<line x1="754.3" y1="504.9" x2="754.3" y2="510.4" stroke="#8000ff" stroke-width="3.2" stroke-linecap="round"/>
<line x1="277.9" y1="537.1" x2="277.9" y2="579.5" stroke="#800000" stroke-width="3.0" stroke-linecap="round"/>
<line x1="351.7" y1="513.5" x2="351.7" y2="579.5" stroke="#800000" stroke-width="3.0" stroke-linecap="round"/>
<line x1="589.3" y1="553.2" x2="589.3" y2="579.5" stroke="#800000" stroke-width="3.0" stroke-linecap="round"/>
<line x1="741.4" y1="566.5" x2="741.4" y2="579.5" stroke="#800000" stroke-width="3.0" stroke-linecap="round"/>
<line x1="789.9" y1="570.0" x2="789.9" y2="579.5" stroke="#800000" stroke-width="3.0" stroke-linecap="round"/>
<line x1="385" y1="24.9" x2="458.9" y2="24.9" stroke="#000000" stroke-width="2.7"/>
<line x1="385" y1="64.6" x2="458.9" y2="64.6" stroke="#ff0000" stroke-width="2.7"/>
<line x1="385" y1="104.0" x2="458.9" y2="104.0" stroke="#0000ff" stroke-width="2.7"/>
<line x1="385" y1="143.2" x2="458.9" y2="143.2" stroke="#0b7f7f" stroke-width="2.7"/>
<line x1="65.5" y1="512.0" x2="799.0" y2="512.0" stroke="#000" stroke-width="2.2"/>
<rect x="69.0" y="4.4" width="730.0" height="576.6" fill="none" stroke="#000" stroke-width="3.8" stroke-linejoin="round"/>
<line x1="69.0" y1="581.0" x2="69.0" y2="593.0" stroke="#000" stroke-width="3.4" stroke-linecap="round"/>
<line x1="129.8" y1="581.0" x2="129.8" y2="587.0" stroke="#000" stroke-width="3.4" stroke-linecap="round"/>
<line x1="190.7" y1="581.0" x2="190.7" y2="593.0" stroke="#000" stroke-width="3.4" stroke-linecap="round"/>
<line x1="251.5" y1="581.0" x2="251.5" y2="587.0" stroke="#000" stroke-width="3.4" stroke-linecap="round"/>
<line x1="312.3" y1="581.0" x2="312.3" y2="593.0" stroke="#000" stroke-width="3.4" stroke-linecap="round"/>
<line x1="373.2" y1="581.0" x2="373.2" y2="587.0" stroke="#000" stroke-width="3.4" stroke-linecap="round"/>
<line x1="434.0" y1="581.0" x2="434.0" y2="593.0" stroke="#000" stroke-width="3.4" stroke-linecap="round"/>
<line x1="494.8" y1="581.0" x2="494.8" y2="587.0" stroke="#000" stroke-width="3.4" stroke-linecap="round"/>
<line x1="555.7" y1="581.0" x2="555.7" y2="593.0" stroke="#000" stroke-width="3.4" stroke-linecap="round"/>
<line x1="616.5" y1="581.0" x2="616.5" y2="587.0" stroke="#000" stroke-width="3.4" stroke-linecap="round"/>
<line x1="677.3" y1="581.0" x2="677.3" y2="593.0" stroke="#000" stroke-width="3.4" stroke-linecap="round"/>
<line x1="738.2" y1="581.0" x2="738.2" y2="587.0" stroke="#000" stroke-width="3.4" stroke-linecap="round"/>
<line x1="799.0" y1="581.0" x2="799.0" y2="593.0" stroke="#000" stroke-width="3.4" stroke-linecap="round"/>
<polyline fill="none" stroke="#0000ff" stroke-width="2.60" stroke-linejoin="round" stroke-linecap="round" clip-path="url(#clipb)" points="901.0,442.9 901.7,460.8 902.5,409.7 903.2,463.5 903.9,436.7 904.6,425.0 905.4,425.0 906.1,420.7 906.8,434.0 907.6,450.4 908.3,446.6 909.0,447.4 909.8,411.3 910.5,413.2 911.2,461.7 911.9,452.6 912.7,471.5 913.4,456.4 914.1,421.8 914.9,457.6 915.6,447.4 916.3,441.0 917.1,425.0 917.8,437.8 918.5,435.5 919.2,451.6 920.0,439.7 920.7,462.4 921.4,425.8 922.2,445.2 922.9,445.6 923.6,424.5 924.4,419.6 925.1,453.6 925.8,446.0 926.5,435.4 927.3,444.1 928.0,427.5 928.7,441.7 929.5,428.7 930.2,441.0 930.9,453.4 931.7,432.8 932.4,451.3 933.1,422.1 933.8,433.7 934.6,417.0 935.3,436.6 936.0,439.4 936.8,435.2 937.5,434.1 938.2,459.0 939.0,460.3 939.7,419.4 940.4,456.5 941.1,411.6 941.9,427.0 942.6,435.7 943.3,440.1 944.1,422.2 944.8,427.2 945.5,439.6 946.3,427.7 947.0,428.5 947.7,448.8 948.4,452.9 949.2,437.6 949.9,438.8 950.6,438.2 951.4,431.5 952.1,430.7 952.8,422.5 953.6,448.7 954.3,437.3 955.0,436.5 955.7,441.8 956.5,446.9 957.2,460.7 957.9,434.5 958.7,432.5 959.4,441.9 960.1,425.7 960.9,458.5 961.6,453.2 962.3,449.6 963.0,437.0 963.8,450.3 964.5,455.2 965.2,446.6 966.0,434.6 966.7,412.8 967.4,453.6 968.2,433.5 968.9,425.9 969.6,452.8 970.3,444.2 971.1,417.0 971.8,437.5 972.5,434.9 973.3,454.5 974.0,409.7 974.7,433.1 975.5,437.0 976.2,461.1 976.9,422.3 977.6,403.5 978.4,417.7 979.1,443.2 979.8,451.7 980.6,466.0 981.3,445.3 982.0,426.7 982.8,452.8 983.5,439.0 984.2,436.0 984.9,439.4 985.7,458.9 986.4,425.2 987.1,423.3 987.9,438.1 988.6,438.1 989.3,426.5 990.1,425.5 990.8,445.0 991.5,459.9 992.2,450.2 993.0,449.8 993.7,458.5 994.4,408.3 995.2,415.8 995.9,428.3 996.6,420.7 997.4,423.9 998.1,440.3 998.8,419.3 999.5,432.3 1000.3,407.5 1001.0,424.1 1001.7,460.1 1002.5,430.8 1003.2,444.2 1003.9,450.2 1004.7,431.6 1005.4,448.2 1006.1,442.5 1006.8,450.0 1007.6,429.4 1008.3,416.9 1009.0,423.4 1009.8,430.6 1010.5,447.5 1011.2,436.1 1012.0,433.1 1012.7,436.5 1013.4,456.3 1014.1,430.3 1014.9,462.7 1015.6,420.2 1016.3,430.1 1017.1,452.5 1017.8,447.3 1018.5,426.0 1019.3,437.6 1020.0,428.3 1020.7,452.5 1021.4,447.6 1022.2,428.2 1022.9,445.4 1023.6,433.6 1024.4,438.2 1025.1,440.3 1025.8,430.5 1026.6,445.9 1027.3,446.4 1028.0,445.9 1028.7,456.4 1029.5,435.1 1030.2,416.3 1030.9,431.7 1031.7,442.4 1032.4,439.6 1033.1,448.3 1033.9,451.8 1034.6,437.5 1035.3,437.6 1036.0,424.0 1036.8,455.3 1037.5,435.2 1038.2,422.5 1039.0,422.0 1039.7,432.9 1040.4,463.4 1041.2,451.3 1041.9,413.0 1042.6,437.4 1043.3,443.4 1044.1,449.0 1044.8,444.6 1045.5,429.4 1046.3,445.7 1047.0,430.7 1047.7,404.6 1048.5,428.3 1049.2,428.7 1049.9,454.1 1050.6,455.7 1051.4,423.1 1052.1,442.0 1052.8,440.7 1053.6,417.0 1054.3,407.5 1055.0,437.9 1055.8,441.4 1056.5,430.1 1057.2,403.6 1057.9,438.8 1058.7,430.3 1059.4,425.5 1060.1,434.3 1060.9,421.8 1061.6,448.0 1062.3,439.5 1063.1,430.6 1063.8,443.7 1064.5,438.8 1065.2,415.8 1066.0,437.0 1066.7,432.2 1067.4,412.3 1068.2,429.2 1068.9,445.9 1069.6,429.7 1070.4,461.1 1071.1,465.6 1071.8,434.5 1072.5,447.8 1073.3,470.1 1074.0,434.1 1074.7,425.3 1075.5,432.7 1076.2,417.9 1076.9,418.3 1077.7,442.5 1078.4,432.8 1079.1,443.1 1079.8,446.8 1080.6,427.4 1081.3,436.2 1082.0,435.0 1082.8,428.9 1083.5,426.2 1084.2,444.1 1085.0,437.0 1085.7,444.3 1086.4,454.7 1087.1,454.9 1087.9,421.9 1088.6,425.9 1089.3,435.1 1090.1,441.0 1090.8,453.6 1091.5,424.2 1092.3,432.3 1093.0,442.9 1093.7,458.1 1094.4,460.4 1095.2,423.4 1095.9,435.7 1096.6,426.5 1097.4,452.1 1098.1,445.9 1098.8,433.4 1099.6,429.4 1100.3,443.5 1101.0,454.1 1101.7,427.0 1102.5,433.8 1103.2,440.6 1103.9,439.1 1104.7,444.0 1105.4,423.3 1106.1,429.5 1106.9,406.2 1107.6,439.6 1108.3,455.3 1109.0,406.8 1109.8,428.9 1110.5,452.6 1111.2,436.4 1112.0,409.2 1112.7,456.7 1113.4,416.5 1114.2,459.8 1114.9,429.4 1115.6,427.5 1116.3,438.9 1117.1,438.1 1117.8,447.7 1118.5,446.2 1119.3,436.1 1120.0,458.8 1120.7,449.3 1121.5,442.5 1122.2,440.3 1122.9,436.7 1123.6,436.9 1124.4,448.4 1125.1,445.4 1125.8,438.6 1126.6,453.7 1127.3,433.9 1128.0,444.6 1128.8,451.1 1129.5,420.5 1130.2,433.6 1130.9,463.5 1131.7,422.7 1132.4,455.3 1133.1,420.9 1133.9,443.5 1134.6,420.6 1135.3,427.4 1136.1,431.0 1136.8,428.2 1137.5,452.1 1138.2,449.2 1139.0,449.5 1139.7,438.8 1140.4,460.9 1141.2,451.1 1141.9,439.8 1142.6,418.2 1143.4,444.6 1144.1,443.6 1144.8,434.5 1145.5,443.5 1146.3,443.8 1147.0,426.6 1147.7,439.2 1148.5,435.1 1149.2,433.8 1149.9,422.8 1150.7,420.0 1151.4,428.1 1152.1,447.4 1152.8,459.9 1153.6,417.4 1154.3,405.7 1155.0,415.7 1155.8,406.9 1156.5,412.3 1157.2,423.9 1158.0,402.6 1158.7,425.2 1159.4,427.1 1160.1,437.5 1160.9,441.4 1161.6,427.9 1162.3,447.0 1163.1,403.6 1163.8,415.2 1164.5,413.4 1165.3,417.4 1166.0,426.5 1166.7,405.8 1167.4,437.7 1168.2,431.4 1168.9,417.7 1169.6,420.2 1170.4,398.7 1171.1,378.9 1171.8,414.2 1172.6,421.5 1173.3,421.2 1174.0,401.7 1174.7,412.9 1175.5,448.1 1176.2,433.4 1176.9,432.7 1177.7,419.5 1178.4,436.8 1179.1,446.2 1179.9,439.1 1180.6,422.0 1181.3,433.6 1182.0,416.5 1182.8,426.2 1183.5,440.8 1184.2,424.1 1185.0,429.4 1185.7,455.7 1186.4,431.6 1187.2,446.5 1187.9,430.5 1188.6,418.0 1189.3,436.0 1190.1,430.7 1190.8,405.6 1191.5,418.3 1192.3,430.6 1193.0,460.0 1193.7,428.6 1194.5,437.1 1195.2,447.5 1195.9,442.4 1196.6,432.8 1197.4,464.2 1198.1,458.7 1198.8,402.3 1199.6,453.0 1200.3,446.6 1201.0,453.3 1201.8,439.6 1202.5,450.9 1203.2,467.8 1203.9,464.5 1204.7,465.6 1205.4,454.2 1206.1,452.2 1206.9,452.4 1207.6,420.6 1208.3,472.6 1209.1,441.2 1209.8,442.4 1210.5,439.1 1211.2,444.3 1212.0,404.2 1212.7,440.1 1213.4,416.8 1214.2,420.8 1214.9,407.0 1215.6,408.7 1216.4,443.5 1217.1,426.3 1217.8,431.4 1218.5,429.3 1219.3,412.7 1220.0,418.0 1220.7,407.4 1221.5,419.4 1222.2,386.8 1222.9,410.9 1223.7,426.1 1224.4,424.8 1225.1,416.8 1225.8,398.5 1226.6,365.8 1227.3,384.1 1228.0,365.7 1228.8,347.9 1229.5,309.9 1230.2,318.3 1231.0,316.9 1231.7,289.0 1232.4,256.4 1233.1,251.0 1233.9,226.5 1234.6,214.6 1235.3,212.6 1236.1,195.5 1236.8,185.5 1237.5,188.3 1238.3,171.8 1239.0,174.9 1239.7,207.1 1240.4,202.7 1241.2,235.1 1241.9,214.4 1242.6,278.4 1243.4,276.1 1244.1,321.0 1244.8,276.8 1245.6,302.8 1246.3,365.6 1247.0,360.3 1247.7,375.1 1248.5,383.4 1249.2,393.6 1249.9,407.7 1250.7,390.9 1251.4,409.8 1252.1,437.3 1252.9,424.0 1253.6,414.9 1254.3,428.5 1255.0,445.2 1255.8,427.7 1256.5,429.4 1257.2,440.8 1258.0,447.2 1258.7,457.5 1259.4,433.3 1260.2,441.2 1260.9,452.3 1261.6,407.2 1262.3,439.1 1263.1,444.2 1263.8,436.1 1264.5,424.4 1265.3,446.7 1266.0,457.0 1266.7,436.5 1267.5,430.5 1268.2,434.6 1268.9,461.8 1269.6,457.0 1270.4,438.4 1271.1,420.7 1271.8,418.1 1272.6,432.5 1273.3,432.5 1274.0,441.4 1274.8,419.7 1275.5,435.0 1276.2,445.0 1276.9,410.6 1277.7,471.7 1278.4,445.2 1279.1,444.2 1279.9,415.8 1280.6,419.8 1281.3,451.2 1282.1,448.9 1282.8,398.9 1283.5,452.6 1284.2,445.7 1285.0,443.8 1285.7,416.7 1286.4,437.5 1287.2,423.8 1287.9,441.6 1288.6,461.0 1289.4,442.0 1290.1,447.5 1290.8,426.5 1291.5,415.1 1292.3,430.6 1293.0,446.0 1293.7,452.1 1294.5,427.9 1295.2,432.2 1295.9,421.5 1296.7,400.4 1297.4,427.6 1298.1,430.9 1298.8,418.3 1299.6,421.2 1300.3,395.1 1301.0,422.8 1301.8,442.2 1302.5,419.2 1303.2,427.4 1304.0,423.6 1304.7,403.3 1305.4,416.3 1306.1,398.1 1306.9,443.1 1307.6,408.3 1308.3,384.7 1309.1,373.6 1309.8,415.5 1310.5,396.2 1311.3,386.0 1312.0,351.0 1312.7,354.2 1313.4,333.7 1314.2,357.6 1314.9,319.2 1315.6,342.2 1316.4,304.1 1317.1,273.3 1317.8,280.1 1318.6,207.0 1319.3,206.0 1320.0,192.2 1320.7,195.1 1321.5,176.9 1322.2,149.8 1322.9,104.5 1323.7,115.8 1324.4,104.1 1325.1,142.9 1325.9,124.2 1326.6,152.0 1327.3,187.1 1328.0,175.1 1328.8,206.4 1329.5,209.7 1330.2,236.4 1331.0,255.8 1331.7,273.9 1332.4,292.0 1333.2,300.7 1333.9,350.1 1334.6,324.0 1335.3,349.2 1336.1,350.8 1336.8,329.0 1337.5,386.4 1338.3,381.1 1339.0,361.5 1339.7,376.1 1340.5,366.2 1341.2,398.7 1341.9,421.1 1342.6,418.0 1343.4,381.0 1344.1,375.9 1344.8,412.0 1345.6,431.0 1346.3,406.6 1347.0,422.9 1347.8,385.7 1348.5,406.1 1349.2,415.1 1349.9,402.3 1350.7,405.4 1351.4,419.8 1352.1,399.7 1352.9,394.0 1353.6,421.0 1354.3,413.2 1355.1,393.9 1355.8,415.9 1356.5,400.2 1357.2,418.6 1358.0,408.1 1358.7,403.4 1359.4,395.3 1360.2,409.8 1360.9,405.3 1361.6,434.5 1362.4,403.6 1363.1,382.4 1363.8,434.2 1364.5,369.3 1365.3,425.1 1366.0,384.6 1366.7,417.9 1367.5,391.7 1368.2,401.1 1368.9,391.0 1369.7,386.7 1370.4,394.1 1371.1,373.6 1371.8,388.4 1372.6,361.5 1373.3,364.0 1374.0,364.6 1374.8,367.9 1375.5,385.1 1376.2,350.2 1377.0,346.6 1377.7,339.3 1378.4,347.2 1379.1,359.1 1379.9,335.7 1380.6,339.7 1381.3,332.3 1382.1,340.0 1382.8,305.0 1383.5,343.1 1384.3,346.2 1385.0,317.2 1385.7,327.5 1386.4,313.3 1387.2,341.9 1387.9,335.5 1388.6,360.7 1389.4,321.7 1390.1,311.2 1390.8,317.2 1391.6,305.2 1392.3,327.9 1393.0,329.3 1393.7,338.6 1394.5,330.1 1395.2,316.6 1395.9,342.0 1396.7,329.5 1397.4,331.4 1398.1,297.8 1398.9,299.9 1399.6,299.1 1400.3,298.5 1401.0,265.4 1401.8,311.7 1402.5,282.7 1403.2,291.1 1404.0,280.9 1404.7,282.0 1405.4,256.5 1406.2,241.1 1406.9,210.3 1407.6,209.0 1408.3,218.4 1409.1,146.8 1409.8,145.0 1410.5,140.8 1411.3,141.1 1412.0,77.5 1412.7,64.9 1413.5,50.8 1414.2,58.7 1414.9,-14.5 1415.6,-29.2 1416.4,-41.5 1417.1,-90.5 1417.8,-100.3 1418.6,-126.7 1419.3,-165.3 1420.0,-180.6 1420.8,-185.1 1421.5,-235.0 1422.2,-267.7 1422.9,-295.8 1423.7,-302.4 1424.4,-310.3 1425.1,-342.9 1425.9,-357.3 1426.6,-342.8 1427.3,-401.8 1428.1,-417.5 1428.8,-405.0 1429.5,-418.6 1430.2,-410.0 1431.0,-400.9 1431.7,-413.2 1432.4,-418.0 1433.2,-400.8 1433.9,-392.7 1434.6,-390.8 1435.4,-385.2 1436.1,-350.8 1436.8,-347.1 1437.5,-342.8 1438.3,-294.0 1439.0,-290.6 1439.7,-267.6 1440.5,-224.8 1441.2,-221.7 1441.9,-186.3 1442.7,-172.2 1443.4,-153.7 1444.1,-98.4 1444.8,-51.8 1445.6,-62.4 1446.3,-4.3 1447.0,20.4 1447.8,52.9 1448.5,38.0 1449.2,68.6 1450.0,127.5 1450.7,123.6 1451.4,145.7 1452.1,177.2 1452.9,195.1 1453.6,195.4 1454.3,217.8 1455.1,247.0 1455.8,256.4 1456.5,255.0 1457.3,299.0 1458.0,304.4 1458.7,297.5 1459.4,304.0 1460.2,336.2 1460.9,293.3 1461.6,339.9 1462.4,336.2 1463.1,341.4 1463.8,371.3 1464.6,367.7 1465.3,401.8 1466.0,368.8 1466.7,381.7 1467.5,357.9 1468.2,398.4 1468.9,376.5 1469.7,391.7 1470.4,410.7 1471.1,411.0 1471.9,402.3 1472.6,416.3 1473.3,391.3 1474.0,385.2 1474.8,377.4 1475.5,410.8 1476.2,433.8 1477.0,399.4 1477.7,405.6 1478.4,401.5 1479.2,414.8 1479.9,379.9 1480.6,422.2 1481.3,426.4 1482.1,399.9 1482.8,395.6 1483.5,398.2 1484.3,421.0 1485.0,435.5 1485.7,398.4 1486.5,390.6 1487.2,416.6 1487.9,419.8 1488.6,427.2 1489.4,406.1 1490.1,428.8 1490.8,435.0 1491.6,393.2 1492.3,414.4 1493.0,429.0 1493.8,431.9 1494.5,412.0 1495.2,390.9 1495.9,409.4 1496.7,399.9 1497.4,414.3 1498.1,438.7 1498.9,413.4 1499.6,425.0 1500.3,405.4 1501.1,438.9 1501.8,415.2 1502.5,409.1 1503.2,454.6 1504.0,431.3 1504.7,437.1 1505.4,396.0 1506.2,449.3 1506.9,454.2 1507.6,425.9 1508.4,423.7 1509.1,419.7 1509.8,445.7 1510.5,405.1 1511.3,434.8 1512.0,460.9 1512.7,432.5 1513.5,461.2 1514.2,431.4 1514.9,426.6 1515.7,445.8 1516.4,430.8 1517.1,433.8 1517.8,426.3 1518.6,414.1 1519.3,428.3 1520.0,444.3 1520.8,450.4 1521.5,432.8 1522.2,439.0 1523.0,420.1 1523.7,432.0 1524.4,432.6 1525.1,433.2 1525.9,436.5 1526.6,441.3 1527.3,454.9 1528.1,448.2 1528.8,444.5 1529.5,418.0 1530.3,424.6 1531.0,438.0 1531.7,439.1 1532.4,449.0 1533.2,410.8 1533.9,441.0 1534.6,440.4 1535.4,433.4 1536.1,426.6 1536.8,442.6 1537.6,436.8 1538.3,446.8 1539.0,408.7 1539.7,425.9 1540.5,463.7 1541.2,443.8 1541.9,428.6 1542.7,435.8 1543.4,420.9 1544.1,463.1 1544.9,463.4 1545.6,455.2 1546.3,460.3 1547.0,449.1 1547.8,462.4 1548.5,452.1 1549.2,464.3 1550.0,442.4 1550.7,441.6 1551.4,434.4 1552.2,436.0 1552.9,419.2 1553.6,464.1 1554.3,465.4 1555.1,455.2 1555.8,459.5 1556.5,447.8 1557.3,452.0 1558.0,423.9 1558.7,443.6 1559.5,417.0 1560.2,434.5 1560.9,440.7 1561.6,440.4 1562.4,429.0 1563.1,465.1 1563.8,460.7 1564.6,437.5 1565.3,426.9 1566.0,438.3 1566.8,460.3 1567.5,416.7 1568.2,458.5 1568.9,444.2 1569.7,440.2 1570.4,462.1 1571.1,446.8 1571.9,441.2 1572.6,465.7 1573.3,422.4 1574.1,471.7 1574.8,434.0 1575.5,434.3 1576.2,471.6 1577.0,481.5 1577.7,466.3 1578.4,434.6 1579.2,414.1 1579.9,451.4 1580.6,447.8 1581.4,438.9 1582.1,446.0 1582.8,437.7 1583.5,461.1 1584.3,446.9 1585.0,445.1 1585.7,414.6 1586.5,452.3 1587.2,426.2 1587.9,459.9 1588.7,448.1 1589.4,417.6 1590.1,443.6 1590.8,430.5 1591.6,457.5 1592.3,455.9 1593.0,465.3 1593.8,437.3 1594.5,456.7 1595.2,428.1 1596.0,454.3 1596.7,445.8 1597.4,453.0 1598.1,449.3 1598.9,465.2 1599.6,444.3 1600.3,446.9 1601.1,471.2 1601.8,448.7 1602.5,441.7 1603.3,436.1 1604.0,450.2 1604.7,449.5 1605.4,460.0 1606.2,447.6 1606.9,460.8 1607.6,446.3 1608.4,474.9 1609.1,449.7 1609.8,460.9 1610.6,456.5 1611.3,430.4 1612.0,466.6 1612.7,444.3 1613.5,465.0 1614.2,420.2 1614.9,422.5 1615.7,420.3 1616.4,423.4 1617.1,445.0 1617.9,450.5 1618.6,436.0 1619.3,445.8 1620.0,440.6 1620.8,462.5 1621.5,462.1 1622.2,455.9 1623.0,461.3 1623.7,477.7 1624.4,461.4 1625.2,428.2 1625.9,448.3 1626.6,447.0 1627.3,464.2 1628.1,459.0 1628.8,465.0 1629.5,428.1 1630.3,473.3 1631.0,449.6"/>
<line x1="1165.7" y1="332.3" x2="1165.7" y2="538" stroke="#800000" stroke-width="1.8" stroke-dasharray="7,6"/>
<line x1="1386.8" y1="341" x2="1386.8" y2="513.2" stroke="#800000" stroke-width="1.8" stroke-dasharray="7,6"/>
<line x1="1233.0" y1="494.2" x2="1233.0" y2="511.5" stroke="#ff0000" stroke-width="3.4" stroke-linecap="round"/>
<line x1="1321.0" y1="489.7" x2="1321.0" y2="511.5" stroke="#ff0000" stroke-width="3.4" stroke-linecap="round"/>
<line x1="1430.0" y1="445.3" x2="1430.0" y2="511.5" stroke="#ff0000" stroke-width="3.4" stroke-linecap="round"/>
<line x1="1166.4" y1="539.8" x2="1166.4" y2="580.6" stroke="#800000" stroke-width="3.2" stroke-linecap="round"/>
<line x1="1385.8" y1="514.8" x2="1385.8" y2="580.6" stroke="#800000" stroke-width="3.2" stroke-linecap="round"/>
<line x1="1218.2" y1="27.2" x2="1291.5" y2="27.2" stroke="#0000ff" stroke-width="2.5"/>
<line x1="901.0" y1="513.2" x2="1631.0" y2="513.2" stroke="#000" stroke-width="2.2"/>
<rect x="901.0" y="5.9" width="730.0" height="576.3" fill="none" stroke="#000" stroke-width="3.8" stroke-linejoin="round"/>
<line x1="901.0" y1="582.2" x2="901.0" y2="594.2" stroke="#000" stroke-width="3.4" stroke-linecap="round"/>
<line x1="992.2" y1="582.2" x2="992.2" y2="588.2" stroke="#000" stroke-width="3.4" stroke-linecap="round"/>
<line x1="1083.5" y1="582.2" x2="1083.5" y2="594.2" stroke="#000" stroke-width="3.4" stroke-linecap="round"/>
<line x1="1174.8" y1="582.2" x2="1174.8" y2="588.2" stroke="#000" stroke-width="3.4" stroke-linecap="round"/>
<line x1="1266.0" y1="582.2" x2="1266.0" y2="594.2" stroke="#000" stroke-width="3.4" stroke-linecap="round"/>
<line x1="1357.2" y1="582.2" x2="1357.2" y2="588.2" stroke="#000" stroke-width="3.4" stroke-linecap="round"/>
<line x1="1448.5" y1="582.2" x2="1448.5" y2="594.2" stroke="#000" stroke-width="3.4" stroke-linecap="round"/>
<line x1="1539.8" y1="582.2" x2="1539.8" y2="588.2" stroke="#000" stroke-width="3.4" stroke-linecap="round"/>
<line x1="1631.0" y1="582.2" x2="1631.0" y2="594.2" stroke="#000" stroke-width="3.4" stroke-linecap="round"/>
<text x="76.28" y="56.80" font-family="'Liberation Sans', Arial, sans-serif" font-size="53.40" font-weight="bold" fill="#000" textLength="66.60" lengthAdjust="spacingAndGlyphs">(a)</text>
<text x="906.01" y="57.20" font-family="'Liberation Sans', Arial, sans-serif" font-size="53.30" font-weight="bold" fill="#000" textLength="68.72" lengthAdjust="spacingAndGlyphs">(b)</text>
<text x="93.21" y="193.80" font-family="'Liberation Sans', Arial, sans-serif" font-size="30.00" font-weight="bold" fill="#000" textLength="21.50" lengthAdjust="spacingAndGlyphs">C</text>
<text x="466.73" y="35.60" font-family="'Liberation Serif', 'Times New Roman', serif" font-size="31.00" font-weight="bold" fill="#000" textLength="130.08" lengthAdjust="spacingAndGlyphs">untreated</text>
<text x="465.53" y="75.20" font-family="'Liberation Serif', 'Times New Roman', serif" font-size="31.20" font-weight="bold" fill="#000" textLength="47.75" lengthAdjust="spacingAndGlyphs">250</text>
<text x="523.80" y="63.71" font-family="'Liberation Serif', 'Times New Roman', serif" font-size="15.50" font-weight="bold" fill="#000" textLength="8.00" lengthAdjust="spacingAndGlyphs">°</text>
<text x="529.00" y="75.20" font-family="'Liberation Serif', 'Times New Roman', serif" font-size="31.50" font-weight="normal" fill="#000" textLength="21.65" lengthAdjust="spacingAndGlyphs">C</text>
<text x="466.33" y="115.00" font-family="'Liberation Serif', 'Times New Roman', serif" font-size="31.20" font-weight="bold" fill="#000">400</text>
<text x="523.80" y="103.51" font-family="'Liberation Serif', 'Times New Roman', serif" font-size="15.50" font-weight="bold" fill="#000" textLength="8.00" lengthAdjust="spacingAndGlyphs">°</text>
<text x="529.00" y="115.00" font-family="'Liberation Serif', 'Times New Roman', serif" font-size="31.50" font-weight="normal" fill="#000" textLength="21.65" lengthAdjust="spacingAndGlyphs">C</text>
<text x="465.69" y="154.90" font-family="'Liberation Serif', 'Times New Roman', serif" font-size="31.20" font-weight="bold" fill="#000" textLength="47.58" lengthAdjust="spacingAndGlyphs">600</text>
<text x="523.80" y="143.41" font-family="'Liberation Serif', 'Times New Roman', serif" font-size="15.50" font-weight="bold" fill="#000" textLength="8.00" lengthAdjust="spacingAndGlyphs">°</text>
<text x="529.00" y="154.90" font-family="'Liberation Serif', 'Times New Roman', serif" font-size="31.50" font-weight="normal" fill="#000" textLength="21.65" lengthAdjust="spacingAndGlyphs">C</text>
<text x="1298.93" y="38.00" font-family="'Liberation Serif', 'Times New Roman', serif" font-size="31.50" font-weight="bold" fill="#000">400</text>
<text x="1356.53" y="26.51" font-family="'Liberation Serif', 'Times New Roman', serif" font-size="15.50" font-weight="bold" fill="#000" textLength="7.74" lengthAdjust="spacingAndGlyphs">°</text>
<text x="1361.25" y="38.00" font-family="'Liberation Serif', 'Times New Roman', serif" font-size="32.00" font-weight="normal" fill="#000" textLength="22.47" lengthAdjust="spacingAndGlyphs">C</text>
<text transform="translate(258.70,156.66) rotate(-90)" font-family="'Liberation Sans', Arial, sans-serif" font-size="26.50" font-weight="bold" fill="#800000" textLength="65.11" lengthAdjust="spacingAndGlyphs">(111)</text>
<text transform="translate(269.70,92.61) rotate(-90)" font-family="'Liberation Sans', Arial, sans-serif" font-size="16.50" font-weight="bold" fill="#800000" textLength="30.45" lengthAdjust="spacingAndGlyphs">NiO</text>
<text transform="translate(327.80,154.89) rotate(-90)" font-family="'Liberation Sans', Arial, sans-serif" font-size="26.50" font-weight="bold" fill="#800000" textLength="65.08" lengthAdjust="spacingAndGlyphs">(200)</text>
<text transform="translate(338.80,90.73) rotate(-90)" font-family="'Liberation Sans', Arial, sans-serif" font-size="16.50" font-weight="bold" fill="#800000" textLength="28.21" lengthAdjust="spacingAndGlyphs">NiO</text>
<text transform="translate(618.80,154.39) rotate(-90)" font-family="'Liberation Sans', Arial, sans-serif" font-size="26.50" font-weight="bold" fill="#800000" textLength="64.76" lengthAdjust="spacingAndGlyphs">(220)</text>
<text transform="translate(629.80,90.56) rotate(-90)" font-family="'Liberation Sans', Arial, sans-serif" font-size="16.50" font-weight="bold" fill="#800000" textLength="29.06" lengthAdjust="spacingAndGlyphs">NiO</text>
<text transform="translate(745.00,154.72) rotate(-90)" font-family="'Liberation Sans', Arial, sans-serif" font-size="26.50" font-weight="bold" fill="#800000" textLength="64.62" lengthAdjust="spacingAndGlyphs">(311)</text>
<text transform="translate(756.00,91.06) rotate(-90)" font-family="'Liberation Sans', Arial, sans-serif" font-size="16.50" font-weight="bold" fill="#800000" textLength="29.06" lengthAdjust="spacingAndGlyphs">NiO</text>
<text transform="translate(782.60,154.69) rotate(-90)" font-family="'Liberation Sans', Arial, sans-serif" font-size="26.50" font-weight="bold" fill="#800000" textLength="65.08" lengthAdjust="spacingAndGlyphs">(222)</text>
<text transform="translate(793.60,90.57) rotate(-90)" font-family="'Liberation Sans', Arial, sans-serif" font-size="16.50" font-weight="bold" fill="#800000">NiO</text>
<text transform="translate(1175.20,315.01) rotate(-90)" font-family="'Liberation Sans', Arial, sans-serif" font-size="26.50" font-weight="bold" fill="#800000" textLength="62.70" lengthAdjust="spacingAndGlyphs">(111)</text>
<text transform="translate(1186.20,253.36) rotate(-90)" font-family="'Liberation Sans', Arial, sans-serif" font-size="16.50" font-weight="bold" fill="#800000" textLength="31.72" lengthAdjust="spacingAndGlyphs">NiO</text>
<text transform="translate(1388.10,314.99) rotate(-90)" font-family="'Liberation Sans', Arial, sans-serif" font-size="26.50" font-weight="bold" fill="#800000" textLength="64.87" lengthAdjust="spacingAndGlyphs">(200)</text>
<text transform="translate(1399.10,251.11) rotate(-90)" font-family="'Liberation Sans', Arial, sans-serif" font-size="16.50" font-weight="bold" fill="#800000" textLength="30.45" lengthAdjust="spacingAndGlyphs">NiO</text>
<text x="247.76" y="259.60" font-family="'Liberation Sans', Arial, sans-serif" font-size="26.80" font-weight="bold" fill="#ff0000">(010)</text>
<text x="310.26" y="270.30" font-family="'Liberation Sans', Arial, sans-serif" font-size="15.80" font-weight="bold" fill="#ff0000" textLength="16.07" lengthAdjust="spacingAndGlyphs">Ni</text>
<text x="375.54" y="262.00" font-family="'Liberation Sans', Arial, sans-serif" font-size="26.80" font-weight="bold" fill="#ff0000" textLength="62.01" lengthAdjust="spacingAndGlyphs">(011)</text>
<text x="437.63" y="272.60" font-family="'Liberation Sans', Arial, sans-serif" font-size="15.80" font-weight="bold" fill="#ff0000" textLength="16.53" lengthAdjust="spacingAndGlyphs">Ni</text>
<text x="248.26" y="346.50" font-family="'Liberation Sans', Arial, sans-serif" font-size="26.80" font-weight="bold" fill="#ff0000">(002)</text>
<text x="310.88" y="357.50" font-family="'Liberation Sans', Arial, sans-serif" font-size="15.80" font-weight="bold" fill="#ff0000" textLength="15.72" lengthAdjust="spacingAndGlyphs">Ni</text>
<text x="504.45" y="264.00" font-family="'Liberation Sans', Arial, sans-serif" font-size="26.80" font-weight="bold" fill="#ff0000" textLength="63.09" lengthAdjust="spacingAndGlyphs">(012)</text>
<text x="566.50" y="274.90" font-family="'Liberation Sans', Arial, sans-serif" font-size="15.80" font-weight="bold" fill="#ff0000" textLength="16.88" lengthAdjust="spacingAndGlyphs">Ni</text>
<text x="649.92" y="265.50" font-family="'Liberation Sans', Arial, sans-serif" font-size="26.80" font-weight="bold" fill="#ff0000" textLength="63.05" lengthAdjust="spacingAndGlyphs">(110)</text>
<text x="712.76" y="275.60" font-family="'Liberation Sans', Arial, sans-serif" font-size="15.80" font-weight="bold" fill="#ff0000" textLength="15.95" lengthAdjust="spacingAndGlyphs">Ni</text>
<text x="435.07" y="345.20" font-family="'Liberation Sans', Arial, sans-serif" font-size="26.80" font-weight="bold" fill="#8000ff" textLength="62.26" lengthAdjust="spacingAndGlyphs">(200)</text>
<text x="497.56" y="355.80" font-family="'Liberation Sans', Arial, sans-serif" font-size="15.80" font-weight="bold" fill="#8000ff" textLength="16.07" lengthAdjust="spacingAndGlyphs">Ni</text>
<text x="718.78" y="347.40" font-family="'Liberation Sans', Arial, sans-serif" font-size="26.80" font-weight="bold" fill="#8000ff" textLength="61.84" lengthAdjust="spacingAndGlyphs">(220)</text>
<text x="780.86" y="358.00" font-family="'Liberation Sans', Arial, sans-serif" font-size="15.80" font-weight="bold" fill="#8000ff" textLength="16.07" lengthAdjust="spacingAndGlyphs">Ni</text>
<text x="1196.56" y="99.30" font-family="'Liberation Sans', Arial, sans-serif" font-size="26.80" font-weight="bold" fill="#ff0000">(010)</text>
<text x="1258.61" y="109.80" font-family="'Liberation Sans', Arial, sans-serif" font-size="15.80" font-weight="bold" fill="#ff0000" textLength="16.76" lengthAdjust="spacingAndGlyphs">Ni</text>
<text x="1293.84" y="99.00" font-family="'Liberation Sans', Arial, sans-serif" font-size="26.80" font-weight="bold" fill="#ff0000" textLength="63.72" lengthAdjust="spacingAndGlyphs">(002)</text>
<text x="1356.17" y="109.60" font-family="'Liberation Sans', Arial, sans-serif" font-size="15.80" font-weight="bold" fill="#ff0000" textLength="17.34" lengthAdjust="spacingAndGlyphs">Ni</text>
<text x="1458.41" y="100.00" font-family="'Liberation Sans', Arial, sans-serif" font-size="26.80" font-weight="bold" fill="#ff0000" textLength="63.36" lengthAdjust="spacingAndGlyphs">(011)</text>
<text x="1520.21" y="110.30" font-family="'Liberation Sans', Arial, sans-serif" font-size="15.80" font-weight="bold" fill="#ff0000" textLength="16.76" lengthAdjust="spacingAndGlyphs">Ni</text>
<text x="92.86" y="500.70" font-family="'Liberation Sans', Arial, sans-serif" font-size="25.80" font-weight="bold" fill="#ff0000" textLength="132.59" lengthAdjust="spacingAndGlyphs">Ni 45-1027</text>
<text x="642.76" y="499.50" font-family="'Liberation Sans', Arial, sans-serif" font-size="26.00" font-weight="bold" fill="#8000ff" textLength="132.08" lengthAdjust="spacingAndGlyphs">Ni 04-0850</text>
<text x="642.77" y="556.50" font-family="'Liberation Sans', Arial, sans-serif" font-size="25.50" font-weight="bold" fill="#800000" textLength="152.79" lengthAdjust="spacingAndGlyphs">NiO 47-1049</text>
<text x="1471.55" y="498.80" font-family="'Liberation Sans', Arial, sans-serif" font-size="26.00" font-weight="bold" fill="#ff0000" textLength="133.20" lengthAdjust="spacingAndGlyphs">Ni 45-1027</text>
<text x="1471.55" y="560.90" font-family="'Liberation Sans', Arial, sans-serif" font-size="26.00" font-weight="bold" fill="#800000" textLength="154.21" lengthAdjust="spacingAndGlyphs">NiO 47-1049</text>
<text x="51.28" y="623.00" font-family="'Liberation Sans', Arial, sans-serif" font-size="28.80" font-weight="bold" fill="#000" textLength="35.68" lengthAdjust="spacingAndGlyphs">20</text>
<text x="173.27" y="623.00" font-family="'Liberation Sans', Arial, sans-serif" font-size="28.80" font-weight="bold" fill="#000" textLength="35.34" lengthAdjust="spacingAndGlyphs">30</text>
<text x="295.26" y="623.00" font-family="'Liberation Sans', Arial, sans-serif" font-size="28.80" font-weight="bold" fill="#000" textLength="35.00" lengthAdjust="spacingAndGlyphs">40</text>
<text x="416.44" y="623.00" font-family="'Liberation Sans', Arial, sans-serif" font-size="28.80" font-weight="bold" fill="#000" textLength="35.51" lengthAdjust="spacingAndGlyphs">50</text>
<text x="537.94" y="623.00" font-family="'Liberation Sans', Arial, sans-serif" font-size="28.80" font-weight="bold" fill="#000" textLength="35.68" lengthAdjust="spacingAndGlyphs">60</text>
<text x="659.44" y="623.00" font-family="'Liberation Sans', Arial, sans-serif" font-size="28.80" font-weight="bold" fill="#000" textLength="35.85" lengthAdjust="spacingAndGlyphs">70</text>
<text x="781.44" y="623.00" font-family="'Liberation Sans', Arial, sans-serif" font-size="28.80" font-weight="bold" fill="#000" textLength="35.51" lengthAdjust="spacingAndGlyphs">80</text>
<text x="883.61" y="623.90" font-family="'Liberation Sans', Arial, sans-serif" font-size="28.80" font-weight="bold" fill="#000" textLength="35.34" lengthAdjust="spacingAndGlyphs">30</text>
<text x="1066.12" y="623.90" font-family="'Liberation Sans', Arial, sans-serif" font-size="28.80" font-weight="bold" fill="#000" textLength="34.84" lengthAdjust="spacingAndGlyphs">35</text>
<text x="1248.93" y="623.90" font-family="'Liberation Sans', Arial, sans-serif" font-size="28.80" font-weight="bold" fill="#000" textLength="35.00" lengthAdjust="spacingAndGlyphs">40</text>
<text x="1431.43" y="623.90" font-family="'Liberation Sans', Arial, sans-serif" font-size="28.80" font-weight="bold" fill="#000" textLength="34.51" lengthAdjust="spacingAndGlyphs">45</text>
<text x="1613.44" y="623.90" font-family="'Liberation Sans', Arial, sans-serif" font-size="28.80" font-weight="bold" fill="#000" textLength="35.51" lengthAdjust="spacingAndGlyphs">50</text>
<text x="315.01" y="671.50" font-family="'Liberation Sans', Arial, sans-serif" font-size="40.50" font-weight="bold" fill="#000" textLength="22.02" lengthAdjust="spacingAndGlyphs">2</text>
<text x="336.94" y="671.50" font-family="'Liberation Serif', 'Times New Roman', serif" font-size="40.00" font-weight="normal" fill="#000" textLength="19.77" lengthAdjust="spacingAndGlyphs">θ</text>
<text x="368.95" y="671.50" font-family="'Liberation Sans', Arial, sans-serif" font-size="39.50" font-weight="bold" fill="#000" textLength="162.13" lengthAdjust="spacingAndGlyphs">(degree)</text>
<text x="1158.01" y="672.70" font-family="'Liberation Sans', Arial, sans-serif" font-size="40.50" font-weight="bold" fill="#000" textLength="22.02" lengthAdjust="spacingAndGlyphs">2</text>
<text x="1179.25" y="672.70" font-family="'Liberation Serif', 'Times New Roman', serif" font-size="40.00" font-weight="normal" fill="#000" textLength="21.86" lengthAdjust="spacingAndGlyphs">θ</text>
<text x="1215.18" y="672.70" font-family="'Liberation Sans', Arial, sans-serif" font-size="39.50" font-weight="bold" fill="#000" textLength="159.26" lengthAdjust="spacingAndGlyphs">(degree)</text>
<text transform="translate(32.90,459.67) rotate(-90)" font-family="'Liberation Sans', Arial, sans-serif" font-size="40.50" font-weight="bold" fill="#000" textLength="278.67" lengthAdjust="spacingAndGlyphs">Intensity (a.u.)</text>
<text transform="translate(865.00,460.98) rotate(-90)" font-family="'Liberation Sans', Arial, sans-serif" font-size="40.50" font-weight="bold" fill="#000" textLength="279.18" lengthAdjust="spacingAndGlyphs">Intensity (a.u.)</text>
</svg>
</body></html>
